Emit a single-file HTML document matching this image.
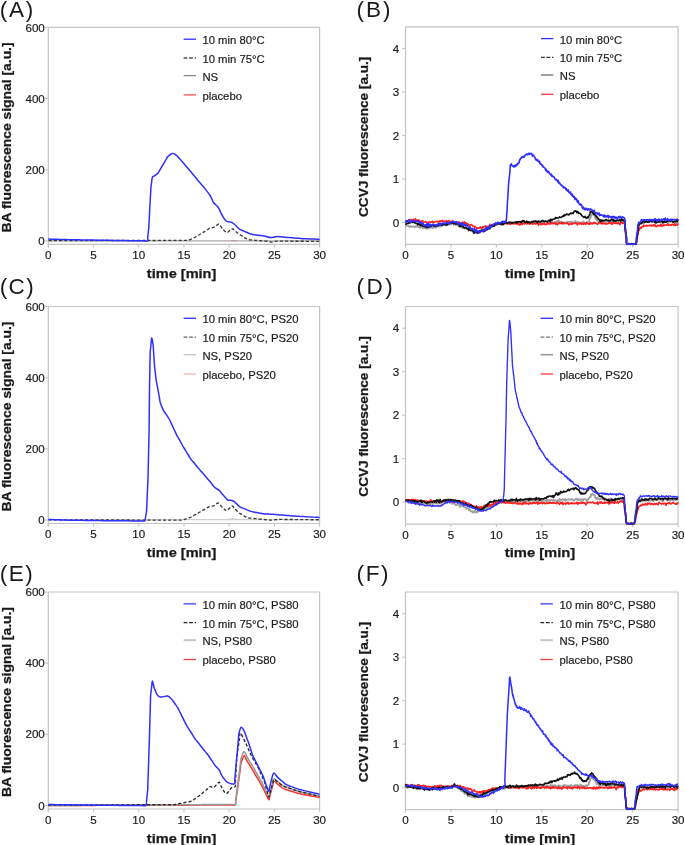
<!DOCTYPE html><html><head><meta charset="utf-8"><style>html,body{margin:0;padding:0;background:#fff;width:685px;height:845px;overflow:hidden}</style></head><body><svg width="685" height="845" viewBox="0 0 685 845" style="font-family:'Liberation Sans', sans-serif;display:block;will-change:transform">
<rect width="685" height="845" fill="#fff"/>
<path d="M48.3,27.4 H319.6 V244.4 M48.3,27.4 V247.4 M48.3,244.4 H319.6" stroke="#c4c4c4" stroke-width="1.2" fill="none"/>
<path d="M48.30,244.4 V247.4" stroke="#c4c4c4" stroke-width="1.1"/>
<text x="48.30" y="259.0" font-size="11.6" font-weight="normal" text-anchor="middle" fill="#1a1a1a"  stroke="#1a1a1a" stroke-width="0.18">0</text>
<path d="M93.52,244.4 V247.4" stroke="#c4c4c4" stroke-width="1.1"/>
<text x="93.52" y="259.0" font-size="11.6" font-weight="normal" text-anchor="middle" fill="#1a1a1a"  stroke="#1a1a1a" stroke-width="0.18">5</text>
<path d="M138.73,244.4 V247.4" stroke="#c4c4c4" stroke-width="1.1"/>
<text x="138.73" y="259.0" font-size="11.6" font-weight="normal" text-anchor="middle" fill="#1a1a1a"  stroke="#1a1a1a" stroke-width="0.18">10</text>
<path d="M183.95,244.4 V247.4" stroke="#c4c4c4" stroke-width="1.1"/>
<text x="183.95" y="259.0" font-size="11.6" font-weight="normal" text-anchor="middle" fill="#1a1a1a"  stroke="#1a1a1a" stroke-width="0.18">15</text>
<path d="M229.17,244.4 V247.4" stroke="#c4c4c4" stroke-width="1.1"/>
<text x="229.17" y="259.0" font-size="11.6" font-weight="normal" text-anchor="middle" fill="#1a1a1a"  stroke="#1a1a1a" stroke-width="0.18">20</text>
<path d="M274.38,244.4 V247.4" stroke="#c4c4c4" stroke-width="1.1"/>
<text x="274.38" y="259.0" font-size="11.6" font-weight="normal" text-anchor="middle" fill="#1a1a1a"  stroke="#1a1a1a" stroke-width="0.18">25</text>
<path d="M319.60,244.4 V247.4" stroke="#c4c4c4" stroke-width="1.1"/>
<text x="319.60" y="259.0" font-size="11.6" font-weight="normal" text-anchor="middle" fill="#1a1a1a"  stroke="#1a1a1a" stroke-width="0.18">30</text>
<path d="M45.099999999999994,240.90 H48.3" stroke="#c4c4c4" stroke-width="1.1"/>
<path d="M45.099999999999994,169.73 H48.3" stroke="#c4c4c4" stroke-width="1.1"/>
<path d="M45.099999999999994,98.57 H48.3" stroke="#c4c4c4" stroke-width="1.1"/>
<path d="M45.099999999999994,27.40 H48.3" stroke="#c4c4c4" stroke-width="1.1"/>
<text x="44.8" y="245.00" font-size="11.6" font-weight="normal" text-anchor="end" fill="#1a1a1a"  stroke="#1a1a1a" stroke-width="0.18">0</text>
<text x="44.8" y="173.83" font-size="11.6" font-weight="normal" text-anchor="end" fill="#1a1a1a"  stroke="#1a1a1a" stroke-width="0.18">200</text>
<text x="44.8" y="102.67" font-size="11.6" font-weight="normal" text-anchor="end" fill="#1a1a1a"  stroke="#1a1a1a" stroke-width="0.18">400</text>
<text x="44.8" y="31.50" font-size="11.6" font-weight="normal" text-anchor="end" fill="#1a1a1a"  stroke="#1a1a1a" stroke-width="0.18">600</text>
<path d="M405.5,26.8 H678.1 V244.4 M405.5,26.8 V247.4 M405.5,244.4 H678.1" stroke="#c4c4c4" stroke-width="1.2" fill="none"/>
<path d="M405.50,244.4 V247.4" stroke="#c4c4c4" stroke-width="1.1"/>
<text x="405.50" y="259.0" font-size="11.6" font-weight="normal" text-anchor="middle" fill="#1a1a1a"  stroke="#1a1a1a" stroke-width="0.18">0</text>
<path d="M450.93,244.4 V247.4" stroke="#c4c4c4" stroke-width="1.1"/>
<text x="450.93" y="259.0" font-size="11.6" font-weight="normal" text-anchor="middle" fill="#1a1a1a"  stroke="#1a1a1a" stroke-width="0.18">5</text>
<path d="M496.37,244.4 V247.4" stroke="#c4c4c4" stroke-width="1.1"/>
<text x="496.37" y="259.0" font-size="11.6" font-weight="normal" text-anchor="middle" fill="#1a1a1a"  stroke="#1a1a1a" stroke-width="0.18">10</text>
<path d="M541.80,244.4 V247.4" stroke="#c4c4c4" stroke-width="1.1"/>
<text x="541.80" y="259.0" font-size="11.6" font-weight="normal" text-anchor="middle" fill="#1a1a1a"  stroke="#1a1a1a" stroke-width="0.18">15</text>
<path d="M587.23,244.4 V247.4" stroke="#c4c4c4" stroke-width="1.1"/>
<text x="587.23" y="259.0" font-size="11.6" font-weight="normal" text-anchor="middle" fill="#1a1a1a"  stroke="#1a1a1a" stroke-width="0.18">20</text>
<path d="M632.67,244.4 V247.4" stroke="#c4c4c4" stroke-width="1.1"/>
<text x="632.67" y="259.0" font-size="11.6" font-weight="normal" text-anchor="middle" fill="#1a1a1a"  stroke="#1a1a1a" stroke-width="0.18">25</text>
<path d="M678.10,244.4 V247.4" stroke="#c4c4c4" stroke-width="1.1"/>
<text x="678.10" y="259.0" font-size="11.6" font-weight="normal" text-anchor="middle" fill="#1a1a1a"  stroke="#1a1a1a" stroke-width="0.18">30</text>
<path d="M402.3,222.40 H405.5" stroke="#c4c4c4" stroke-width="1.1"/>
<path d="M402.3,178.93 H405.5" stroke="#c4c4c4" stroke-width="1.1"/>
<path d="M402.3,135.46 H405.5" stroke="#c4c4c4" stroke-width="1.1"/>
<path d="M402.3,91.99 H405.5" stroke="#c4c4c4" stroke-width="1.1"/>
<path d="M402.3,48.52 H405.5" stroke="#c4c4c4" stroke-width="1.1"/>
<text x="399.2" y="226.50" font-size="11.6" font-weight="normal" text-anchor="end" fill="#1a1a1a"  stroke="#1a1a1a" stroke-width="0.18">0</text>
<text x="399.2" y="183.03" font-size="11.6" font-weight="normal" text-anchor="end" fill="#1a1a1a"  stroke="#1a1a1a" stroke-width="0.18">1</text>
<text x="399.2" y="139.56" font-size="11.6" font-weight="normal" text-anchor="end" fill="#1a1a1a"  stroke="#1a1a1a" stroke-width="0.18">2</text>
<text x="399.2" y="96.09" font-size="11.6" font-weight="normal" text-anchor="end" fill="#1a1a1a"  stroke="#1a1a1a" stroke-width="0.18">3</text>
<text x="399.2" y="52.62" font-size="11.6" font-weight="normal" text-anchor="end" fill="#1a1a1a"  stroke="#1a1a1a" stroke-width="0.18">4</text>
<text x="181.6" y="277.9" font-size="12.6" font-weight="bold" text-anchor="middle" fill="#1a1a1a" textLength="69.5" lengthAdjust="spacingAndGlyphs" stroke="#1a1a1a" stroke-width="0.25">time [min]</text>
<text x="540.0" y="277.7" font-size="12.6" font-weight="bold" text-anchor="middle" fill="#1a1a1a" textLength="70.5" lengthAdjust="spacingAndGlyphs" stroke="#1a1a1a" stroke-width="0.25">time [min]</text>
<text transform="translate(11.3,232.4) rotate(-90)" font-size="12.3" font-weight="bold" fill="#1a1a1a" stroke="#1a1a1a" stroke-width="0.25" textLength="190.0" lengthAdjust="spacingAndGlyphs">BA fluorescence signal [a.u.]</text>
<text transform="translate(368.2,217.0) rotate(-90)" font-size="12.3" font-weight="bold" fill="#1a1a1a" stroke="#1a1a1a" stroke-width="0.25" textLength="160.4" lengthAdjust="spacingAndGlyphs">CCVJ fluorescence [a.u.]</text>
<text x="-0.3" y="16.6" font-size="22.5" font-weight="normal" text-anchor="start" fill="#1a1a1a" textLength="33.5" lengthAdjust="spacing">(A)</text>
<text x="356.6" y="16.6" font-size="22.5" font-weight="normal" text-anchor="start" fill="#1a1a1a" textLength="34.0" lengthAdjust="spacing">(B)</text>
<path d="M48.3,306.5 H319.6 V523.5 M48.3,306.5 V526.5 M48.3,523.5 H319.6" stroke="#c4c4c4" stroke-width="1.2" fill="none"/>
<path d="M48.30,523.5 V526.5" stroke="#c4c4c4" stroke-width="1.1"/>
<text x="48.30" y="538.1" font-size="11.6" font-weight="normal" text-anchor="middle" fill="#1a1a1a"  stroke="#1a1a1a" stroke-width="0.18">0</text>
<path d="M93.52,523.5 V526.5" stroke="#c4c4c4" stroke-width="1.1"/>
<text x="93.52" y="538.1" font-size="11.6" font-weight="normal" text-anchor="middle" fill="#1a1a1a"  stroke="#1a1a1a" stroke-width="0.18">5</text>
<path d="M138.73,523.5 V526.5" stroke="#c4c4c4" stroke-width="1.1"/>
<text x="138.73" y="538.1" font-size="11.6" font-weight="normal" text-anchor="middle" fill="#1a1a1a"  stroke="#1a1a1a" stroke-width="0.18">10</text>
<path d="M183.95,523.5 V526.5" stroke="#c4c4c4" stroke-width="1.1"/>
<text x="183.95" y="538.1" font-size="11.6" font-weight="normal" text-anchor="middle" fill="#1a1a1a"  stroke="#1a1a1a" stroke-width="0.18">15</text>
<path d="M229.17,523.5 V526.5" stroke="#c4c4c4" stroke-width="1.1"/>
<text x="229.17" y="538.1" font-size="11.6" font-weight="normal" text-anchor="middle" fill="#1a1a1a"  stroke="#1a1a1a" stroke-width="0.18">20</text>
<path d="M274.38,523.5 V526.5" stroke="#c4c4c4" stroke-width="1.1"/>
<text x="274.38" y="538.1" font-size="11.6" font-weight="normal" text-anchor="middle" fill="#1a1a1a"  stroke="#1a1a1a" stroke-width="0.18">25</text>
<path d="M319.60,523.5 V526.5" stroke="#c4c4c4" stroke-width="1.1"/>
<text x="319.60" y="538.1" font-size="11.6" font-weight="normal" text-anchor="middle" fill="#1a1a1a"  stroke="#1a1a1a" stroke-width="0.18">30</text>
<path d="M45.099999999999994,520.00 H48.3" stroke="#c4c4c4" stroke-width="1.1"/>
<path d="M45.099999999999994,448.83 H48.3" stroke="#c4c4c4" stroke-width="1.1"/>
<path d="M45.099999999999994,377.67 H48.3" stroke="#c4c4c4" stroke-width="1.1"/>
<path d="M45.099999999999994,306.50 H48.3" stroke="#c4c4c4" stroke-width="1.1"/>
<text x="44.8" y="524.10" font-size="11.6" font-weight="normal" text-anchor="end" fill="#1a1a1a"  stroke="#1a1a1a" stroke-width="0.18">0</text>
<text x="44.8" y="452.93" font-size="11.6" font-weight="normal" text-anchor="end" fill="#1a1a1a"  stroke="#1a1a1a" stroke-width="0.18">200</text>
<text x="44.8" y="381.77" font-size="11.6" font-weight="normal" text-anchor="end" fill="#1a1a1a"  stroke="#1a1a1a" stroke-width="0.18">400</text>
<text x="44.8" y="310.60" font-size="11.6" font-weight="normal" text-anchor="end" fill="#1a1a1a"  stroke="#1a1a1a" stroke-width="0.18">600</text>
<path d="M405.5,306.5 H678.1 V524.1 M405.5,306.5 V527.1 M405.5,524.1 H678.1" stroke="#c4c4c4" stroke-width="1.2" fill="none"/>
<path d="M405.50,524.1 V527.1" stroke="#c4c4c4" stroke-width="1.1"/>
<text x="405.50" y="538.7" font-size="11.6" font-weight="normal" text-anchor="middle" fill="#1a1a1a"  stroke="#1a1a1a" stroke-width="0.18">0</text>
<path d="M450.93,524.1 V527.1" stroke="#c4c4c4" stroke-width="1.1"/>
<text x="450.93" y="538.7" font-size="11.6" font-weight="normal" text-anchor="middle" fill="#1a1a1a"  stroke="#1a1a1a" stroke-width="0.18">5</text>
<path d="M496.37,524.1 V527.1" stroke="#c4c4c4" stroke-width="1.1"/>
<text x="496.37" y="538.7" font-size="11.6" font-weight="normal" text-anchor="middle" fill="#1a1a1a"  stroke="#1a1a1a" stroke-width="0.18">10</text>
<path d="M541.80,524.1 V527.1" stroke="#c4c4c4" stroke-width="1.1"/>
<text x="541.80" y="538.7" font-size="11.6" font-weight="normal" text-anchor="middle" fill="#1a1a1a"  stroke="#1a1a1a" stroke-width="0.18">15</text>
<path d="M587.23,524.1 V527.1" stroke="#c4c4c4" stroke-width="1.1"/>
<text x="587.23" y="538.7" font-size="11.6" font-weight="normal" text-anchor="middle" fill="#1a1a1a"  stroke="#1a1a1a" stroke-width="0.18">20</text>
<path d="M632.67,524.1 V527.1" stroke="#c4c4c4" stroke-width="1.1"/>
<text x="632.67" y="538.7" font-size="11.6" font-weight="normal" text-anchor="middle" fill="#1a1a1a"  stroke="#1a1a1a" stroke-width="0.18">25</text>
<path d="M678.10,524.1 V527.1" stroke="#c4c4c4" stroke-width="1.1"/>
<text x="678.10" y="538.7" font-size="11.6" font-weight="normal" text-anchor="middle" fill="#1a1a1a"  stroke="#1a1a1a" stroke-width="0.18">30</text>
<path d="M402.3,502.10 H405.5" stroke="#c4c4c4" stroke-width="1.1"/>
<path d="M402.3,458.63 H405.5" stroke="#c4c4c4" stroke-width="1.1"/>
<path d="M402.3,415.16 H405.5" stroke="#c4c4c4" stroke-width="1.1"/>
<path d="M402.3,371.69 H405.5" stroke="#c4c4c4" stroke-width="1.1"/>
<path d="M402.3,328.22 H405.5" stroke="#c4c4c4" stroke-width="1.1"/>
<text x="399.2" y="506.20" font-size="11.6" font-weight="normal" text-anchor="end" fill="#1a1a1a"  stroke="#1a1a1a" stroke-width="0.18">0</text>
<text x="399.2" y="462.73" font-size="11.6" font-weight="normal" text-anchor="end" fill="#1a1a1a"  stroke="#1a1a1a" stroke-width="0.18">1</text>
<text x="399.2" y="419.26" font-size="11.6" font-weight="normal" text-anchor="end" fill="#1a1a1a"  stroke="#1a1a1a" stroke-width="0.18">2</text>
<text x="399.2" y="375.79" font-size="11.6" font-weight="normal" text-anchor="end" fill="#1a1a1a"  stroke="#1a1a1a" stroke-width="0.18">3</text>
<text x="399.2" y="332.32" font-size="11.6" font-weight="normal" text-anchor="end" fill="#1a1a1a"  stroke="#1a1a1a" stroke-width="0.18">4</text>
<text x="181.6" y="557.0" font-size="12.6" font-weight="bold" text-anchor="middle" fill="#1a1a1a" textLength="69.5" lengthAdjust="spacingAndGlyphs" stroke="#1a1a1a" stroke-width="0.25">time [min]</text>
<text x="540.0" y="557.4" font-size="12.6" font-weight="bold" text-anchor="middle" fill="#1a1a1a" textLength="70.5" lengthAdjust="spacingAndGlyphs" stroke="#1a1a1a" stroke-width="0.25">time [min]</text>
<text transform="translate(11.3,511.5) rotate(-90)" font-size="12.3" font-weight="bold" fill="#1a1a1a" stroke="#1a1a1a" stroke-width="0.25" textLength="190.0" lengthAdjust="spacingAndGlyphs">BA fluorescence signal [a.u.]</text>
<text transform="translate(368.2,496.7) rotate(-90)" font-size="12.3" font-weight="bold" fill="#1a1a1a" stroke="#1a1a1a" stroke-width="0.25" textLength="160.4" lengthAdjust="spacingAndGlyphs">CCVJ fluorescence [a.u.]</text>
<text x="-0.3" y="293.9" font-size="22.5" font-weight="normal" text-anchor="start" fill="#1a1a1a" textLength="34.0" lengthAdjust="spacing">(C)</text>
<text x="356.6" y="293.9" font-size="22.5" font-weight="normal" text-anchor="start" fill="#1a1a1a" textLength="36.2" lengthAdjust="spacing">(D)</text>
<path d="M48.3,592.0 H319.6 V809.0 M48.3,592.0 V812.0 M48.3,809.0 H319.6" stroke="#c4c4c4" stroke-width="1.2" fill="none"/>
<path d="M48.30,809.0 V812.0" stroke="#c4c4c4" stroke-width="1.1"/>
<text x="48.30" y="823.6" font-size="11.6" font-weight="normal" text-anchor="middle" fill="#1a1a1a"  stroke="#1a1a1a" stroke-width="0.18">0</text>
<path d="M93.52,809.0 V812.0" stroke="#c4c4c4" stroke-width="1.1"/>
<text x="93.52" y="823.6" font-size="11.6" font-weight="normal" text-anchor="middle" fill="#1a1a1a"  stroke="#1a1a1a" stroke-width="0.18">5</text>
<path d="M138.73,809.0 V812.0" stroke="#c4c4c4" stroke-width="1.1"/>
<text x="138.73" y="823.6" font-size="11.6" font-weight="normal" text-anchor="middle" fill="#1a1a1a"  stroke="#1a1a1a" stroke-width="0.18">10</text>
<path d="M183.95,809.0 V812.0" stroke="#c4c4c4" stroke-width="1.1"/>
<text x="183.95" y="823.6" font-size="11.6" font-weight="normal" text-anchor="middle" fill="#1a1a1a"  stroke="#1a1a1a" stroke-width="0.18">15</text>
<path d="M229.17,809.0 V812.0" stroke="#c4c4c4" stroke-width="1.1"/>
<text x="229.17" y="823.6" font-size="11.6" font-weight="normal" text-anchor="middle" fill="#1a1a1a"  stroke="#1a1a1a" stroke-width="0.18">20</text>
<path d="M274.38,809.0 V812.0" stroke="#c4c4c4" stroke-width="1.1"/>
<text x="274.38" y="823.6" font-size="11.6" font-weight="normal" text-anchor="middle" fill="#1a1a1a"  stroke="#1a1a1a" stroke-width="0.18">25</text>
<path d="M319.60,809.0 V812.0" stroke="#c4c4c4" stroke-width="1.1"/>
<text x="319.60" y="823.6" font-size="11.6" font-weight="normal" text-anchor="middle" fill="#1a1a1a"  stroke="#1a1a1a" stroke-width="0.18">30</text>
<path d="M45.099999999999994,805.50 H48.3" stroke="#c4c4c4" stroke-width="1.1"/>
<path d="M45.099999999999994,734.33 H48.3" stroke="#c4c4c4" stroke-width="1.1"/>
<path d="M45.099999999999994,663.17 H48.3" stroke="#c4c4c4" stroke-width="1.1"/>
<path d="M45.099999999999994,592.00 H48.3" stroke="#c4c4c4" stroke-width="1.1"/>
<text x="44.8" y="809.60" font-size="11.6" font-weight="normal" text-anchor="end" fill="#1a1a1a"  stroke="#1a1a1a" stroke-width="0.18">0</text>
<text x="44.8" y="738.43" font-size="11.6" font-weight="normal" text-anchor="end" fill="#1a1a1a"  stroke="#1a1a1a" stroke-width="0.18">200</text>
<text x="44.8" y="667.27" font-size="11.6" font-weight="normal" text-anchor="end" fill="#1a1a1a"  stroke="#1a1a1a" stroke-width="0.18">400</text>
<text x="44.8" y="596.10" font-size="11.6" font-weight="normal" text-anchor="end" fill="#1a1a1a"  stroke="#1a1a1a" stroke-width="0.18">600</text>
<path d="M405.5,592.0 H678.1 V809.6 M405.5,592.0 V812.6 M405.5,809.6 H678.1" stroke="#c4c4c4" stroke-width="1.2" fill="none"/>
<path d="M405.50,809.6 V812.6" stroke="#c4c4c4" stroke-width="1.1"/>
<text x="405.50" y="824.2" font-size="11.6" font-weight="normal" text-anchor="middle" fill="#1a1a1a"  stroke="#1a1a1a" stroke-width="0.18">0</text>
<path d="M450.93,809.6 V812.6" stroke="#c4c4c4" stroke-width="1.1"/>
<text x="450.93" y="824.2" font-size="11.6" font-weight="normal" text-anchor="middle" fill="#1a1a1a"  stroke="#1a1a1a" stroke-width="0.18">5</text>
<path d="M496.37,809.6 V812.6" stroke="#c4c4c4" stroke-width="1.1"/>
<text x="496.37" y="824.2" font-size="11.6" font-weight="normal" text-anchor="middle" fill="#1a1a1a"  stroke="#1a1a1a" stroke-width="0.18">10</text>
<path d="M541.80,809.6 V812.6" stroke="#c4c4c4" stroke-width="1.1"/>
<text x="541.80" y="824.2" font-size="11.6" font-weight="normal" text-anchor="middle" fill="#1a1a1a"  stroke="#1a1a1a" stroke-width="0.18">15</text>
<path d="M587.23,809.6 V812.6" stroke="#c4c4c4" stroke-width="1.1"/>
<text x="587.23" y="824.2" font-size="11.6" font-weight="normal" text-anchor="middle" fill="#1a1a1a"  stroke="#1a1a1a" stroke-width="0.18">20</text>
<path d="M632.67,809.6 V812.6" stroke="#c4c4c4" stroke-width="1.1"/>
<text x="632.67" y="824.2" font-size="11.6" font-weight="normal" text-anchor="middle" fill="#1a1a1a"  stroke="#1a1a1a" stroke-width="0.18">25</text>
<path d="M678.10,809.6 V812.6" stroke="#c4c4c4" stroke-width="1.1"/>
<text x="678.10" y="824.2" font-size="11.6" font-weight="normal" text-anchor="middle" fill="#1a1a1a"  stroke="#1a1a1a" stroke-width="0.18">30</text>
<path d="M402.3,787.60 H405.5" stroke="#c4c4c4" stroke-width="1.1"/>
<path d="M402.3,744.13 H405.5" stroke="#c4c4c4" stroke-width="1.1"/>
<path d="M402.3,700.66 H405.5" stroke="#c4c4c4" stroke-width="1.1"/>
<path d="M402.3,657.19 H405.5" stroke="#c4c4c4" stroke-width="1.1"/>
<path d="M402.3,613.72 H405.5" stroke="#c4c4c4" stroke-width="1.1"/>
<text x="399.2" y="791.70" font-size="11.6" font-weight="normal" text-anchor="end" fill="#1a1a1a"  stroke="#1a1a1a" stroke-width="0.18">0</text>
<text x="399.2" y="748.23" font-size="11.6" font-weight="normal" text-anchor="end" fill="#1a1a1a"  stroke="#1a1a1a" stroke-width="0.18">1</text>
<text x="399.2" y="704.76" font-size="11.6" font-weight="normal" text-anchor="end" fill="#1a1a1a"  stroke="#1a1a1a" stroke-width="0.18">2</text>
<text x="399.2" y="661.29" font-size="11.6" font-weight="normal" text-anchor="end" fill="#1a1a1a"  stroke="#1a1a1a" stroke-width="0.18">3</text>
<text x="399.2" y="617.82" font-size="11.6" font-weight="normal" text-anchor="end" fill="#1a1a1a"  stroke="#1a1a1a" stroke-width="0.18">4</text>
<text x="181.6" y="842.5" font-size="12.6" font-weight="bold" text-anchor="middle" fill="#1a1a1a" textLength="69.5" lengthAdjust="spacingAndGlyphs" stroke="#1a1a1a" stroke-width="0.25">time [min]</text>
<text x="540.0" y="842.9" font-size="12.6" font-weight="bold" text-anchor="middle" fill="#1a1a1a" textLength="70.5" lengthAdjust="spacingAndGlyphs" stroke="#1a1a1a" stroke-width="0.25">time [min]</text>
<text transform="translate(11.3,797.0) rotate(-90)" font-size="12.3" font-weight="bold" fill="#1a1a1a" stroke="#1a1a1a" stroke-width="0.25" textLength="190.0" lengthAdjust="spacingAndGlyphs">BA fluorescence signal [a.u.]</text>
<text transform="translate(368.2,782.2) rotate(-90)" font-size="12.3" font-weight="bold" fill="#1a1a1a" stroke="#1a1a1a" stroke-width="0.25" textLength="160.4" lengthAdjust="spacingAndGlyphs">CCVJ fluorescence [a.u.]</text>
<text x="-0.3" y="580.7" font-size="22.5" font-weight="normal" text-anchor="start" fill="#1a1a1a" textLength="33.0" lengthAdjust="spacing">(E)</text>
<text x="356.6" y="580.7" font-size="22.5" font-weight="normal" text-anchor="start" fill="#1a1a1a" textLength="31.8" lengthAdjust="spacing">(F)</text>
<path d="M183.6,39.20 H196.0" stroke="#2f2fff" stroke-width="1.3" />
<text x="202.4" y="44.10" font-size="11.3" font-weight="normal" text-anchor="start" fill="#1a1a1a"  stroke="#1a1a1a" stroke-width="0.18">10 min 80°C</text>
<path d="M183.6,58.00 H196.0" stroke="#555" stroke-width="1.3" stroke-dasharray="3.8,1.7"/>
<text x="202.4" y="62.90" font-size="11.3" font-weight="normal" text-anchor="start" fill="#1a1a1a"  stroke="#1a1a1a" stroke-width="0.18">10 min 75°C</text>
<path d="M183.6,75.60 H196.0" stroke="#8a8a8a" stroke-width="1.3" />
<text x="202.4" y="80.50" font-size="11.3" font-weight="normal" text-anchor="start" fill="#1a1a1a"  stroke="#1a1a1a" stroke-width="0.18">NS</text>
<path d="M183.6,94.90 H196.0" stroke="#ff5050" stroke-width="1.3" />
<text x="202.4" y="99.80" font-size="11.3" font-weight="normal" text-anchor="start" fill="#1a1a1a"  stroke="#1a1a1a" stroke-width="0.18">placebo</text>
<path d="M541.0,38.60 H553.4" stroke="#2f2fff" stroke-width="1.3" />
<text x="559.8" y="43.50" font-size="11.3" font-weight="normal" text-anchor="start" fill="#1a1a1a"  stroke="#1a1a1a" stroke-width="0.18">10 min 80°C</text>
<path d="M541.0,57.40 H553.4" stroke="#333" stroke-width="1.3" stroke-dasharray="3.8,1.7"/>
<text x="559.8" y="62.30" font-size="11.3" font-weight="normal" text-anchor="start" fill="#1a1a1a"  stroke="#1a1a1a" stroke-width="0.18">10 min 75°C</text>
<path d="M541.0,75.00 H553.4" stroke="#8a8a8a" stroke-width="1.6" />
<text x="559.8" y="79.90" font-size="11.3" font-weight="normal" text-anchor="start" fill="#1a1a1a"  stroke="#1a1a1a" stroke-width="0.18">NS</text>
<path d="M541.0,94.30 H553.4" stroke="#ff3a3a" stroke-width="1.3" />
<text x="559.8" y="99.20" font-size="11.3" font-weight="normal" text-anchor="start" fill="#1a1a1a"  stroke="#1a1a1a" stroke-width="0.18">placebo</text>
<path d="M183.6,318.30 H196.0" stroke="#2f2fff" stroke-width="1.3" />
<text x="202.4" y="323.20" font-size="11.3" font-weight="normal" text-anchor="start" fill="#1a1a1a"  stroke="#1a1a1a" stroke-width="0.18">10 min 80°C, PS20</text>
<path d="M183.6,337.10 H196.0" stroke="#666" stroke-width="1.3" stroke-dasharray="3.8,1.7"/>
<text x="202.4" y="342.00" font-size="11.3" font-weight="normal" text-anchor="start" fill="#1a1a1a"  stroke="#1a1a1a" stroke-width="0.18">10 min 75°C, PS20</text>
<path d="M183.6,354.70 H196.0" stroke="#c8c8c8" stroke-width="1.3" />
<text x="202.4" y="359.60" font-size="11.3" font-weight="normal" text-anchor="start" fill="#1a1a1a"  stroke="#1a1a1a" stroke-width="0.18">NS, PS20</text>
<path d="M183.6,374.00 H196.0" stroke="#f4b4b4" stroke-width="1.3" />
<text x="202.4" y="378.90" font-size="11.3" font-weight="normal" text-anchor="start" fill="#1a1a1a"  stroke="#1a1a1a" stroke-width="0.18">placebo, PS20</text>
<path d="M540.6,318.30 H553.0" stroke="#2f2fff" stroke-width="1.3" />
<text x="559.4" y="323.20" font-size="11.3" font-weight="normal" text-anchor="start" fill="#1a1a1a"  stroke="#1a1a1a" stroke-width="0.18">10 min 80°C, PS20</text>
<path d="M540.6,337.10 H553.0" stroke="#777" stroke-width="1.3" stroke-dasharray="3.8,1.7"/>
<text x="559.4" y="342.00" font-size="11.3" font-weight="normal" text-anchor="start" fill="#1a1a1a"  stroke="#1a1a1a" stroke-width="0.18">10 min 75°C, PS20</text>
<path d="M540.6,354.70 H553.0" stroke="#999" stroke-width="1.6" />
<text x="559.4" y="359.60" font-size="11.3" font-weight="normal" text-anchor="start" fill="#1a1a1a"  stroke="#1a1a1a" stroke-width="0.18">NS, PS20</text>
<path d="M540.6,374.00 H553.0" stroke="#ff3a3a" stroke-width="1.3" />
<text x="559.4" y="378.90" font-size="11.3" font-weight="normal" text-anchor="start" fill="#1a1a1a"  stroke="#1a1a1a" stroke-width="0.18">placebo, PS20</text>
<path d="M183.6,603.80 H196.0" stroke="#6a6aff" stroke-width="1.8" />
<text x="202.4" y="608.70" font-size="11.3" font-weight="normal" text-anchor="start" fill="#1a1a1a"  stroke="#1a1a1a" stroke-width="0.18">10 min 80°C, PS80</text>
<path d="M183.6,622.60 H196.0" stroke="#222" stroke-width="1.3" stroke-dasharray="3.8,1.7"/>
<text x="202.4" y="627.50" font-size="11.3" font-weight="normal" text-anchor="start" fill="#1a1a1a"  stroke="#1a1a1a" stroke-width="0.18">10 min 75°C, PS80</text>
<path d="M183.6,640.20 H196.0" stroke="#c4c4c4" stroke-width="2.0" />
<text x="202.4" y="645.10" font-size="11.3" font-weight="normal" text-anchor="start" fill="#1a1a1a"  stroke="#1a1a1a" stroke-width="0.18">NS, PS80</text>
<path d="M183.6,659.50 H196.0" stroke="#ff4040" stroke-width="1.3" />
<text x="202.4" y="664.40" font-size="11.3" font-weight="normal" text-anchor="start" fill="#1a1a1a"  stroke="#1a1a1a" stroke-width="0.18">placebo, PS80</text>
<path d="M540.4,603.80 H552.8" stroke="#6a6aff" stroke-width="1.8" />
<text x="559.4" y="608.70" font-size="11.3" font-weight="normal" text-anchor="start" fill="#1a1a1a"  stroke="#1a1a1a" stroke-width="0.18">10 min 80°C, PS80</text>
<path d="M540.4,622.60 H552.8" stroke="#222" stroke-width="1.3" stroke-dasharray="3.8,1.7"/>
<text x="559.4" y="627.50" font-size="11.3" font-weight="normal" text-anchor="start" fill="#1a1a1a"  stroke="#1a1a1a" stroke-width="0.18">10 min 75°C, PS80</text>
<path d="M540.4,640.20 H552.8" stroke="#c4c4c4" stroke-width="2.0" />
<text x="559.4" y="645.10" font-size="11.3" font-weight="normal" text-anchor="start" fill="#1a1a1a"  stroke="#1a1a1a" stroke-width="0.18">NS, PS80</text>
<path d="M540.4,659.50 H552.8" stroke="#ff4040" stroke-width="1.3" />
<text x="559.4" y="664.40" font-size="11.3" font-weight="normal" text-anchor="start" fill="#1a1a1a"  stroke="#1a1a1a" stroke-width="0.18">placebo, PS80</text>
<path d="M231,240.6 H237" stroke="#ff8080" stroke-width="1.2"/>
<path d="M48.30,240.90 C48.97,240.90 51.00,240.90 52.35,240.90 C53.70,240.90 55.05,240.90 56.40,240.90 C57.75,240.90 59.10,240.90 60.45,240.90 C61.80,240.90 63.15,240.90 64.50,240.90 C65.85,240.90 67.20,240.90 68.55,240.90 C69.90,240.90 71.25,240.90 72.60,240.90 C73.95,240.90 75.30,240.90 76.64,240.90 C77.99,240.90 79.34,240.90 80.69,240.90 C82.04,240.90 83.39,240.90 84.74,240.90 C86.09,240.90 87.44,240.90 88.79,240.90 C90.14,240.90 91.49,240.90 92.84,240.90 C94.19,240.90 95.54,240.90 96.89,240.90 C98.24,240.90 99.59,240.90 100.94,240.90 C102.29,240.90 103.64,240.90 104.99,240.90 C106.34,240.90 107.69,240.90 109.04,240.90 C110.39,240.90 111.74,240.90 113.09,240.90 C114.44,240.90 115.79,240.90 117.14,240.90 C118.49,240.90 119.84,240.90 121.19,240.90 C122.54,240.90 123.89,240.90 125.24,240.90 C126.59,240.90 127.94,240.90 129.29,240.90 C130.63,240.90 131.98,240.90 133.33,240.90 C134.68,240.90 136.03,240.90 137.38,240.90 C138.73,240.90 140.08,240.90 141.43,240.90 C142.78,240.90 144.13,240.90 145.48,240.90 C146.83,240.90 148.18,240.90 149.53,240.90 C150.88,240.90 152.23,240.90 153.58,240.90 C154.93,240.90 156.28,240.90 157.63,240.90 C158.98,240.90 160.33,240.90 161.68,240.90 C163.03,240.90 164.38,240.90 165.73,240.90 C167.08,240.90 168.43,240.90 169.78,240.90 C171.13,240.90 172.48,240.90 173.83,240.90 C175.18,240.90 176.53,240.90 177.88,240.90 C179.23,240.90 180.58,240.90 181.93,240.90 C183.28,240.90 184.62,240.90 185.97,240.90 C187.32,240.90 188.67,240.90 190.02,240.90 C191.37,240.90 192.72,240.90 194.07,240.90 C195.42,240.90 196.77,240.90 198.12,240.90 C199.47,240.90 200.82,240.90 202.17,240.90 C203.52,240.90 204.87,240.90 206.22,240.90 C207.57,240.90 208.92,240.90 210.27,240.90 C211.62,240.90 212.97,240.90 214.32,240.90 C215.67,240.90 217.02,240.90 218.37,240.90 C219.72,240.90 221.07,240.90 222.42,240.90 C223.77,240.90 225.12,240.90 226.47,240.90 C227.82,240.90 229.17,240.90 230.52,240.90 C231.87,240.90 233.22,240.90 234.57,240.90 C235.92,240.90 237.27,240.90 238.61,240.90 C239.96,240.90 241.31,240.90 242.66,240.90 C244.01,240.90 245.36,240.90 246.71,240.90 C248.06,240.90 249.41,240.90 250.76,240.90 C252.11,240.90 253.46,240.90 254.81,240.90 C256.16,240.90 257.51,240.90 258.86,240.90 C260.21,240.90 261.56,240.90 262.91,240.90 C264.26,240.90 265.61,240.90 266.96,240.90 C268.31,240.90 269.66,240.90 271.01,240.90 C272.36,240.90 273.71,240.90 275.06,240.90 C276.41,240.90 277.76,240.90 279.11,240.90 C280.46,240.90 281.81,240.90 283.16,240.90 C284.51,240.90 285.86,240.90 287.21,240.90 C288.56,240.90 289.91,240.90 291.26,240.90 C292.60,240.90 293.95,240.90 295.30,240.90 C296.65,240.90 298.00,240.90 299.35,240.90 C300.70,240.90 302.05,240.90 303.40,240.90 C304.75,240.90 306.10,240.90 307.45,240.90 C308.80,240.90 310.15,240.90 311.50,240.90 C312.85,240.90 314.20,240.90 315.55,240.90 C316.90,240.90 318.93,240.90 319.60,240.90" stroke="#a8a8a8" stroke-width="1.3" fill="none" stroke-linejoin="round" />
<path d="M48.58,240.60 L49.33,240.60 L50.31,240.60 L51.32,240.60 L52.33,240.59 L53.33,240.59 L54.34,240.59 L55.35,240.59 L56.35,240.59 L57.36,240.59 L58.36,240.59 L59.37,240.58 L60.38,240.58 L61.38,240.58 L62.39,240.58 L63.40,240.58 L64.40,240.58 L65.41,240.58 L66.42,240.57 L67.42,240.57 L68.43,240.57 L69.44,240.57 L70.44,240.57 L71.45,240.57 L72.46,240.57 L73.46,240.56 L74.47,240.56 L75.47,240.56 L76.48,240.56 L77.49,240.56 L78.49,240.56 L79.50,240.56 L80.51,240.55 L81.51,240.55 L82.52,240.55 L83.53,240.55 L84.53,240.55 L85.54,240.55 L86.55,240.55 L87.55,240.54 L88.56,240.54 L89.57,240.54 L90.57,240.54 L91.58,240.54 L92.58,240.54 L93.59,240.54 L94.60,240.53 L95.60,240.53 L96.61,240.53 L97.62,240.53 L98.62,240.53 L99.63,240.53 L100.64,240.53 L101.64,240.52 L102.65,240.52 L103.66,240.52 L104.66,240.52 L105.67,240.52 L106.68,240.52 L107.68,240.52 L108.69,240.51 L109.69,240.51 L110.70,240.51 L111.71,240.51 L112.71,240.51 L113.72,240.51 L114.73,240.51 L115.73,240.50 L116.74,240.50 L117.75,240.50 L118.75,240.50 L119.76,240.50 L120.77,240.50 L121.77,240.49 L122.78,240.49 L123.79,240.49 L124.79,240.49 L125.80,240.49 L126.81,240.49 L127.81,240.49 L128.82,240.48 L129.82,240.48 L130.83,240.48 L131.84,240.48 L132.84,240.48 L133.85,240.48 L134.86,240.48 L135.86,240.47 L136.87,240.47 L137.88,240.47 L138.88,240.47 L139.89,240.47 L140.90,240.47 L141.90,240.47 L142.91,240.46 L143.92,240.46 L144.92,240.46 L145.93,240.46 L146.93,240.46 L147.94,240.46 L148.95,240.46 L149.95,240.45 L150.96,240.45 L151.97,240.45 L152.97,240.45 L153.98,240.45 L154.99,240.45 L155.99,240.45 L157.00,240.44 L158.01,240.44 L159.01,240.44 L160.02,240.44 L161.03,240.44 L162.03,240.44 L163.04,240.44 L164.04,240.43 L165.05,240.43 L166.06,240.43 L167.06,240.43 L168.07,240.43 L169.08,240.43 L170.08,240.43 L171.09,240.42 L172.10,240.42 L173.10,240.42 L174.11,240.42 L175.12,240.42 L176.12,240.42 L177.13,240.42 L178.14,240.41 L179.14,240.41 L180.15,240.41 L181.15,240.41 L182.16,240.41 L183.17,240.41 L184.17,240.41 L185.18,240.40 L186.19,240.40 L187.19,240.39 L188.19,240.28 L189.17,239.96 L190.13,239.53 L191.10,239.10 L192.07,238.67 L193.03,238.23 L193.98,237.78 L194.88,237.29 L195.76,236.78 L196.64,236.27 L197.52,235.76 L198.40,235.25 L199.28,234.74 L200.16,234.23 L201.04,233.72 L201.92,233.21 L202.81,232.68 L203.71,232.10 L204.63,231.50 L205.54,230.90 L206.45,230.30 L207.36,229.70 L208.28,229.10 L209.19,228.51 L210.15,228.02 L211.20,227.76 L212.30,227.60 L213.39,227.44 L214.43,227.14 L215.35,226.55 L216.22,225.82 L217.08,225.08 L217.93,224.38 L218.74,224.04 L219.42,224.52 L220.06,225.37 L220.69,226.26 L221.31,227.14 L221.94,228.03 L222.58,228.91 L223.28,229.78 L224.13,230.60 L225.05,231.40 L225.97,232.17 L226.86,232.60 L227.67,232.31 L228.44,231.69 L229.21,231.03 L229.99,230.37 L230.76,229.71 L231.53,229.09 L232.30,228.76 L233.06,229.09 L233.82,229.73 L234.59,230.39 L235.35,231.05 L236.11,231.71 L236.88,232.37 L237.64,233.04 L238.44,233.68 L239.32,234.29 L240.24,234.88 L241.16,235.47 L242.08,236.06 L243.00,236.65 L243.92,237.24 L244.84,237.83 L245.76,238.42 L246.68,239.00 L247.64,239.47 L248.67,239.69 L249.74,239.80 L250.81,239.90 L251.88,240.00 L252.95,240.10 L254.02,240.20 L255.09,240.30 L256.16,240.40 L257.23,240.50 L258.31,240.59 L259.40,240.67 L260.50,240.74 L261.60,240.81 L262.70,240.89 L263.80,240.96 L264.90,241.03 L265.98,241.13 L267.01,241.29 L268.03,241.47 L269.05,241.65 L270.07,241.83 L271.09,242.01 L272.14,242.07 L273.25,241.91 L274.40,241.65 L275.55,241.38 L276.66,241.18 L277.72,241.11 L278.74,241.11 L279.76,241.12 L280.79,241.13 L281.81,241.14 L282.83,241.14 L283.85,241.15 L284.87,241.16 L285.89,241.16 L286.91,241.17 L287.94,241.18 L288.96,241.19 L289.98,241.19 L291.00,241.20 L292.02,241.21 L293.04,241.21 L294.06,241.22 L295.09,241.23 L296.11,241.24 L297.13,241.24 L298.15,241.25 L299.17,241.26 L300.19,241.26 L301.21,241.27 L302.24,241.28 L303.26,241.29 L304.28,241.29 L305.30,241.30 L306.32,241.31 L307.34,241.31 L308.36,241.32 L309.39,241.33 L310.41,241.34 L311.43,241.34 L312.45,241.35 L313.47,241.36 L314.49,241.36 L315.51,241.37 L316.54,241.38 L317.56,241.39 L318.56,241.39 L319.32,241.40" stroke="#3a3a3a" stroke-width="1.35" fill="none" stroke-linejoin="round" stroke-dasharray="3.2,2"/>
<path d="M48.30,239.10 C49.04,239.12 51.27,239.18 52.75,239.22 C54.23,239.26 55.72,239.29 57.20,239.33 C58.68,239.37 60.17,239.41 61.65,239.45 C63.13,239.49 64.62,239.53 66.10,239.57 C67.58,239.61 69.07,239.64 70.55,239.68 C72.03,239.72 73.56,239.77 75.00,239.80 C76.44,239.83 77.78,239.84 79.17,239.87 C80.56,239.89 81.94,239.91 83.33,239.93 C84.72,239.96 86.11,239.98 87.50,240.00 C88.89,240.02 90.28,240.04 91.67,240.07 C93.06,240.09 94.44,240.11 95.83,240.13 C97.22,240.16 98.61,240.18 100.00,240.20 C101.39,240.22 102.78,240.24 104.17,240.27 C105.56,240.29 106.94,240.31 108.33,240.33 C109.72,240.36 111.11,240.38 112.50,240.40 C113.89,240.42 115.28,240.44 116.67,240.47 C118.06,240.49 119.44,240.51 120.83,240.53 C122.22,240.56 123.56,240.58 125.00,240.60 C126.44,240.62 127.97,240.64 129.46,240.66 C130.95,240.68 132.43,240.70 133.92,240.72 C135.41,240.74 136.89,240.76 138.38,240.78 C139.87,240.80 141.35,240.82 142.84,240.84 C144.33,240.86 146.47,241.63 147.30,240.90 C148.13,240.17 147.63,237.94 147.80,236.47 C147.97,234.99 148.13,233.51 148.30,232.03 C148.47,230.56 148.68,229.07 148.80,227.60 C148.92,226.13 148.95,224.68 149.02,223.22 C149.09,221.76 149.17,220.30 149.24,218.84 C149.31,217.38 149.39,215.92 149.46,214.46 C149.53,213.00 149.61,211.54 149.68,210.08 C149.75,208.62 149.82,207.22 149.90,205.70 C149.98,204.18 150.08,202.53 150.18,200.95 C150.27,199.37 150.36,197.78 150.45,196.20 C150.54,194.62 150.63,193.03 150.72,191.45 C150.82,189.87 150.84,188.28 151.00,186.70 C151.16,185.12 151.47,183.53 151.70,181.95 C151.93,180.37 151.92,178.22 152.40,177.20 C152.88,176.17 153.63,176.53 154.60,175.80 C155.57,175.07 157.17,174.03 158.20,172.80 C159.23,171.58 159.93,169.90 160.80,168.45 C161.67,167.00 162.61,165.43 163.40,164.10 C164.19,162.77 164.83,161.67 165.55,160.45 C166.27,159.23 166.61,157.98 167.70,156.80 C168.79,155.62 170.63,153.65 172.10,153.40 C173.57,153.15 175.16,154.31 176.50,155.30 C177.84,156.29 178.93,158.00 180.15,159.35 C181.37,160.70 182.58,162.00 183.80,163.40 C185.02,164.80 186.23,166.30 187.45,167.75 C188.67,169.20 189.88,170.64 191.10,172.10 C192.32,173.56 193.53,175.03 194.75,176.50 C195.97,177.97 197.18,179.44 198.40,180.90 C199.62,182.36 200.83,183.80 202.05,185.25 C203.27,186.70 204.36,187.89 205.70,189.60 C207.04,191.31 209.07,193.91 210.10,195.50 C211.13,197.09 211.30,197.93 211.90,199.15 C212.50,200.37 212.67,201.46 213.70,202.80 C214.73,204.14 217.06,205.86 218.10,207.20 C219.14,208.54 219.33,209.63 219.95,210.85 C220.57,212.07 220.78,212.81 221.80,214.50 C222.83,216.19 224.48,219.72 226.10,221.00 C227.72,222.28 230.08,221.62 231.50,222.20 C232.92,222.78 233.32,223.40 234.60,224.50 C235.88,225.60 237.55,227.65 239.20,228.80 C240.85,229.95 242.58,230.53 244.50,231.40 C246.42,232.27 248.40,233.35 250.70,234.00 C253.00,234.65 256.00,234.97 258.30,235.30 C260.60,235.63 262.45,235.62 264.50,236.00 C266.55,236.38 268.57,237.52 270.60,237.60 C272.63,237.68 275.00,236.62 276.70,236.50 C278.40,236.38 279.43,236.74 280.80,236.87 C282.17,236.99 283.53,237.11 284.90,237.23 C286.27,237.36 287.46,237.48 289.00,237.60 C290.54,237.72 292.42,237.84 294.13,237.97 C295.84,238.09 297.56,238.21 299.27,238.33 C300.98,238.46 302.70,238.61 304.40,238.70 C306.10,238.79 307.78,238.83 309.47,238.90 C311.16,238.97 312.84,239.03 314.53,239.10 C316.22,239.17 318.76,239.27 319.60,239.30" stroke="#2f2fff" stroke-width="1.5" fill="none" stroke-linejoin="round" />
<path d="M48.30,519.80 C48.97,519.80 51.00,519.80 52.35,519.80 C53.70,519.80 55.05,519.80 56.40,519.79 C57.75,519.79 59.10,519.79 60.45,519.79 C61.80,519.79 63.15,519.79 64.50,519.79 C65.85,519.79 67.20,519.79 68.55,519.79 C69.90,519.78 71.25,519.78 72.60,519.78 C73.95,519.78 75.30,519.78 76.64,519.78 C77.99,519.78 79.34,519.78 80.69,519.78 C82.04,519.78 83.39,519.77 84.74,519.77 C86.09,519.77 87.44,519.77 88.79,519.77 C90.14,519.77 91.49,519.77 92.84,519.77 C94.19,519.77 95.54,519.77 96.89,519.76 C98.24,519.76 99.59,519.76 100.94,519.76 C102.29,519.76 103.64,519.76 104.99,519.76 C106.34,519.76 107.69,519.76 109.04,519.76 C110.39,519.75 111.74,519.75 113.09,519.75 C114.44,519.75 115.79,519.75 117.14,519.75 C118.49,519.75 119.84,519.75 121.19,519.75 C122.54,519.75 123.89,519.74 125.24,519.74 C126.59,519.74 127.94,519.74 129.29,519.74 C130.63,519.74 131.98,519.74 133.33,519.74 C134.68,519.74 136.03,519.74 137.38,519.73 C138.73,519.73 140.08,519.73 141.43,519.73 C142.78,519.73 144.13,519.73 145.48,519.73 C146.83,519.73 148.18,519.73 149.53,519.73 C150.88,519.72 152.23,519.72 153.58,519.72 C154.93,519.72 156.28,519.72 157.63,519.72 C158.98,519.72 160.33,519.72 161.68,519.72 C163.03,519.72 164.38,519.71 165.73,519.71 C167.08,519.71 168.43,519.71 169.78,519.71 C171.13,519.71 172.48,519.71 173.83,519.71 C175.18,519.71 176.53,519.71 177.88,519.70 C179.23,519.70 180.58,519.70 181.93,519.70 C183.28,519.70 184.62,519.70 185.97,519.70 C187.32,519.70 188.67,519.70 190.02,519.70 C191.37,519.69 192.72,519.69 194.07,519.69 C195.42,519.69 196.77,519.69 198.12,519.69 C199.47,519.69 200.82,519.69 202.17,519.69 C203.52,519.69 204.87,519.68 206.22,519.68 C207.57,519.68 208.92,519.68 210.27,519.68 C211.62,519.68 212.97,519.68 214.32,519.68 C215.67,519.68 217.02,519.68 218.37,519.67 C219.72,519.67 221.07,519.67 222.42,519.67 C223.77,519.67 225.12,519.67 226.47,519.67 C227.82,519.67 229.17,519.67 230.52,519.67 C231.87,519.66 233.22,519.66 234.57,519.66 C235.92,519.66 237.27,519.66 238.61,519.66 C239.96,519.66 241.31,519.66 242.66,519.66 C244.01,519.66 245.36,519.65 246.71,519.65 C248.06,519.65 249.41,519.65 250.76,519.65 C252.11,519.65 253.46,519.65 254.81,519.65 C256.16,519.65 257.51,519.65 258.86,519.64 C260.21,519.64 261.56,519.64 262.91,519.64 C264.26,519.64 265.61,519.64 266.96,519.64 C268.31,519.64 269.66,519.64 271.01,519.64 C272.36,519.63 273.71,519.63 275.06,519.63 C276.41,519.63 277.76,519.63 279.11,519.63 C280.46,519.63 281.81,519.63 283.16,519.63 C284.51,519.63 285.86,519.62 287.21,519.62 C288.56,519.62 289.91,519.62 291.26,519.62 C292.60,519.62 293.95,519.62 295.30,519.62 C296.65,519.62 298.00,519.62 299.35,519.61 C300.70,519.61 302.05,519.61 303.40,519.61 C304.75,519.61 306.10,519.61 307.45,519.61 C308.80,519.61 310.15,519.61 311.50,519.61 C312.85,519.60 314.20,519.60 315.55,519.60 C316.90,519.60 318.93,519.60 319.60,519.60" stroke="#cfcfcf" stroke-width="1.3" fill="none" stroke-linejoin="round" />
<path d="M227,519.6 Q233,518.2 239,519.6" stroke="#d0d0d0" stroke-width="1.2" fill="none"/>
<path d="M48.57,519.80 L49.32,519.80 L50.30,519.81 L51.30,519.81 L52.30,519.81 L53.30,519.81 L54.30,519.82 L55.30,519.82 L56.30,519.82 L57.30,519.83 L58.30,519.83 L59.30,519.83 L60.30,519.84 L61.30,519.84 L62.30,519.84 L63.30,519.84 L64.30,519.85 L65.30,519.85 L66.30,519.85 L67.30,519.86 L68.30,519.86 L69.30,519.86 L70.30,519.87 L71.30,519.87 L72.30,519.87 L73.30,519.87 L74.30,519.88 L75.30,519.88 L76.30,519.88 L77.30,519.89 L78.30,519.89 L79.30,519.89 L80.30,519.90 L81.30,519.90 L82.30,519.90 L83.30,519.90 L84.30,519.91 L85.30,519.91 L86.30,519.91 L87.30,519.92 L88.30,519.92 L89.30,519.92 L90.30,519.93 L91.30,519.93 L92.30,519.93 L93.30,519.93 L94.30,519.94 L95.30,519.94 L96.30,519.94 L97.30,519.95 L98.30,519.95 L99.30,519.95 L100.30,519.96 L101.30,519.96 L102.30,519.96 L103.30,519.96 L104.30,519.97 L105.30,519.97 L106.30,519.97 L107.30,519.98 L108.30,519.98 L109.30,519.98 L110.30,519.99 L111.30,519.99 L112.30,519.99 L113.30,519.99 L114.30,520.00 L115.30,520.00 L116.30,520.00 L117.30,520.01 L118.30,520.01 L119.30,520.01 L120.30,520.01 L121.30,520.02 L122.30,520.02 L123.30,520.02 L124.30,520.03 L125.30,520.03 L126.30,520.03 L127.30,520.04 L128.30,520.04 L129.30,520.04 L130.30,520.04 L131.30,520.05 L132.30,520.05 L133.30,520.05 L134.30,520.06 L135.30,520.06 L136.30,520.06 L137.30,520.07 L138.30,520.07 L139.30,520.07 L140.30,520.07 L141.30,520.08 L142.30,520.08 L143.30,520.08 L144.30,520.09 L145.30,520.09 L146.30,520.09 L147.30,520.10 L148.30,520.10 L149.30,520.10 L150.30,520.10 L151.30,520.11 L152.30,520.11 L153.30,520.11 L154.30,520.12 L155.30,520.12 L156.30,520.12 L157.30,520.13 L158.30,520.13 L159.30,520.13 L160.30,520.13 L161.30,520.14 L162.30,520.14 L163.30,520.14 L164.30,520.15 L165.30,520.15 L166.30,520.15 L167.30,520.16 L168.30,520.16 L169.30,520.16 L170.30,520.16 L171.30,520.17 L172.30,520.17 L173.30,520.17 L174.30,520.18 L175.30,520.18 L176.30,520.18 L177.30,520.19 L178.30,520.19 L179.30,520.19 L180.30,520.19 L181.30,520.19 L182.29,520.10 L183.28,519.85 L184.26,519.51 L185.23,519.17 L186.21,518.82 L187.19,518.48 L188.17,518.13 L189.14,517.79 L190.12,517.44 L191.09,517.05 L192.03,516.56 L192.95,516.03 L193.88,515.49 L194.81,514.95 L195.74,514.42 L196.66,513.88 L197.59,513.35 L198.52,512.81 L199.45,512.27 L200.37,511.74 L201.29,511.21 L202.18,510.69 L203.06,510.18 L203.94,509.67 L204.82,509.16 L205.70,508.65 L206.58,508.14 L207.46,507.63 L208.34,507.12 L209.23,506.62 L210.19,506.24 L211.31,506.11 L212.49,506.08 L213.61,505.90 L214.57,505.36 L215.46,504.66 L216.34,503.94 L217.22,503.26 L218.06,502.93 L218.83,503.39 L219.57,504.20 L220.30,505.05 L221.03,505.90 L221.77,506.75 L222.52,507.56 L223.30,508.30 L224.10,509.00 L224.90,509.70 L225.70,510.37 L226.50,510.69 L227.30,510.27 L228.10,509.50 L228.90,508.70 L229.70,507.90 L230.50,507.10 L231.30,506.34 L232.07,505.93 L232.80,506.33 L233.50,507.08 L234.20,507.87 L234.90,508.66 L235.60,509.44 L236.30,510.23 L237.00,511.02 L237.71,511.81 L238.46,512.53 L239.33,513.12 L240.24,513.66 L241.16,514.19 L242.08,514.72 L243.00,515.25 L243.92,515.78 L244.84,516.31 L245.76,516.84 L246.68,517.36 L247.63,517.78 L248.63,517.99 L249.65,518.10 L250.68,518.20 L251.70,518.30 L252.73,518.40 L253.75,518.50 L254.77,518.60 L255.80,518.70 L256.82,518.80 L257.85,518.90 L258.88,519.00 L259.91,519.10 L260.97,519.21 L262.04,519.32 L263.11,519.43 L264.18,519.54 L265.25,519.65 L266.32,519.76 L267.39,519.87 L268.46,519.98 L269.53,520.08 L270.61,520.14 L271.70,520.08 L272.80,519.97 L273.90,519.86 L275.00,519.74 L276.10,519.63 L277.20,519.52 L278.27,519.43 L279.31,519.41 L280.31,519.42 L281.32,519.43 L282.33,519.44 L283.34,519.45 L284.34,519.46 L285.35,519.47 L286.36,519.48 L287.37,519.49 L288.37,519.50 L289.38,519.51 L290.39,519.52 L291.40,519.53 L292.40,519.54 L293.41,519.55 L294.42,519.56 L295.42,519.57 L296.43,519.58 L297.44,519.59 L298.45,519.60 L299.45,519.60 L300.46,519.61 L301.47,519.62 L302.48,519.63 L303.48,519.64 L304.49,519.65 L305.50,519.66 L306.50,519.67 L307.51,519.68 L308.52,519.69 L309.53,519.70 L310.53,519.71 L311.54,519.72 L312.55,519.73 L313.56,519.74 L314.56,519.75 L315.57,519.76 L316.58,519.77 L317.58,519.78 L318.57,519.79 L319.32,519.80" stroke="#3a3a3a" stroke-width="1.35" fill="none" stroke-linejoin="round" stroke-dasharray="3.2,2"/>
<path d="M48.30,519.40 C49.02,519.43 51.19,519.51 52.64,519.56 C54.09,519.61 55.53,519.67 56.98,519.72 C58.43,519.77 59.87,519.83 61.32,519.88 C62.77,519.93 64.21,519.99 65.66,520.04 C67.11,520.09 68.56,520.16 70.00,520.20 C71.44,520.24 72.86,520.24 74.29,520.26 C75.71,520.28 77.14,520.30 78.57,520.31 C80.00,520.33 81.43,520.35 82.86,520.37 C84.29,520.39 85.71,520.41 87.14,520.43 C88.57,520.45 90.00,520.47 91.43,520.49 C92.86,520.50 94.29,520.52 95.71,520.54 C97.14,520.56 98.61,520.58 100.00,520.60 C101.39,520.62 102.70,520.62 104.05,520.64 C105.39,520.65 106.74,520.66 108.09,520.67 C109.44,520.68 110.79,520.70 112.14,520.71 C113.48,520.72 114.83,520.73 116.18,520.75 C117.53,520.76 118.88,520.77 120.23,520.78 C121.58,520.79 122.92,520.81 124.27,520.82 C125.62,520.83 126.97,520.84 128.32,520.85 C129.67,520.87 131.02,520.88 132.36,520.89 C133.71,520.90 135.06,520.92 136.41,520.93 C137.76,520.94 139.11,520.95 140.45,520.96 C141.80,520.98 143.73,521.16 144.50,521.00 C145.27,520.84 144.88,520.96 145.10,520.00 C145.32,519.04 145.60,516.83 145.85,515.25 C146.10,513.67 146.45,511.96 146.60,510.50 C146.75,509.04 146.72,507.82 146.78,506.49 C146.83,505.15 146.89,503.81 146.95,502.48 C147.01,501.14 147.07,499.80 147.12,498.46 C147.18,497.12 147.24,495.79 147.30,494.45 C147.36,493.11 147.42,491.77 147.47,490.44 C147.53,489.10 147.59,487.76 147.65,486.42 C147.71,485.09 147.77,483.75 147.82,482.41 C147.88,481.07 147.96,479.74 148.00,478.40 C148.04,477.06 148.06,475.71 148.09,474.37 C148.12,473.02 148.15,471.68 148.18,470.33 C148.21,468.99 148.24,467.64 148.28,466.30 C148.31,464.96 148.34,463.61 148.37,462.27 C148.40,460.92 148.43,459.58 148.46,458.23 C148.49,456.89 148.52,455.54 148.55,454.20 C148.58,452.86 148.61,451.51 148.64,450.17 C148.67,448.82 148.70,447.48 148.73,446.13 C148.76,444.79 148.79,443.44 148.82,442.10 C148.86,440.76 148.89,439.41 148.92,438.07 C148.95,436.72 148.98,435.38 149.01,434.03 C149.04,432.69 149.08,431.37 149.10,430.00 C149.12,428.63 149.13,427.23 149.14,425.84 C149.15,424.45 149.17,423.07 149.18,421.68 C149.19,420.29 149.21,418.91 149.22,417.52 C149.23,416.13 149.25,414.75 149.26,413.36 C149.27,411.97 149.29,410.59 149.30,409.20 C149.31,407.81 149.33,406.43 149.34,405.04 C149.35,403.65 149.37,402.27 149.38,400.88 C149.39,399.49 149.41,398.11 149.42,396.72 C149.43,395.33 149.45,393.95 149.46,392.56 C149.47,391.17 149.48,389.77 149.50,388.40 C149.52,387.03 149.55,385.70 149.58,384.34 C149.60,382.99 149.63,381.64 149.66,380.29 C149.68,378.94 149.71,377.59 149.73,376.23 C149.76,374.88 149.79,373.53 149.81,372.18 C149.84,370.83 149.86,369.47 149.89,368.12 C149.91,366.77 149.94,365.42 149.97,364.07 C149.99,362.71 150.02,361.36 150.04,360.01 C150.07,358.66 150.10,357.31 150.12,355.96 C150.15,354.60 150.10,353.35 150.20,351.90 C150.30,350.45 150.53,348.81 150.70,347.27 C150.87,345.72 151.03,344.18 151.20,342.63 C151.37,341.09 151.38,337.67 151.70,338.00 C152.02,338.33 152.82,342.77 153.10,344.60 C153.38,346.43 153.30,347.52 153.40,348.98 C153.50,350.44 153.60,351.90 153.70,353.36 C153.80,354.82 153.90,356.28 154.00,357.74 C154.10,359.20 154.20,360.66 154.30,362.12 C154.40,363.58 154.47,365.04 154.60,366.50 C154.73,367.96 154.93,369.41 155.10,370.87 C155.27,372.32 155.43,373.78 155.60,375.23 C155.77,376.69 155.87,378.09 156.10,379.60 C156.33,381.11 156.67,382.72 156.96,384.28 C157.25,385.84 157.53,387.40 157.82,388.96 C158.11,390.52 158.39,392.08 158.68,393.64 C158.97,395.20 159.25,396.76 159.54,398.32 C159.83,399.88 159.76,401.00 160.40,403.00 C161.04,405.00 162.42,408.36 163.40,410.30 C164.38,412.24 165.33,413.20 166.30,414.65 C167.27,416.10 168.41,417.62 169.20,419.00 C169.99,420.38 170.42,421.60 171.02,422.90 C171.63,424.20 172.24,425.50 172.85,426.80 C173.46,428.10 174.07,429.40 174.68,430.70 C175.28,432.00 175.79,433.22 176.50,434.60 C177.21,435.98 178.12,437.51 178.93,438.97 C179.74,440.42 180.56,441.88 181.37,443.33 C182.18,444.79 182.99,446.32 183.80,447.70 C184.61,449.08 185.42,450.30 186.23,451.60 C187.04,452.90 187.86,454.20 188.67,455.50 C189.48,456.80 190.09,458.02 191.10,459.40 C192.11,460.78 193.53,462.33 194.75,463.80 C195.97,465.27 197.22,466.82 198.40,468.20 C199.58,469.58 200.67,470.80 201.80,472.10 C202.93,473.40 204.07,474.70 205.20,476.00 C206.33,477.30 207.54,478.64 208.60,479.90 C209.66,481.16 210.57,482.33 211.55,483.55 C212.53,484.77 213.29,486.11 214.50,487.20 C215.71,488.29 217.59,489.07 218.80,490.10 C220.01,491.13 220.76,492.30 221.73,493.40 C222.71,494.50 223.69,495.60 224.67,496.70 C225.64,497.80 226.51,499.40 227.60,500.00 C228.69,500.60 230.17,500.07 231.20,500.30 C232.23,500.53 232.86,500.77 233.80,501.40 C234.74,502.03 235.83,503.20 236.85,504.10 C237.87,505.00 238.49,505.97 239.90,506.80 C241.31,507.63 243.50,508.33 245.30,509.10 C247.10,509.87 249.12,510.89 250.70,511.40 C252.28,511.91 253.41,511.91 254.77,512.17 C256.12,512.42 257.48,512.68 258.83,512.93 C260.19,513.19 261.54,513.53 262.90,513.70 C264.26,513.87 265.63,513.88 267.00,513.97 C268.37,514.06 269.73,514.14 271.10,514.23 C272.47,514.32 273.75,514.39 275.20,514.50 C276.65,514.61 278.27,514.75 279.80,514.88 C281.33,515.00 282.87,515.12 284.40,515.25 C285.93,515.38 287.47,515.50 289.00,515.62 C290.53,515.75 292.11,515.90 293.60,516.00 C295.09,516.10 296.49,516.17 297.93,516.25 C299.38,516.33 300.82,516.42 302.27,516.50 C303.71,516.58 305.16,516.67 306.60,516.75 C308.04,516.83 309.49,516.92 310.93,517.00 C312.38,517.08 313.82,517.17 315.27,517.25 C316.71,517.33 318.88,517.46 319.60,517.50" stroke="#2f2fff" stroke-width="1.5" fill="none" stroke-linejoin="round" />
<path d="M48.30,805.50 C48.98,805.50 51.01,805.49 52.36,805.49 C53.72,805.49 55.07,805.48 56.43,805.48 C57.78,805.47 59.13,805.47 60.49,805.47 C61.84,805.46 63.20,805.46 64.55,805.46 C65.91,805.45 67.26,805.45 68.62,805.45 C69.97,805.44 71.32,805.44 72.68,805.43 C74.03,805.43 75.39,805.43 76.74,805.42 C78.10,805.42 79.45,805.42 80.80,805.41 C82.16,805.41 83.51,805.41 84.87,805.40 C86.22,805.40 87.58,805.39 88.93,805.39 C90.28,805.39 91.64,805.38 92.99,805.38 C94.35,805.38 95.70,805.37 97.06,805.37 C98.41,805.37 99.77,805.36 101.12,805.36 C102.47,805.36 103.83,805.35 105.18,805.35 C106.54,805.34 107.89,805.34 109.25,805.34 C110.60,805.33 111.95,805.33 113.31,805.33 C114.66,805.32 116.02,805.32 117.37,805.32 C118.73,805.31 120.08,805.31 121.43,805.30 C122.79,805.30 124.14,805.30 125.50,805.29 C126.85,805.29 128.21,805.29 129.56,805.28 C130.92,805.28 132.27,805.28 133.62,805.27 C134.98,805.27 136.33,805.26 137.69,805.26 C139.04,805.26 140.40,805.25 141.75,805.25 C143.10,805.25 144.46,805.24 145.81,805.24 C147.17,805.24 148.52,805.23 149.88,805.23 C151.23,805.22 152.58,805.22 153.94,805.22 C155.29,805.21 156.65,805.21 158.00,805.21 C159.36,805.20 160.71,805.20 162.07,805.20 C163.42,805.19 164.77,805.19 166.13,805.18 C167.48,805.18 168.84,805.18 170.19,805.17 C171.55,805.17 172.90,805.17 174.25,805.16 C175.61,805.16 176.96,805.16 178.32,805.15 C179.67,805.15 181.03,805.14 182.38,805.14 C183.73,805.14 185.09,805.13 186.44,805.13 C187.80,805.13 189.15,805.12 190.51,805.12 C191.86,805.12 193.22,805.11 194.57,805.11 C195.92,805.11 197.28,805.10 198.63,805.10 C199.99,805.09 201.34,805.09 202.70,805.09 C204.05,805.08 205.40,805.08 206.76,805.08 C208.11,805.07 209.47,805.07 210.82,805.07 C212.18,805.06 213.53,805.06 214.88,805.05 C216.24,805.05 217.59,805.05 218.95,805.04 C220.30,805.04 221.66,805.04 223.01,805.03 C224.37,805.03 225.72,805.03 227.07,805.02 C228.43,805.02 229.78,805.01 231.14,805.01 C232.49,805.01 234.43,805.67 235.20,805.00 C235.97,804.33 235.59,802.33 235.78,801.00 C235.97,799.67 236.17,798.33 236.36,797.00 C236.55,795.67 236.75,794.33 236.94,793.00 C237.13,791.67 237.33,790.33 237.52,789.00 C237.71,787.67 237.90,786.40 238.10,785.00 C238.30,783.60 238.50,782.07 238.70,780.60 C238.90,779.13 239.10,777.67 239.30,776.20 C239.50,774.73 239.70,773.27 239.90,771.80 C240.10,770.33 240.30,768.87 240.50,767.40 C240.70,765.93 240.52,764.93 241.10,763.00 C241.68,761.07 243.11,756.33 244.00,755.80 C244.89,755.27 245.62,758.47 246.43,759.80 C247.24,761.13 248.06,762.47 248.87,763.80 C249.68,765.13 250.55,766.55 251.30,767.80 C252.05,769.05 252.66,770.12 253.34,771.28 C254.02,772.44 254.70,773.60 255.38,774.76 C256.06,775.92 256.74,777.08 257.42,778.24 C258.10,779.40 258.78,780.56 259.46,781.72 C260.14,782.88 260.86,784.01 261.50,785.20 C262.14,786.39 262.72,787.63 263.32,788.85 C263.93,790.07 264.54,791.28 265.15,792.50 C265.76,793.72 266.37,794.93 266.98,796.15 C267.58,797.37 268.28,799.97 268.80,799.80 C269.32,799.63 269.65,796.70 270.07,795.15 C270.50,793.60 270.93,792.05 271.35,790.50 C271.78,788.95 272.20,787.40 272.62,785.85 C273.05,784.30 273.16,781.56 273.90,781.20 C274.64,780.84 276.01,782.84 277.07,783.67 C278.12,784.49 279.18,785.31 280.23,786.13 C281.29,786.96 282.06,787.92 283.40,788.60 C284.74,789.28 286.64,789.67 288.27,790.20 C289.89,790.73 291.51,791.27 293.13,791.80 C294.76,792.33 296.47,792.99 298.00,793.40 C299.53,793.81 300.88,793.96 302.32,794.24 C303.76,794.52 305.20,794.80 306.64,795.08 C308.08,795.36 309.52,795.64 310.96,795.92 C312.40,796.20 313.84,796.48 315.28,796.76 C316.72,797.04 318.88,797.46 319.60,797.60" stroke="#ff3030" stroke-width="1.5" fill="none" stroke-linejoin="round" />
<path d="M48.30,805.50 C48.98,805.50 51.01,805.49 52.36,805.48 C53.72,805.47 55.07,805.46 56.43,805.46 C57.78,805.45 59.13,805.44 60.49,805.43 C61.84,805.43 63.20,805.42 64.55,805.41 C65.91,805.41 67.26,805.40 68.62,805.39 C69.97,805.38 71.32,805.38 72.68,805.37 C74.03,805.36 75.39,805.36 76.74,805.35 C78.10,805.34 79.45,805.33 80.80,805.33 C82.16,805.32 83.51,805.31 84.87,805.30 C86.22,805.30 87.58,805.29 88.93,805.28 C90.28,805.28 91.64,805.27 92.99,805.26 C94.35,805.25 95.70,805.25 97.06,805.24 C98.41,805.23 99.77,805.22 101.12,805.22 C102.47,805.21 103.83,805.20 105.18,805.20 C106.54,805.19 107.89,805.18 109.25,805.17 C110.60,805.17 111.95,805.16 113.31,805.15 C114.66,805.14 116.02,805.14 117.37,805.13 C118.73,805.12 120.08,805.12 121.43,805.11 C122.79,805.10 124.14,805.09 125.50,805.09 C126.85,805.08 128.21,805.07 129.56,805.07 C130.92,805.06 132.27,805.05 133.62,805.04 C134.98,805.04 136.33,805.03 137.69,805.02 C139.04,805.01 140.40,805.01 141.75,805.00 C143.10,804.99 144.46,804.99 145.81,804.98 C147.17,804.97 148.52,804.96 149.88,804.96 C151.23,804.95 152.58,804.94 153.94,804.93 C155.29,804.93 156.65,804.92 158.00,804.91 C159.36,804.91 160.71,804.90 162.07,804.89 C163.42,804.88 164.77,804.88 166.13,804.87 C167.48,804.86 168.84,804.86 170.19,804.85 C171.55,804.84 172.90,804.83 174.25,804.83 C175.61,804.82 176.96,804.81 178.32,804.80 C179.67,804.80 181.03,804.79 182.38,804.78 C183.73,804.78 185.09,804.77 186.44,804.76 C187.80,804.75 189.15,804.75 190.51,804.74 C191.86,804.73 193.22,804.72 194.57,804.72 C195.92,804.71 197.28,804.70 198.63,804.70 C199.99,804.69 201.34,804.68 202.70,804.67 C204.05,804.67 205.40,804.66 206.76,804.65 C208.11,804.64 209.47,804.64 210.82,804.63 C212.18,804.62 213.53,804.62 214.88,804.61 C216.24,804.60 217.59,804.59 218.95,804.59 C220.30,804.58 221.66,804.57 223.01,804.57 C224.37,804.56 225.72,804.55 227.07,804.54 C228.43,804.54 229.78,804.53 231.14,804.52 C232.49,804.51 234.43,805.26 235.20,804.50 C235.97,803.74 235.59,801.47 235.78,799.96 C235.97,798.45 236.17,796.93 236.36,795.42 C236.55,793.91 236.75,792.39 236.94,790.88 C237.13,789.37 237.33,787.85 237.52,786.34 C237.71,784.83 237.90,783.34 238.10,781.80 C238.30,780.26 238.50,778.68 238.70,777.12 C238.90,775.56 239.10,774.00 239.30,772.44 C239.50,770.88 239.70,769.32 239.90,767.76 C240.10,766.20 240.30,764.64 240.50,763.08 C240.70,761.52 240.52,760.28 241.10,758.40 C241.68,756.52 243.11,752.21 244.00,751.80 C244.89,751.39 245.62,754.56 246.43,755.93 C247.24,757.31 248.06,758.69 248.87,760.07 C249.68,761.44 250.55,762.92 251.30,764.20 C252.05,765.48 252.66,766.55 253.34,767.72 C254.02,768.89 254.70,770.07 255.38,771.24 C256.06,772.41 256.74,773.59 257.42,774.76 C258.10,775.93 258.78,777.11 259.46,778.28 C260.14,779.45 260.86,780.58 261.50,781.80 C262.14,783.02 262.72,784.35 263.32,785.62 C263.93,786.90 264.54,788.18 265.15,789.45 C265.76,790.73 266.37,792.00 266.98,793.27 C267.58,794.55 268.28,797.23 268.80,797.10 C269.32,796.98 269.65,794.05 270.07,792.52 C270.50,791.00 270.93,789.48 271.35,787.95 C271.78,786.43 272.20,784.90 272.62,783.38 C273.05,781.85 272.90,778.95 273.90,778.80 C274.90,778.65 277.07,781.23 278.65,782.45 C280.23,783.67 281.80,785.21 283.40,786.10 C285.00,786.99 286.64,787.23 288.27,787.80 C289.89,788.37 291.51,788.93 293.13,789.50 C294.76,790.07 296.47,790.74 298.00,791.20 C299.53,791.66 300.88,791.89 302.32,792.24 C303.76,792.59 305.20,792.93 306.64,793.28 C308.08,793.63 309.52,793.97 310.96,794.32 C312.40,794.67 313.84,795.01 315.28,795.36 C316.72,795.71 318.88,796.23 319.60,796.40" stroke="#999999" stroke-width="1.6" fill="none" stroke-linejoin="round" />
<path d="M48.30,805.20 C48.98,805.20 51.01,805.19 52.36,805.18 C53.72,805.17 55.07,805.17 56.43,805.16 C57.78,805.15 59.14,805.15 60.49,805.14 C61.85,805.14 63.20,805.13 64.56,805.12 C65.91,805.12 67.27,805.11 68.62,805.10 C69.98,805.10 71.33,805.09 72.69,805.08 C74.04,805.08 75.40,805.07 76.75,805.06 C78.11,805.06 79.46,805.05 80.82,805.05 C82.17,805.04 83.53,805.03 84.88,805.03 C86.24,805.02 87.59,805.01 88.95,805.01 C90.30,805.00 91.65,804.99 93.01,804.99 C94.36,804.98 95.72,804.97 97.07,804.97 C98.43,804.96 99.78,804.95 101.14,804.95 C102.49,804.94 103.85,804.94 105.20,804.93 C106.56,804.92 107.91,804.92 109.27,804.91 C110.62,804.90 111.98,804.90 113.33,804.89 C114.69,804.88 116.04,804.88 117.40,804.87 C118.75,804.86 120.11,804.86 121.46,804.85 C122.82,804.85 124.17,804.84 125.53,804.83 C126.88,804.83 128.24,804.82 129.59,804.81 C130.95,804.81 132.30,804.80 133.65,804.79 C135.01,804.79 136.36,804.78 137.72,804.77 C139.07,804.77 140.43,804.76 141.78,804.75 C143.14,804.75 144.49,804.74 145.85,804.74 C147.20,804.73 148.56,804.72 149.91,804.72 C151.27,804.71 152.62,804.70 153.98,804.70 C155.33,804.69 156.69,804.68 158.04,804.68 C159.40,804.67 160.75,804.66 162.11,804.66 C163.46,804.65 164.82,804.65 166.17,804.64 C167.53,804.63 168.88,804.63 170.24,804.62 C171.59,804.61 172.91,804.74 174.30,804.60 C175.69,804.46 177.17,804.03 178.60,803.75 C180.03,803.47 181.47,803.18 182.90,802.90 C184.33,802.62 185.77,802.33 187.20,802.05 C188.63,801.77 190.07,801.84 191.50,801.20 C192.93,800.56 194.33,799.20 195.75,798.20 C197.17,797.20 198.72,796.18 200.00,795.20 C201.28,794.22 202.29,793.29 203.43,792.33 C204.58,791.38 205.72,790.42 206.87,789.47 C208.01,788.51 209.14,786.93 210.30,786.60 C211.46,786.27 212.37,788.22 213.80,787.50 C215.23,786.78 217.69,782.52 218.90,782.30 C220.11,782.08 220.33,784.90 221.05,786.20 C221.77,787.50 222.27,788.88 223.20,790.10 C224.12,791.32 225.17,793.93 226.60,793.50 C228.03,793.07 230.37,788.65 231.80,787.50 C233.23,786.35 234.60,787.42 235.20,786.60 C235.80,785.78 235.34,783.91 235.41,782.57 C235.49,781.23 235.56,779.89 235.63,778.54 C235.70,777.20 235.77,775.86 235.84,774.51 C235.91,773.17 235.99,771.83 236.06,770.49 C236.13,769.14 236.20,767.80 236.27,766.46 C236.34,765.11 236.41,763.77 236.49,762.43 C236.56,761.09 236.56,759.78 236.70,758.40 C236.84,757.02 237.10,755.56 237.30,754.13 C237.50,752.71 237.70,751.29 237.90,749.87 C238.10,748.44 238.30,747.02 238.50,745.60 C238.70,744.18 238.90,742.76 239.10,741.33 C239.30,739.91 239.50,738.49 239.70,737.07 C239.90,735.64 239.58,732.41 240.30,732.80 C241.02,733.19 243.08,737.63 244.00,739.40 C244.92,741.17 245.22,742.08 245.82,743.42 C246.43,744.77 247.04,746.11 247.65,747.45 C248.26,748.79 248.87,750.13 249.48,751.48 C250.08,752.82 250.59,754.10 251.30,755.50 C252.01,756.90 252.92,758.41 253.73,759.87 C254.54,761.32 255.36,762.78 256.17,764.23 C256.98,765.69 257.87,767.14 258.60,768.60 C259.33,770.06 259.89,771.53 260.53,773.00 C261.18,774.47 261.82,775.93 262.47,777.40 C263.11,778.87 263.83,780.22 264.40,781.80 C264.97,783.38 265.38,785.20 265.87,786.90 C266.36,788.60 266.84,790.30 267.33,792.00 C267.82,793.70 268.34,796.98 268.80,797.10 C269.26,797.22 269.65,794.18 270.07,792.73 C270.50,791.27 270.93,789.81 271.35,788.35 C271.78,786.89 272.20,785.43 272.62,783.98 C273.05,782.52 272.90,779.79 273.90,779.60 C274.90,779.41 277.07,781.77 278.65,782.85 C280.23,783.93 281.80,785.27 283.40,786.10 C285.00,786.93 286.64,787.23 288.27,787.80 C289.89,788.37 291.51,788.93 293.13,789.50 C294.76,790.07 296.47,790.74 298.00,791.20 C299.53,791.66 300.88,791.89 302.32,792.24 C303.76,792.59 305.20,792.93 306.64,793.28 C308.08,793.63 309.52,793.97 310.96,794.32 C312.40,794.67 313.84,795.01 315.28,795.36 C316.72,795.71 318.88,796.23 319.60,796.40" stroke="#2a2a2a" stroke-width="1.35" fill="none" stroke-linejoin="round" stroke-dasharray="3.2,2"/>
<path d="M48.30,804.50 C49.02,804.51 51.17,804.54 52.61,804.57 C54.04,804.59 55.48,804.61 56.92,804.63 C58.35,804.66 59.79,804.68 61.22,804.70 C62.66,804.72 64.10,804.74 65.53,804.77 C66.97,804.79 68.41,804.81 69.84,804.83 C71.28,804.86 72.71,804.88 74.15,804.90 C75.59,804.92 77.02,804.94 78.46,804.97 C79.89,804.99 81.33,805.01 82.77,805.03 C84.20,805.06 85.64,805.08 87.08,805.10 C88.51,805.12 89.95,805.14 91.38,805.17 C92.82,805.19 94.26,805.21 95.69,805.23 C97.13,805.26 98.58,805.29 100.00,805.30 C101.42,805.31 102.79,805.31 104.18,805.32 C105.58,805.32 106.97,805.33 108.36,805.34 C109.76,805.34 111.15,805.35 112.55,805.35 C113.94,805.36 115.33,805.37 116.73,805.37 C118.12,805.38 119.52,805.38 120.91,805.39 C122.30,805.40 123.70,805.40 125.09,805.41 C126.48,805.42 127.88,805.42 129.27,805.43 C130.67,805.43 132.06,805.44 133.45,805.45 C134.85,805.45 136.24,805.46 137.64,805.46 C139.03,805.47 140.42,805.48 141.82,805.48 C143.21,805.49 145.21,806.36 146.00,805.50 C146.79,804.64 146.38,802.06 146.57,800.33 C146.76,798.61 146.94,796.89 147.13,795.17 C147.32,793.44 147.58,791.58 147.70,790.00 C147.82,788.42 147.79,787.14 147.84,785.72 C147.89,784.29 147.94,782.86 147.98,781.43 C148.03,780.01 148.08,778.58 148.12,777.15 C148.17,775.72 148.22,774.29 148.27,772.87 C148.31,771.44 148.36,770.01 148.41,768.58 C148.46,767.16 148.50,765.73 148.55,764.30 C148.60,762.87 148.64,761.44 148.69,760.02 C148.74,758.59 148.79,757.16 148.83,755.73 C148.88,754.31 148.93,752.88 148.97,751.45 C149.02,750.02 149.07,748.59 149.12,747.17 C149.16,745.74 149.21,744.31 149.26,742.88 C149.31,741.46 149.36,740.03 149.40,738.60 C149.44,737.17 149.48,735.74 149.52,734.31 C149.56,732.88 149.60,731.45 149.64,730.02 C149.68,728.59 149.72,727.16 149.76,725.73 C149.80,724.30 149.84,722.87 149.88,721.44 C149.92,720.01 149.96,718.58 150.00,717.15 C150.04,715.72 150.08,714.29 150.12,712.86 C150.16,711.43 150.20,710.00 150.24,708.57 C150.28,707.14 150.32,705.71 150.36,704.28 C150.40,702.85 150.44,701.42 150.48,699.99 C150.52,698.56 150.49,697.23 150.60,695.70 C150.71,694.17 150.98,692.46 151.17,690.83 C151.36,689.21 151.54,687.59 151.73,685.97 C151.92,684.34 152.01,681.26 152.30,681.10 C152.59,680.94 153.07,683.70 153.45,685.00 C153.83,686.30 153.97,687.25 154.60,688.90 C155.22,690.55 156.20,693.53 157.20,694.90 C158.20,696.27 158.90,696.90 160.60,697.10 C162.30,697.30 165.55,695.75 167.40,696.10 C169.25,696.45 170.48,697.98 171.70,699.20 C172.92,700.43 173.70,702.03 174.70,703.45 C175.70,704.87 176.84,706.28 177.70,707.70 C178.56,709.12 179.13,710.57 179.85,712.00 C180.57,713.43 181.28,714.87 182.00,716.30 C182.72,717.73 183.43,719.17 184.15,720.60 C184.87,722.03 185.58,723.61 186.30,724.90 C187.02,726.19 187.73,727.18 188.45,728.33 C189.17,729.47 189.88,730.61 190.60,731.75 C191.32,732.89 192.03,734.03 192.75,735.17 C193.47,736.32 194.09,737.46 194.90,738.60 C195.72,739.74 196.73,740.89 197.64,742.04 C198.55,743.19 199.47,744.33 200.38,745.48 C201.29,746.63 202.21,747.77 203.12,748.92 C204.03,750.07 204.95,751.21 205.86,752.36 C206.77,753.51 207.76,754.65 208.60,755.80 C209.44,756.95 210.13,758.09 210.90,759.23 C211.67,760.38 212.43,761.52 213.20,762.67 C213.97,763.81 214.55,764.96 215.50,766.10 C216.45,767.24 217.77,767.80 218.90,769.50 C220.03,771.20 220.87,774.17 222.30,776.30 C223.73,778.43 225.48,781.05 227.50,782.30 C229.52,783.55 233.19,784.26 234.40,783.80 C235.61,783.34 234.66,780.98 234.78,779.57 C234.91,778.16 235.04,776.74 235.17,775.33 C235.29,773.92 235.42,772.51 235.55,771.10 C235.68,769.69 235.81,768.28 235.93,766.87 C236.06,765.46 236.19,764.04 236.32,762.63 C236.44,761.22 236.57,759.79 236.70,758.40 C236.82,757.01 236.94,755.64 237.07,754.27 C237.19,752.89 237.31,751.51 237.43,750.13 C237.56,748.76 237.68,747.38 237.80,746.00 C237.92,744.62 238.04,743.24 238.17,741.87 C238.29,740.49 238.41,739.11 238.53,737.73 C238.66,736.36 238.47,735.32 238.90,733.60 C239.33,731.88 240.25,727.88 241.10,727.40 C241.95,726.92 243.27,729.51 244.00,730.70 C244.73,731.89 244.98,733.28 245.47,734.57 C245.96,735.86 246.44,737.14 246.93,738.43 C247.42,739.72 247.92,740.92 248.40,742.30 C248.88,743.68 249.36,745.23 249.83,746.70 C250.31,748.17 250.79,749.63 251.27,751.10 C251.74,752.57 252.13,754.12 252.70,755.50 C253.27,756.88 254.01,758.10 254.67,759.40 C255.32,760.70 255.98,762.00 256.63,763.30 C257.29,764.60 257.91,765.83 258.60,767.20 C259.29,768.58 260.07,770.10 260.80,771.55 C261.53,773.00 262.33,774.32 263.00,775.90 C263.67,777.48 264.20,779.30 264.80,781.00 C265.40,782.70 265.93,784.40 266.60,786.10 C267.27,787.80 268.27,791.04 268.80,791.20 C269.33,791.36 269.44,788.44 269.77,787.07 C270.09,785.69 270.41,784.31 270.73,782.93 C271.06,781.56 271.17,780.46 271.70,778.80 C272.23,777.14 272.92,773.23 273.90,773.00 C274.88,772.77 276.26,776.06 277.60,777.40 C278.94,778.74 280.50,779.83 281.95,781.05 C283.40,782.27 284.93,783.85 286.30,784.70 C287.68,785.55 288.90,785.68 290.20,786.17 C291.50,786.66 292.80,787.14 294.10,787.63 C295.40,788.12 296.63,788.69 298.00,789.10 C299.37,789.51 300.88,789.78 302.32,790.12 C303.76,790.46 305.20,790.80 306.64,791.14 C308.08,791.48 309.52,791.82 310.96,792.16 C312.40,792.50 313.84,792.84 315.28,793.18 C316.72,793.52 318.88,794.03 319.60,794.20" stroke="#2f2fff" stroke-width="1.5" fill="none" stroke-linejoin="round" />
<path d="M405.50,225.80 L405.87,226.03 L406.34,225.74 L406.89,225.44 L407.51,225.78 L408.18,225.54 L408.89,226.26 L409.62,227.12 L410.35,226.11 L411.08,226.13 L411.78,226.88 L412.43,226.88 L413.06,226.81 L413.69,226.27 L414.32,226.89 L414.95,227.40 L415.58,226.25 L416.22,226.86 L416.85,226.08 L417.48,226.52 L418.11,226.27 L418.74,227.31 L419.37,226.77 L420.00,227.78 L420.63,227.81 L421.27,227.71 L421.90,226.42 L422.54,227.72 L423.17,228.12 L423.81,228.30 L424.44,227.39 L425.06,228.08 L425.68,227.81 L426.30,227.91 L426.91,229.01 L427.51,227.83 L428.11,228.21 L428.71,228.65 L429.30,227.65 L429.89,227.81 L430.48,227.80 L431.07,227.64 L431.66,226.73 L432.26,227.39 L432.85,228.04 L433.45,226.19 L434.04,227.53 L434.64,226.98 L435.23,226.41 L435.83,227.89 L436.42,227.04 L437.02,225.76 L437.61,226.42 L438.21,226.61 L438.80,226.04 L439.40,226.46 L440.00,225.90 L440.59,226.24 L441.19,226.59 L441.78,225.22 L442.38,225.64 L442.97,225.13 L443.57,225.38 L444.16,224.48 L444.76,224.74 L445.35,224.86 L445.95,225.41 L446.55,225.44 L447.15,223.82 L447.75,223.98 L448.35,224.69 L448.95,222.95 L449.55,223.72 L450.15,223.81 L450.74,224.53 L451.33,224.12 L451.92,223.48 L452.50,223.48 L453.13,223.64 L453.76,224.85 L454.37,223.87 L454.99,224.18 L455.60,224.83 L456.21,224.83 L456.82,225.07 L457.43,224.80 L458.04,225.73 L458.65,225.71 L459.26,226.90 L459.88,226.82 L460.50,226.64 L461.11,227.29 L461.72,226.91 L462.34,227.97 L462.95,227.56 L463.57,228.15 L464.18,227.25 L464.80,228.46 L465.42,227.46 L466.03,227.48 L466.65,228.75 L467.26,228.62 L467.88,229.49 L468.49,230.96 L469.11,229.34 L469.72,229.70 L470.34,230.42 L470.95,230.82 L471.57,230.67 L472.19,230.94 L472.80,231.79 L473.43,232.00 L474.04,231.37 L474.66,232.22 L475.28,232.52 L475.89,232.04 L476.50,232.94 L477.10,232.29 L477.70,233.30 L478.29,232.67 L478.87,232.36 L479.46,231.66 L480.04,231.60 L480.62,230.11 L481.19,230.25 L481.77,230.78 L482.35,228.94 L482.93,230.41 L483.52,228.56 L484.10,229.77 L484.68,228.52 L485.27,229.21 L485.85,228.53 L486.43,227.24 L487.02,228.62 L487.60,228.45 L488.18,227.25 L488.77,226.84 L489.35,226.60 L489.93,225.80 L490.50,226.71 L491.08,225.40 L491.65,225.37 L492.23,224.61 L492.81,224.41 L493.40,223.76 L494.00,225.05 L494.60,224.01 L495.21,224.54 L495.84,223.86 L496.47,223.37 L497.10,223.55 L497.74,223.39 L498.39,223.72 L499.03,223.48 L499.67,223.52 L500.31,222.86 L500.95,223.17 L501.59,224.60 L502.22,223.16 L502.86,222.88 L503.49,223.67 L504.13,224.27 L504.76,222.51 L505.40,223.21 L506.03,222.91 L506.67,222.19 L507.30,223.64 L507.94,223.14 L508.57,223.15 L509.20,222.61 L509.84,223.29 L510.48,222.65 L511.11,222.84 L511.75,222.22 L512.38,222.11 L513.02,223.60 L513.65,222.45 L514.29,222.88 L514.92,222.63 L515.56,222.34 L516.20,222.24 L516.84,222.87 L517.47,222.27 L518.11,222.31 L518.74,222.37 L519.37,223.03 L520.00,222.71 L520.62,222.51 L521.24,221.93 L521.86,221.44 L522.48,222.84 L523.09,222.86 L523.71,222.20 L524.32,222.62 L524.93,222.77 L525.55,222.80 L526.16,222.86 L526.78,222.04 L527.40,223.22 L528.01,221.56 L528.63,222.83 L529.25,222.61 L529.86,222.84 L530.48,223.44 L531.09,223.21 L531.71,221.63 L532.33,221.30 L532.94,222.81 L533.56,221.71 L534.18,222.31 L534.79,222.83 L535.41,221.34 L536.03,221.06 L536.64,222.48 L537.26,222.35 L537.87,222.18 L538.49,222.35 L539.11,221.81 L539.72,221.42 L540.34,222.23 L540.96,221.75 L541.57,221.35 L542.19,222.64 L542.81,222.30 L543.42,222.58 L544.04,221.74 L544.65,221.94 L545.27,221.74 L545.89,221.81 L546.50,222.46 L547.12,221.87 L547.74,222.55 L548.35,222.55 L548.97,223.56 L549.59,221.51 L550.20,222.88 L550.82,222.29 L551.43,222.34 L552.05,221.48 L552.67,222.07 L553.28,222.80 L553.90,222.30 L554.52,222.40 L555.13,222.18 L555.75,223.05 L556.37,222.34 L556.98,221.03 L557.60,221.94 L558.21,221.18 L558.83,220.41 L559.45,222.04 L560.06,223.16 L560.68,222.39 L561.30,221.66 L561.91,221.80 L562.53,223.04 L563.15,222.46 L563.76,222.39 L564.38,222.33 L564.99,222.39 L565.61,222.85 L566.23,222.70 L566.84,222.50 L567.46,221.74 L568.08,222.68 L568.69,221.96 L569.31,223.03 L569.93,221.61 L570.54,222.29 L571.16,222.37 L571.77,221.58 L572.39,223.41 L573.01,223.25 L573.62,222.10 L574.24,222.84 L574.86,222.61 L575.47,220.81 L576.09,222.53 L576.71,222.35 L577.32,222.43 L577.94,221.74 L578.55,222.22 L579.17,222.28 L579.79,223.10 L580.40,222.59 L581.02,222.39 L581.64,223.31 L582.26,222.10 L582.89,222.30 L583.53,221.57 L584.16,223.74 L584.80,223.51 L585.43,223.56 L586.04,223.42 L586.65,223.01 L587.23,222.87 L587.80,222.25 L588.14,221.95 L588.47,221.67 L588.80,222.02 L589.11,220.85 L589.42,219.82 L589.73,218.81 L590.03,218.06 L590.33,218.68 L590.62,217.31 L590.92,216.37 L591.21,215.50 L591.50,214.48 L591.80,214.62 L592.10,214.81 L592.40,213.79 L592.70,213.76 L593.05,213.80 L593.39,214.20 L593.72,213.53 L594.05,214.80 L594.38,214.99 L594.71,216.66 L595.04,216.34 L595.38,217.85 L595.72,219.11 L596.08,218.68 L596.44,219.13 L596.81,220.15 L597.20,220.48 L597.60,220.20 L598.14,221.35 L598.70,222.45 L599.28,221.18 L599.87,221.24 L600.49,220.72 L601.10,221.48 L601.73,220.46 L602.35,220.46 L602.98,221.82 L603.59,220.46 L604.20,221.65 L604.80,221.93 L605.40,221.19 L606.00,221.39 L606.60,222.24 L607.20,220.97 L607.80,220.75 L608.40,220.32 L609.00,221.17 L609.60,222.05 L610.20,221.76 L610.80,220.63 L611.40,220.70 L612.00,220.93 L612.60,221.43 L613.20,221.15 L613.80,221.42 L614.40,221.49 L615.00,221.15 L615.60,221.32 L616.20,221.49 L616.80,221.33 L617.40,221.70 L618.02,222.51 L618.67,221.69 L619.35,221.29 L620.03,220.15 L620.71,221.31 L621.37,219.84 L622.00,220.14 L622.60,221.53 L623.13,221.54 L623.61,221.22 L624.00,221.60 L624.28,221.97 L624.50,222.43 L624.66,222.97 L624.77,223.58 L624.85,224.23 L624.89,224.92 L624.92,225.64 L624.94,226.37 L624.95,227.10 L624.98,227.82 L625.03,228.51 L625.10,229.17 L625.19,229.80 L625.28,230.43 L625.38,231.06 L625.47,231.69 L625.56,232.32 L625.65,232.95 L625.74,233.58 L625.83,234.21 L625.92,234.84 L626.02,235.47 L626.11,236.10 L626.20,236.73 L626.27,237.39 L626.30,238.08 L626.31,238.80 L626.31,239.54 L626.30,240.27 L626.31,240.99 L626.35,241.68 L626.41,242.34 L626.53,242.94 L626.71,243.48 L626.96,243.93 L627.30,243.27 L627.71,244.30 L628.23,244.30 L628.83,244.30 L629.50,244.30 L630.22,244.30 L630.97,244.30 L631.72,244.30 L632.47,244.30 L633.19,244.30 L633.86,244.23 L634.46,244.30 L634.98,243.85 L635.40,244.30 L635.77,244.30 L636.04,244.13 L636.22,242.66 L636.34,242.65 L636.41,241.60 L636.44,240.76 L636.45,240.08 L636.46,238.78 L636.48,237.99 L636.52,238.65 L636.60,237.42 L636.71,237.05 L636.82,236.90 L636.93,234.65 L637.04,234.60 L637.15,234.56 L637.25,234.08 L637.36,233.00 L637.47,233.23 L637.58,232.12 L637.69,230.65 L637.80,230.21 L637.87,230.62 L637.89,229.75 L637.87,227.65 L637.84,228.91 L637.82,227.78 L637.82,227.56 L637.87,225.88 L637.99,225.32 L638.21,224.26 L638.54,225.96 L639.00,223.89 L639.38,224.71 L639.84,223.15 L640.35,223.43 L640.92,222.16 L641.53,222.77 L642.19,223.45 L642.87,221.99 L643.57,223.27 L644.29,222.73 L645.01,221.82 L645.74,222.07 L646.45,222.02 L647.15,222.20 L647.82,221.85 L648.45,221.62 L649.05,221.88 L649.60,221.38 L650.38,221.15 L651.11,221.85 L651.79,222.39 L652.45,220.94 L653.07,221.87 L653.68,221.50 L654.28,221.33 L654.88,222.46 L655.48,221.66 L656.09,222.89 L656.73,221.53 L657.37,222.23 L658.02,221.86 L658.67,221.55 L659.32,222.35 L659.96,221.91 L660.61,222.36 L661.26,221.97 L661.91,221.35 L662.55,221.94 L663.20,222.03 L663.85,222.58 L664.50,221.46 L665.15,221.98 L665.79,220.97 L666.44,222.39 L667.09,221.35 L667.74,220.92 L668.38,221.96 L669.03,222.66 L669.68,221.09 L670.33,221.35 L670.98,221.55 L671.65,221.32 L672.37,222.23 L673.11,221.52 L673.87,221.57 L674.62,222.35 L675.34,221.55 L676.03,222.26 L676.67,221.42 L677.24,221.27 L677.72,220.90 L678.10,223.12" stroke="#a0a0a0" stroke-width="1.8" fill="none" stroke-linejoin="round"/>
<path d="M405.50,220.71 L405.85,221.01 L406.29,220.80 L406.80,220.86 L407.38,220.73 L408.00,221.77 L408.67,219.93 L409.37,219.55 L410.08,219.81 L410.79,219.55 L411.49,220.74 L412.18,220.74 L412.83,219.64 L413.45,219.36 L414.00,219.99 L414.71,221.07 L415.38,218.61 L416.02,220.70 L416.63,219.85 L417.22,221.24 L417.80,220.10 L418.38,220.71 L418.96,220.11 L419.55,220.55 L420.15,222.08 L420.76,221.85 L421.36,221.24 L421.95,221.09 L422.54,220.60 L423.14,221.62 L423.74,221.96 L424.35,222.03 L424.98,222.12 L425.63,221.58 L426.30,222.26 L426.88,222.30 L427.48,223.10 L428.09,223.44 L428.72,222.22 L429.35,221.81 L429.99,222.20 L430.64,221.83 L431.29,221.70 L431.94,222.07 L432.59,221.44 L433.23,222.39 L433.87,221.94 L434.50,222.13 L435.13,221.84 L435.76,221.49 L436.39,221.33 L437.02,221.73 L437.65,221.52 L438.28,221.97 L438.91,221.80 L439.54,220.96 L440.17,221.79 L440.80,220.92 L441.43,221.33 L442.06,221.49 L442.68,220.39 L443.30,221.65 L443.91,221.64 L444.53,221.41 L445.14,221.20 L445.76,221.20 L446.39,220.81 L447.03,221.21 L447.67,221.03 L448.33,221.43 L449.00,220.68 L449.59,221.58 L450.19,221.57 L450.80,221.47 L451.41,221.36 L452.04,222.04 L452.67,220.79 L453.30,222.16 L453.94,222.13 L454.58,222.25 L455.22,222.41 L455.85,221.89 L456.49,222.22 L457.12,222.85 L457.75,222.81 L458.38,222.75 L459.02,221.80 L459.67,223.10 L460.33,223.55 L460.98,223.53 L461.64,223.13 L462.29,222.13 L462.93,223.71 L463.57,223.13 L464.19,221.78 L464.80,223.62 L465.39,222.59 L465.96,222.81 L466.50,223.32 L467.22,224.64 L467.90,223.84 L468.54,224.42 L469.15,225.52 L469.74,225.65 L470.31,224.85 L470.89,225.00 L471.46,224.61 L472.05,225.17 L472.65,226.06 L473.25,226.26 L473.84,226.34 L474.41,227.13 L474.98,226.33 L475.56,227.02 L476.15,227.74 L476.76,227.86 L477.40,228.33 L478.08,228.06 L478.80,227.71 L479.34,228.14 L479.90,227.32 L480.48,226.92 L481.07,228.21 L481.68,227.78 L482.30,227.92 L482.93,226.63 L483.57,227.33 L484.22,227.07 L484.88,226.79 L485.55,225.82 L486.23,226.82 L486.91,227.40 L487.60,226.93 L488.15,226.20 L488.71,226.38 L489.29,226.66 L489.88,224.35 L490.48,225.72 L491.09,225.89 L491.71,225.75 L492.33,226.12 L492.94,225.55 L493.56,224.82 L494.17,224.58 L494.77,224.65 L495.37,223.65 L495.95,223.75 L496.52,224.14 L497.06,224.62 L497.59,223.21 L498.10,223.17 L498.82,223.20 L499.50,223.82 L500.15,222.97 L500.77,223.87 L501.37,222.43 L501.95,222.94 L502.52,222.99 L503.09,223.65 L503.65,223.87 L504.22,222.39 L504.80,222.79 L505.40,223.57 L506.01,222.99 L506.62,222.48 L507.23,224.03 L507.83,223.72 L508.44,223.73 L509.05,223.16 L509.66,224.08 L510.27,223.33 L510.88,224.15 L511.48,222.96 L512.09,223.01 L512.70,223.66 L513.31,223.13 L513.93,223.97 L514.55,223.74 L515.18,223.04 L515.80,223.66 L516.42,223.42 L517.04,224.19 L517.65,223.28 L518.26,223.41 L518.85,224.41 L519.43,225.04 L520.00,224.90 L520.66,223.74 L521.30,223.84 L521.93,224.63 L522.54,223.63 L523.15,223.12 L523.75,223.77 L524.34,223.97 L524.94,223.19 L525.54,222.70 L526.15,222.82 L526.77,224.08 L527.38,223.23 L528.00,223.60 L528.62,223.81 L529.23,224.05 L529.85,223.47 L530.46,223.97 L531.08,223.14 L531.69,223.45 L532.31,223.05 L532.92,224.35 L533.54,223.65 L534.15,223.22 L534.77,223.45 L535.38,223.53 L536.00,224.08 L536.62,222.70 L537.23,223.03 L537.85,223.43 L538.46,225.17 L539.08,224.23 L539.69,223.58 L540.31,224.08 L540.92,224.88 L541.54,223.51 L542.15,223.42 L542.77,224.37 L543.38,223.94 L544.00,224.04 L544.62,223.33 L545.23,224.79 L545.85,224.66 L546.46,223.97 L547.08,224.04 L547.69,222.41 L548.31,224.01 L548.92,223.51 L549.54,223.89 L550.15,224.03 L550.77,223.42 L551.38,222.61 L552.00,223.84 L552.62,223.17 L553.23,223.42 L553.85,223.25 L554.46,223.41 L555.08,222.23 L555.69,224.34 L556.31,223.76 L556.92,224.27 L557.54,224.79 L558.15,223.62 L558.77,222.52 L559.38,223.07 L560.00,222.88 L560.62,223.30 L561.23,223.64 L561.85,222.39 L562.46,223.80 L563.08,222.69 L563.69,223.77 L564.31,223.52 L564.92,223.40 L565.54,223.54 L566.15,223.26 L566.77,223.22 L567.38,222.57 L568.00,223.56 L568.62,224.69 L569.23,224.77 L569.85,224.37 L570.46,224.00 L571.08,223.17 L571.69,224.44 L572.31,223.54 L572.92,223.53 L573.54,223.39 L574.15,223.62 L574.77,223.30 L575.38,223.51 L576.00,222.91 L576.62,223.33 L577.23,224.93 L577.85,223.51 L578.46,223.41 L579.08,223.87 L579.69,223.98 L580.31,222.88 L580.92,223.42 L581.54,224.10 L582.15,223.71 L582.77,223.62 L583.38,224.47 L584.00,223.13 L584.62,223.59 L585.23,223.22 L585.85,224.43 L586.46,222.36 L587.08,223.13 L587.69,223.21 L588.31,223.93 L588.92,223.89 L589.54,224.36 L590.15,222.58 L590.77,223.97 L591.38,223.35 L592.00,223.12 L592.62,223.84 L593.23,222.96 L593.85,222.27 L594.46,223.29 L595.08,222.61 L595.70,223.12 L596.32,223.73 L596.93,223.70 L597.55,224.46 L598.17,223.39 L598.78,222.59 L599.39,223.05 L600.00,222.95 L600.61,222.77 L601.21,223.75 L601.81,223.10 L602.41,222.30 L603.01,223.90 L603.61,223.40 L604.20,223.68 L604.80,223.52 L605.40,223.83 L606.00,223.47 L606.60,224.19 L607.20,223.69 L607.80,223.67 L608.40,223.68 L609.00,222.55 L609.60,223.32 L610.20,223.26 L610.80,223.53 L611.40,222.59 L612.00,224.38 L612.60,223.46 L613.20,222.66 L613.80,222.36 L614.40,223.21 L615.00,223.32 L615.60,222.94 L616.20,223.42 L616.80,222.98 L617.40,223.69 L618.00,222.92 L618.62,223.29 L619.28,223.81 L619.95,224.66 L620.64,222.39 L621.31,222.61 L621.95,222.31 L622.56,223.27 L623.11,222.17 L623.60,222.73 L624.00,223.30 L624.28,223.67 L624.50,224.14 L624.65,224.70 L624.76,225.33 L624.83,226.01 L624.88,226.72 L624.91,227.46 L624.93,228.20 L624.97,228.93 L625.02,229.64 L625.10,230.30 L625.20,230.94 L625.30,231.57 L625.40,232.21 L625.50,232.85 L625.60,233.48 L625.70,234.12 L625.80,234.75 L625.90,235.39 L626.00,236.03 L626.10,236.66 L626.20,237.30 L626.27,237.96 L626.31,238.67 L626.31,239.40 L626.31,240.14 L626.31,240.88 L626.33,241.59 L626.38,242.27 L626.50,242.90 L626.67,243.45 L626.94,243.93 L627.30,244.28 L627.71,243.96 L628.22,244.18 L628.82,244.30 L629.48,243.80 L630.19,244.27 L630.93,244.30 L631.68,244.30 L632.42,244.30 L633.14,244.00 L633.81,244.30 L634.43,244.30 L634.96,244.30 L635.40,244.25 L635.77,243.41 L636.07,243.88 L636.30,242.64 L636.48,241.71 L636.61,241.29 L636.72,241.98 L636.80,240.54 L636.86,240.40 L636.93,238.71 L637.01,238.86 L637.12,237.27 L637.25,236.91 L637.40,237.87 L637.54,236.20 L637.67,234.79 L637.80,234.38 L637.93,233.97 L638.06,233.85 L638.20,232.19 L638.35,230.82 L638.51,231.10 L638.68,230.72 L638.88,230.25 L639.10,230.49 L639.45,229.23 L639.82,228.93 L640.20,227.24 L640.62,227.93 L641.09,228.24 L641.60,227.07 L642.16,226.43 L642.80,226.09 L643.32,226.92 L643.88,225.18 L644.48,225.61 L645.12,225.92 L645.78,226.08 L646.46,225.38 L647.15,225.85 L647.84,225.52 L648.53,225.78 L649.21,225.64 L649.86,225.02 L650.50,225.66 L651.14,226.17 L651.79,225.04 L652.43,225.45 L653.07,225.96 L653.71,224.89 L654.35,225.62 L654.99,224.85 L655.64,226.14 L656.28,226.81 L656.92,226.61 L657.56,225.24 L658.20,225.79 L658.85,225.39 L659.49,225.35 L660.13,226.19 L660.77,224.44 L661.41,225.84 L662.05,225.15 L662.70,226.00 L663.34,225.24 L663.98,224.70 L664.62,225.24 L665.26,225.49 L665.91,225.04 L666.55,225.28 L667.19,224.65 L667.83,223.66 L668.47,225.45 L669.11,225.30 L669.76,224.94 L670.40,224.87 L671.04,225.42 L671.71,224.50 L672.42,224.32 L673.16,224.60 L673.90,225.39 L674.65,223.81 L675.37,225.33 L676.05,224.20 L676.68,223.90 L677.25,225.29 L677.72,224.46 L678.10,223.72" stroke="#ff2020" stroke-width="1.6" fill="none" stroke-linejoin="round"/>
<path d="M405.50,223.48 L405.85,224.19 L406.29,224.26 L406.80,223.17 L407.38,223.54 L408.00,223.58 L408.67,222.62 L409.37,223.08 L410.08,222.70 L410.79,222.27 L411.49,222.18 L412.18,222.43 L412.83,222.34 L413.45,221.95 L414.00,222.04 L414.71,223.04 L415.38,222.64 L416.02,223.23 L416.63,223.64 L417.22,223.53 L417.80,224.81 L418.38,223.23 L418.96,224.49 L419.55,224.07 L420.15,225.61 L420.76,225.75 L421.37,223.82 L421.98,224.68 L422.59,225.93 L423.20,226.27 L423.81,226.48 L424.43,226.22 L425.04,226.73 L425.67,227.00 L426.30,226.65 L426.88,227.35 L427.47,225.37 L428.06,227.06 L428.65,225.99 L429.25,227.09 L429.85,226.26 L430.45,225.74 L431.05,226.37 L431.65,225.48 L432.25,225.37 L432.85,224.88 L433.45,225.73 L434.04,225.96 L434.64,226.20 L435.23,225.42 L435.83,226.06 L436.42,225.36 L437.02,225.21 L437.61,225.53 L438.21,225.74 L438.80,224.82 L439.40,224.80 L440.00,224.77 L440.59,224.84 L441.19,224.17 L441.78,225.25 L442.38,224.31 L442.97,224.75 L443.57,223.90 L444.16,224.53 L444.76,224.47 L445.35,223.90 L445.95,225.29 L446.53,224.20 L447.09,224.92 L447.63,224.29 L448.17,223.18 L448.70,223.20 L449.26,223.56 L449.83,223.23 L450.43,223.15 L451.07,222.92 L451.76,222.03 L452.50,223.06 L452.99,221.96 L453.51,223.62 L454.06,223.10 L454.63,223.27 L455.23,223.74 L455.84,224.23 L456.46,223.41 L457.09,223.44 L457.72,224.07 L458.35,223.72 L458.98,224.60 L459.61,226.37 L460.22,225.02 L460.82,226.27 L461.40,225.28 L461.96,226.49 L462.50,226.32 L463.00,226.66 L463.71,227.30 L464.37,228.27 L465.01,227.58 L465.61,227.79 L466.18,227.37 L466.74,228.54 L467.29,228.27 L467.83,229.15 L468.37,228.86 L468.91,230.17 L469.47,228.17 L470.05,229.42 L470.63,230.39 L471.19,229.95 L471.73,230.00 L472.27,230.64 L472.81,230.30 L473.36,231.52 L473.92,233.21 L474.49,232.69 L475.09,231.56 L475.73,231.86 L476.39,232.24 L477.10,233.10 L477.60,231.97 L478.12,231.99 L478.65,232.84 L479.20,232.71 L479.77,231.82 L480.34,231.20 L480.93,230.76 L481.53,231.06 L482.13,229.92 L482.74,231.48 L483.36,230.41 L483.97,230.83 L484.59,231.40 L485.20,230.73 L485.81,229.07 L486.41,230.02 L487.01,229.94 L487.60,228.55 L488.16,228.19 L488.72,228.43 L489.29,227.25 L489.87,228.80 L490.44,226.17 L491.02,226.63 L491.61,226.82 L492.19,226.52 L492.76,226.43 L493.34,226.17 L493.90,225.56 L494.47,226.06 L495.02,223.80 L495.57,224.80 L496.10,224.11 L496.62,224.37 L497.13,224.20 L497.62,223.32 L498.10,223.32 L498.82,223.96 L499.50,223.54 L500.15,222.82 L500.77,224.38 L501.37,224.51 L501.95,222.24 L502.52,223.31 L503.09,224.65 L503.65,223.63 L504.22,223.31 L504.80,223.04 L505.40,222.81 L506.01,222.96 L506.62,222.71 L507.23,223.44 L507.83,222.71 L508.44,222.63 L509.05,222.13 L509.66,222.77 L510.27,222.22 L510.88,222.60 L511.48,223.29 L512.09,222.83 L512.70,222.87 L513.31,222.73 L513.92,222.50 L514.53,222.34 L515.14,222.18 L515.75,222.77 L516.36,221.61 L516.97,223.01 L517.58,222.18 L518.19,221.67 L518.79,221.78 L519.40,221.63 L520.00,222.10 L520.65,221.54 L521.30,222.63 L521.95,221.45 L522.60,220.54 L523.24,221.45 L523.88,220.67 L524.53,221.83 L525.17,222.48 L525.81,222.22 L526.46,221.01 L527.10,221.34 L527.75,222.85 L528.39,221.95 L529.04,221.75 L529.68,222.36 L530.33,223.18 L530.97,222.47 L531.62,221.76 L532.26,221.87 L532.91,222.01 L533.55,221.25 L534.20,220.96 L534.85,221.61 L535.49,221.00 L536.14,221.51 L536.78,221.58 L537.43,222.91 L538.07,220.98 L538.72,221.40 L539.36,221.36 L540.01,221.70 L540.65,222.05 L541.30,221.11 L541.95,220.90 L542.61,220.41 L543.27,220.84 L543.93,221.73 L544.59,221.45 L545.25,220.81 L545.91,221.19 L546.55,221.41 L547.18,221.66 L547.80,220.94 L548.40,221.05 L549.04,219.97 L549.66,220.20 L550.26,221.67 L550.85,219.17 L551.42,220.04 L552.00,220.14 L552.57,219.53 L553.14,219.03 L553.72,219.24 L554.30,219.05 L554.87,218.79 L555.42,217.51 L555.95,218.34 L556.47,217.72 L557.01,217.70 L557.56,217.96 L558.14,217.99 L558.77,217.92 L559.45,216.85 L560.20,217.45 L560.68,217.45 L561.19,217.26 L561.73,217.24 L562.30,216.14 L562.89,215.94 L563.49,216.36 L564.10,214.86 L564.72,215.61 L565.35,214.98 L565.98,214.89 L566.60,213.87 L567.21,214.20 L567.81,214.54 L568.39,214.91 L568.96,214.81 L569.49,214.00 L570.00,213.79 L570.72,213.15 L571.39,213.61 L572.01,212.92 L572.60,213.13 L573.16,213.53 L573.72,212.20 L574.29,211.11 L574.88,211.33 L575.50,210.89 L576.17,211.06 L576.90,212.68 L577.36,212.18 L577.84,211.33 L578.35,212.91 L578.87,213.59 L579.42,212.97 L579.98,213.18 L580.54,213.80 L581.11,214.60 L581.69,215.26 L582.26,216.02 L582.83,216.47 L583.39,216.87 L583.94,217.36 L584.48,217.29 L584.99,216.28 L585.49,217.37 L585.95,217.83 L586.39,217.53 L586.80,218.35 L587.37,217.46 L587.87,216.78 L588.31,217.70 L588.69,216.60 L589.04,215.61 L589.38,215.28 L589.70,214.62 L590.03,213.49 L590.38,211.21 L590.77,211.82 L591.20,211.67 L591.70,211.31 L592.07,212.13 L592.46,212.93 L592.86,212.22 L593.29,212.20 L593.73,214.53 L594.18,213.53 L594.64,213.59 L595.10,215.03 L595.57,215.73 L596.04,215.64 L596.52,217.13 L596.99,216.94 L597.45,217.23 L597.90,218.41 L598.35,219.23 L598.78,218.81 L599.20,219.73 L599.60,219.74 L600.29,221.82 L600.94,219.90 L601.57,221.25 L602.19,220.39 L602.78,220.28 L603.37,220.69 L603.96,220.69 L604.55,220.80 L605.14,220.17 L605.75,219.59 L606.37,219.64 L606.98,220.29 L607.60,220.34 L608.21,220.85 L608.83,220.28 L609.44,220.68 L610.06,220.97 L610.67,220.17 L611.29,219.19 L611.90,219.39 L612.52,219.25 L613.13,221.08 L613.75,219.64 L614.36,220.90 L614.98,220.53 L615.59,221.22 L616.21,220.81 L616.82,220.16 L617.44,220.11 L618.05,220.30 L618.69,220.34 L619.37,219.87 L620.06,220.09 L620.77,221.00 L621.46,218.94 L622.13,220.08 L622.75,219.38 L623.31,220.11 L623.80,220.65 L624.20,220.40 L624.50,220.76 L624.70,221.22 L624.83,221.76 L624.90,222.37 L624.92,223.02 L624.92,223.71 L624.91,224.40 L624.91,225.09 L624.92,225.75 L624.98,226.38 L625.05,226.97 L625.13,227.57 L625.21,228.17 L625.28,228.77 L625.36,229.36 L625.44,229.96 L625.52,230.56 L625.60,231.16 L625.67,231.75 L625.75,232.35 L625.83,232.95 L625.90,233.55 L625.98,234.14 L626.06,234.74 L626.14,235.34 L626.22,235.94 L626.29,236.53 L626.37,237.13 L626.45,237.73 L626.52,238.33 L626.57,238.95 L626.56,239.62 L626.53,240.31 L626.48,241.00 L626.45,241.69 L626.46,242.34 L626.53,242.95 L626.68,243.49 L626.93,243.94 L627.30,244.27 L627.70,244.30 L628.21,243.74 L628.81,244.30 L629.47,244.30 L630.19,244.30 L630.93,244.30 L631.69,243.56 L632.44,244.30 L633.16,244.30 L633.84,244.30 L634.45,244.30 L634.98,244.30 L635.40,243.45 L635.78,244.30 L636.07,244.30 L636.27,242.93 L636.41,242.16 L636.50,240.65 L636.56,241.44 L636.59,241.80 L636.62,239.88 L636.66,239.48 L636.73,238.35 L636.83,236.78 L636.96,237.54 L637.09,235.37 L637.22,235.35 L637.35,235.01 L637.48,234.74 L637.62,233.83 L637.75,233.19 L637.88,231.87 L638.01,230.92 L638.14,231.10 L638.27,230.01 L638.37,229.00 L638.41,228.35 L638.43,228.11 L638.43,226.59 L638.44,226.19 L638.48,225.33 L638.56,225.76 L638.70,225.27 L638.92,225.66 L639.25,223.04 L639.70,223.09 L640.09,223.79 L640.55,222.88 L641.07,222.61 L641.64,223.66 L642.26,222.27 L642.91,221.65 L643.59,221.44 L644.29,222.33 L645.01,222.22 L645.72,221.14 L646.43,221.30 L647.12,222.15 L647.79,222.12 L648.44,221.33 L649.04,222.03 L649.60,221.94 L650.35,220.45 L651.06,221.28 L651.74,221.68 L652.40,221.07 L653.03,220.13 L653.64,221.25 L654.25,221.88 L654.86,222.39 L655.47,220.14 L656.09,223.03 L656.73,220.77 L657.37,222.01 L658.02,222.16 L658.67,222.00 L659.32,221.49 L659.96,220.68 L660.61,221.74 L661.26,220.93 L661.91,219.83 L662.55,223.02 L663.20,221.74 L663.85,222.39 L664.50,220.74 L665.15,222.15 L665.79,222.21 L666.44,222.18 L667.09,221.22 L667.74,220.50 L668.38,221.10 L669.03,219.87 L669.68,220.16 L670.33,221.22 L670.98,220.56 L671.65,221.04 L672.37,221.06 L673.11,222.26 L673.87,221.87 L674.62,221.05 L675.34,221.78 L676.03,220.58 L676.67,220.83 L677.24,221.56 L677.72,220.26 L678.10,220.83" stroke="#111" stroke-width="1.6" fill="none" stroke-linejoin="round"/>
<path d="M405.50,220.48 L405.85,221.46 L406.29,222.48 L406.80,220.75 L407.38,221.38 L408.00,220.53 L408.67,220.28 L409.37,220.16 L410.08,221.98 L410.79,222.57 L411.49,221.21 L412.18,220.35 L412.83,221.34 L413.45,220.63 L414.00,221.46 L414.71,221.20 L415.38,221.34 L416.02,221.74 L416.63,221.11 L417.22,221.46 L417.80,220.78 L418.38,221.91 L418.96,221.46 L419.55,222.59 L420.15,222.23 L420.75,223.18 L421.34,223.65 L421.91,222.57 L422.49,223.23 L423.07,223.36 L423.66,224.77 L424.27,225.64 L424.91,225.22 L425.58,224.54 L426.30,225.93 L426.84,223.90 L427.41,226.07 L427.99,224.60 L428.60,223.14 L429.22,226.96 L429.85,226.21 L430.49,224.38 L431.13,225.21 L431.78,224.93 L432.44,225.12 L433.09,223.98 L433.73,224.51 L434.37,225.27 L435.00,225.06 L435.62,225.69 L436.25,224.84 L436.87,226.35 L437.50,224.12 L438.12,224.71 L438.75,223.09 L439.37,223.45 L440.00,225.16 L440.62,223.46 L441.25,224.38 L441.87,223.86 L442.50,223.07 L443.12,223.45 L443.75,223.24 L444.37,223.16 L444.98,223.92 L445.59,223.73 L446.20,222.75 L446.80,222.39 L447.41,223.10 L448.02,222.71 L448.63,223.39 L449.25,224.42 L449.87,223.06 L450.51,222.38 L451.16,222.22 L451.82,221.71 L452.50,221.67 L453.08,221.61 L453.68,222.05 L454.29,222.05 L454.92,222.91 L455.57,222.16 L456.22,222.36 L456.87,221.71 L457.53,223.79 L458.19,223.07 L458.84,224.06 L459.48,223.47 L460.11,224.07 L460.73,222.97 L461.33,223.77 L461.91,225.30 L462.47,222.69 L463.00,224.52 L463.65,225.11 L464.24,224.46 L464.80,224.97 L465.32,225.61 L465.82,224.55 L466.31,225.63 L466.79,225.04 L467.27,225.51 L467.76,225.88 L468.27,226.55 L468.81,227.09 L469.38,227.62 L470.00,226.58 L470.50,229.26 L471.03,228.92 L471.57,228.88 L472.13,228.39 L472.71,228.87 L473.30,229.62 L473.89,229.81 L474.49,228.59 L475.10,230.60 L475.70,232.42 L476.30,229.24 L476.90,231.50 L477.48,231.24 L478.06,231.06 L478.62,232.25 L479.17,230.50 L479.70,231.52 L480.32,232.45 L480.93,231.20 L481.53,230.94 L482.11,231.17 L482.69,230.58 L483.26,231.79 L483.82,229.78 L484.37,230.79 L484.92,228.97 L485.46,230.06 L486.00,229.20 L486.53,227.12 L487.07,228.68 L487.60,227.63 L488.12,227.79 L488.62,228.90 L489.10,226.66 L489.56,226.35 L490.02,227.79 L490.48,226.46 L490.94,227.12 L491.40,225.87 L491.88,224.64 L492.37,224.87 L492.88,225.46 L493.42,224.94 L493.99,223.97 L494.60,223.74 L495.14,223.43 L495.73,222.94 L496.36,224.61 L497.02,223.12 L497.70,222.20 L498.40,222.59 L499.11,223.38 L499.83,223.24 L500.53,222.61 L501.23,222.14 L501.90,222.54 L502.55,221.20 L503.16,221.33 L503.73,222.68 L504.25,221.56 L504.71,221.94 L505.10,222.28 L505.52,221.45 L505.86,220.51 L506.12,221.50 L506.31,219.87 L506.45,218.53 L506.55,218.67 L506.60,217.79 L506.64,216.21 L506.66,216.21 L506.67,215.37 L506.70,213.42 L506.73,214.08 L506.80,213.60 L506.88,212.97 L506.95,212.34 L507.00,211.71 L507.04,211.09 L507.08,210.47 L507.10,209.85 L507.13,209.24 L507.15,208.62 L507.17,208.00 L507.19,207.39 L507.22,206.77 L507.25,206.15 L507.29,205.53 L507.32,204.91 L507.36,204.29 L507.40,203.67 L507.44,203.05 L507.48,202.43 L507.51,201.80 L507.55,201.18 L507.59,200.56 L507.62,199.94 L507.66,199.32 L507.70,198.70 L507.74,198.08 L507.78,197.46 L507.81,196.84 L507.85,196.22 L507.89,195.60 L507.93,194.97 L507.96,194.35 L508.00,193.73 L508.04,193.11 L508.08,192.49 L508.11,191.87 L508.15,191.25 L508.19,190.63 L508.22,189.99 L508.26,189.36 L508.29,188.72 L508.33,188.09 L508.36,187.45 L508.40,186.82 L508.43,186.20 L508.47,185.58 L508.51,184.97 L508.55,184.38 L508.60,183.80 L508.66,183.13 L508.72,182.47 L508.78,181.83 L508.85,181.21 L508.92,180.59 L508.99,179.98 L509.06,179.38 L509.13,178.77 L509.20,178.15 L509.27,177.53 L509.33,176.91 L509.40,176.28 L509.47,175.65 L509.53,175.03 L509.60,174.40 L509.67,173.77 L509.73,173.15 L509.80,172.52 L509.87,171.89 L509.93,171.27 L509.99,170.60 L510.02,169.89 L510.05,169.14 L510.07,168.38 L510.10,167.64 L510.14,166.94 L510.21,166.30 L510.30,165.75 L510.43,165.31 L510.60,164.80 L510.98,164.56 L511.45,163.97 L511.99,165.40 L512.58,166.15 L513.23,166.63 L513.90,165.78 L514.33,166.89 L514.81,165.31 L515.31,165.71 L515.84,166.43 L516.37,164.56 L516.90,164.24 L517.42,164.90 L517.92,163.36 L518.38,162.95 L518.80,162.86 L519.18,162.94 L519.48,160.06 L519.73,160.48 L519.95,159.77 L520.17,159.13 L520.44,158.71 L520.78,158.16 L521.22,158.43 L521.80,157.06 L522.19,157.49 L522.63,157.37 L523.10,156.21 L523.61,156.46 L524.15,157.18 L524.71,155.87 L525.30,154.83 L525.89,154.90 L526.50,153.97 L527.11,154.54 L527.72,154.73 L528.33,153.33 L528.92,153.64 L529.50,154.51 L530.06,153.36 L530.60,153.93 L531.06,153.22 L531.53,153.58 L531.99,154.08 L532.45,156.31 L532.92,154.90 L533.37,155.24 L533.83,155.69 L534.28,156.47 L534.73,157.57 L535.18,157.78 L535.61,159.63 L536.05,158.89 L536.48,160.30 L536.90,160.01 L537.31,160.76 L537.71,159.81 L538.11,161.19 L538.50,161.65 L538.98,162.03 L539.45,161.19 L539.90,163.79 L540.33,163.37 L540.75,163.79 L541.17,164.37 L541.58,164.83 L541.98,165.72 L542.37,164.99 L542.77,165.66 L543.17,166.96 L543.57,167.30 L543.98,167.38 L544.40,167.70 L544.82,167.98 L545.25,168.99 L545.69,170.34 L546.12,169.25 L546.56,171.54 L547.00,171.55 L547.43,171.12 L547.86,172.45 L548.29,171.35 L548.71,171.61 L549.12,172.37 L549.53,173.41 L549.92,173.88 L550.30,174.14 L550.81,175.08 L551.30,174.00 L551.78,176.28 L552.23,175.37 L552.68,176.30 L553.12,176.87 L553.56,176.74 L554.00,176.99 L554.45,177.65 L554.90,178.76 L555.36,179.61 L555.82,180.01 L556.28,179.35 L556.74,179.92 L557.20,180.26 L557.66,181.64 L558.12,180.33 L558.58,183.05 L559.04,182.27 L559.50,182.48 L559.95,183.69 L560.40,184.58 L560.84,184.50 L561.28,185.40 L561.72,185.16 L562.16,186.34 L562.62,186.77 L563.09,186.27 L563.59,187.81 L564.10,187.42 L564.51,187.76 L564.94,187.47 L565.38,188.35 L565.83,189.54 L566.29,188.53 L566.76,190.37 L567.23,190.63 L567.70,191.05 L568.17,189.79 L568.65,191.73 L569.12,192.73 L569.59,192.21 L570.05,193.26 L570.50,191.98 L570.95,194.55 L571.39,194.04 L571.82,195.53 L572.25,194.04 L572.69,196.24 L573.13,196.01 L573.58,197.18 L574.03,196.42 L574.50,197.10 L574.98,199.60 L575.48,197.97 L576.00,198.61 L576.37,199.31 L576.74,199.23 L577.13,201.24 L577.52,202.11 L577.92,200.91 L578.32,200.72 L578.73,203.27 L579.15,203.77 L579.57,204.10 L579.99,204.87 L580.41,203.98 L580.84,204.98 L581.27,204.63 L581.69,205.08 L582.12,207.21 L582.54,206.48 L582.97,208.93 L583.38,207.74 L583.80,207.55 L584.40,208.93 L584.99,209.91 L585.58,209.19 L586.16,208.14 L586.74,209.35 L587.32,210.12 L587.91,208.87 L588.51,208.72 L589.12,210.03 L589.74,209.51 L590.37,208.77 L591.03,209.47 L591.70,209.47 L592.18,210.43 L592.67,210.56 L593.18,211.57 L593.69,211.57 L594.22,210.31 L594.76,212.04 L595.30,212.74 L595.85,212.80 L596.40,213.57 L596.95,212.83 L597.50,212.92 L598.04,214.59 L598.58,213.54 L599.11,213.11 L599.64,215.65 L600.15,214.71 L600.65,215.27 L601.13,214.73 L601.60,214.97 L602.31,215.33 L602.99,216.06 L603.65,216.69 L604.29,214.90 L604.91,217.08 L605.51,215.73 L606.11,215.81 L606.71,217.01 L607.31,216.47 L607.91,215.44 L608.51,217.82 L609.13,215.96 L609.76,216.80 L610.39,216.82 L611.02,217.72 L611.64,216.47 L612.27,217.55 L612.90,216.38 L613.53,217.74 L614.16,216.48 L614.78,216.81 L615.41,218.45 L616.04,217.40 L616.67,217.31 L617.32,218.84 L618.00,217.53 L618.71,216.69 L619.43,217.75 L620.15,216.38 L620.86,217.99 L621.54,218.05 L622.19,216.84 L622.79,216.88 L623.34,217.57 L623.81,217.65 L624.20,217.90 L624.52,218.28 L624.75,218.74 L624.90,219.27 L624.98,219.86 L625.01,220.50 L625.00,221.17 L624.98,221.85 L624.95,222.54 L624.93,223.22 L624.93,223.88 L624.98,224.50 L625.05,225.10 L625.12,225.70 L625.19,226.30 L625.26,226.90 L625.33,227.50 L625.40,228.10 L625.47,228.70 L625.54,229.30 L625.61,229.90 L625.68,230.50 L625.75,231.10 L625.82,231.70 L625.89,232.30 L625.96,232.90 L626.03,233.50 L626.10,234.10 L626.17,234.70 L626.24,235.30 L626.31,235.90 L626.38,236.50 L626.45,237.10 L626.52,237.70 L626.57,238.32 L626.57,238.99 L626.54,239.68 L626.50,240.38 L626.46,241.07 L626.45,241.75 L626.48,242.39 L626.56,242.98 L626.71,243.50 L626.95,243.95 L627.30,243.62 L627.70,244.30 L628.21,243.30 L628.81,244.30 L629.48,244.30 L630.20,244.30 L630.95,244.30 L631.71,244.28 L632.47,244.30 L633.19,244.30 L633.86,244.30 L634.47,243.79 L634.99,243.72 L635.40,244.30 L635.76,243.93 L636.02,243.46 L636.19,242.91 L636.30,242.29 L636.35,241.62 L636.36,240.91 L636.35,240.18 L636.34,239.45 L636.34,238.72 L636.37,238.02 L636.43,237.37 L636.53,236.74 L636.62,236.11 L636.72,235.48 L636.81,234.85 L636.90,234.22 L637.00,233.58 L637.09,232.95 L637.18,232.32 L637.28,231.69 L637.37,231.06 L637.47,230.43 L637.55,229.79 L637.61,229.13 L637.66,228.45 L637.70,227.78 L637.75,227.10 L637.81,226.43 L637.88,225.78 L637.98,225.16 L638.11,224.56 L638.28,224.01 L638.50,223.75 L638.82,222.25 L639.18,222.44 L639.59,222.64 L640.04,222.16 L640.52,222.11 L641.04,220.44 L641.60,219.56 L642.18,220.75 L642.80,220.02 L643.34,220.44 L643.92,219.58 L644.53,220.36 L645.16,220.10 L645.82,220.03 L646.50,219.91 L647.18,219.89 L647.86,219.82 L648.54,219.86 L649.21,220.42 L649.86,219.38 L650.50,220.95 L651.14,219.65 L651.79,220.41 L652.43,219.66 L653.07,219.54 L653.71,221.13 L654.35,219.49 L654.99,218.80 L655.64,219.19 L656.28,219.46 L656.92,221.19 L657.56,219.82 L658.20,220.32 L658.85,218.96 L659.49,219.91 L660.13,220.12 L660.77,220.91 L661.41,219.15 L662.05,220.06 L662.70,219.84 L663.34,218.91 L663.98,219.61 L664.62,219.43 L665.26,217.98 L665.91,220.02 L666.55,219.98 L667.19,219.29 L667.83,218.65 L668.47,220.62 L669.11,219.76 L669.76,220.28 L670.40,220.55 L671.04,219.20 L671.71,220.12 L672.42,219.38 L673.16,219.50 L673.90,219.48 L674.65,219.53 L675.37,220.30 L676.05,219.60 L676.68,219.40 L677.25,219.31 L677.72,219.74 L678.10,218.87" stroke="#2f2fff" stroke-width="1.6" fill="none" stroke-linejoin="round"/>
<path d="M405.80,501.10 L406.16,501.42 L406.63,501.17 L407.17,501.51 L407.78,501.29 L408.44,502.95 L409.14,502.64 L409.86,502.20 L410.58,502.00 L411.30,503.44 L411.99,502.41 L412.63,502.25 L413.25,502.56 L413.88,502.65 L414.50,503.39 L415.12,502.62 L415.74,503.97 L416.36,502.26 L416.98,503.29 L417.60,502.35 L418.22,504.13 L418.85,502.92 L419.47,503.17 L420.09,503.84 L420.70,504.14 L421.31,502.82 L421.92,503.39 L422.53,502.86 L423.14,503.88 L423.76,503.83 L424.38,503.76 L425.01,503.62 L425.65,503.85 L426.30,503.65 L426.90,504.42 L427.52,504.99 L428.14,502.88 L428.77,503.92 L429.40,503.67 L430.04,504.15 L430.68,503.20 L431.32,503.60 L431.96,502.99 L432.60,503.95 L433.23,503.52 L433.87,503.30 L434.50,503.56 L435.13,503.14 L435.76,502.29 L436.39,503.52 L437.02,503.28 L437.65,502.96 L438.28,503.58 L438.91,503.66 L439.54,502.22 L440.17,502.35 L440.80,503.69 L441.43,503.55 L442.07,502.19 L442.71,501.84 L443.36,502.08 L444.01,502.07 L444.66,501.33 L445.31,502.21 L445.95,501.34 L446.58,501.31 L447.21,502.54 L447.82,501.56 L448.42,501.92 L449.00,502.38 L449.67,502.57 L450.32,502.01 L450.95,502.41 L451.56,502.08 L452.16,503.84 L452.76,503.41 L453.35,502.59 L453.94,503.48 L454.54,504.13 L455.15,504.19 L455.76,505.18 L456.38,505.08 L457.00,504.11 L457.61,504.55 L458.22,504.01 L458.84,505.10 L459.45,505.23 L460.07,506.97 L460.68,505.62 L461.30,504.54 L461.86,505.63 L462.42,506.36 L462.98,505.81 L463.54,506.32 L464.10,506.91 L464.65,507.63 L465.21,507.62 L465.77,507.49 L466.33,508.79 L466.89,508.29 L467.45,508.60 L468.01,508.37 L468.56,509.06 L469.10,510.27 L469.65,509.26 L470.20,510.54 L470.75,511.35 L471.30,511.01 L471.86,511.65 L472.43,511.06 L473.01,512.69 L473.60,512.66 L474.16,512.16 L474.73,510.94 L475.31,511.28 L475.90,512.36 L476.50,512.65 L477.10,511.61 L477.70,511.97 L478.30,510.65 L478.89,510.68 L479.48,510.58 L480.05,510.63 L480.60,509.28 L481.25,510.56 L481.88,510.58 L482.50,508.88 L483.10,508.54 L483.71,509.34 L484.30,508.51 L484.90,507.25 L485.49,508.93 L486.09,508.32 L486.70,507.71 L487.31,509.05 L487.91,507.66 L488.50,506.93 L489.10,507.24 L489.69,506.36 L490.30,506.32 L490.90,506.79 L491.52,505.99 L492.15,505.80 L492.80,506.80 L493.31,506.08 L493.83,505.78 L494.36,505.34 L494.90,505.01 L495.44,505.29 L495.99,504.09 L496.54,504.90 L497.09,502.92 L497.64,503.05 L498.18,502.10 L498.73,502.48 L499.27,502.79 L499.80,503.17 L500.42,501.74 L501.04,502.03 L501.66,501.73 L502.27,501.45 L502.88,501.16 L503.49,501.89 L504.10,500.82 L504.70,501.92 L505.31,501.86 L505.92,501.44 L506.53,501.19 L507.15,500.92 L507.76,502.83 L508.37,500.86 L508.98,502.55 L509.59,501.93 L510.21,501.31 L510.82,500.79 L511.43,502.06 L512.04,502.43 L512.65,500.79 L513.27,501.12 L513.88,501.88 L514.50,501.41 L515.12,502.35 L515.74,500.76 L516.36,501.38 L516.98,500.25 L517.59,502.21 L518.20,500.47 L518.81,499.54 L519.41,500.76 L520.00,500.72 L520.64,501.92 L521.27,500.55 L521.90,500.73 L522.51,501.08 L523.13,501.67 L523.74,500.67 L524.34,501.33 L524.95,501.01 L525.57,500.51 L526.18,500.73 L526.80,500.69 L527.42,500.11 L528.04,501.37 L528.65,499.80 L529.27,501.33 L529.89,501.18 L530.51,500.54 L531.13,500.13 L531.75,500.44 L532.36,500.85 L532.98,501.00 L533.60,500.71 L534.22,501.12 L534.84,500.18 L535.45,500.65 L536.07,499.55 L536.69,500.94 L537.31,500.56 L537.93,500.21 L538.55,501.14 L539.16,500.85 L539.78,498.73 L540.40,500.43 L541.02,499.53 L541.64,501.03 L542.25,501.87 L542.87,500.05 L543.49,500.40 L544.11,500.19 L544.73,500.54 L545.35,500.70 L545.96,501.08 L546.58,499.70 L547.20,501.22 L547.82,499.71 L548.44,500.42 L549.05,500.94 L549.67,500.66 L550.29,499.66 L550.91,499.79 L551.53,499.92 L552.15,500.15 L552.76,500.86 L553.38,499.39 L554.00,500.43 L554.62,500.50 L555.24,500.46 L555.85,500.39 L556.47,501.01 L557.09,500.38 L557.71,500.59 L558.33,500.41 L558.95,501.13 L559.56,498.90 L560.18,500.80 L560.80,499.86 L561.42,499.84 L562.04,499.41 L562.65,498.86 L563.27,499.74 L563.89,499.55 L564.51,500.25 L565.13,499.05 L565.75,500.78 L566.36,500.08 L566.98,499.75 L567.60,499.46 L568.22,499.41 L568.84,499.19 L569.45,499.53 L570.07,499.85 L570.69,499.72 L571.31,498.97 L571.93,499.65 L572.55,499.26 L573.16,499.88 L573.78,500.89 L574.40,500.14 L575.02,499.56 L575.64,498.76 L576.25,498.88 L576.87,498.70 L577.49,500.14 L578.11,499.23 L578.73,499.71 L579.35,499.29 L579.96,499.71 L580.58,500.48 L581.20,499.22 L581.82,499.41 L582.44,499.15 L583.08,500.21 L583.72,499.14 L584.37,499.15 L585.01,499.06 L585.64,499.09 L586.26,500.21 L586.86,501.41 L587.45,499.13 L588.00,500.07 L588.48,499.32 L588.93,498.03 L589.37,497.95 L589.79,497.34 L590.20,496.39 L590.60,497.29 L591.00,494.35 L591.40,495.15 L591.79,494.66 L592.19,493.80 L592.60,494.09 L593.04,494.59 L593.47,494.42 L593.89,494.99 L594.31,495.69 L594.72,494.66 L595.15,497.40 L595.60,498.50 L596.07,498.29 L596.56,498.78 L597.10,497.66 L597.62,498.62 L598.18,498.34 L598.75,498.57 L599.35,499.55 L599.97,498.51 L600.59,498.91 L601.23,497.83 L601.86,498.86 L602.49,499.00 L603.11,498.52 L603.73,498.54 L604.33,500.15 L604.93,498.34 L605.53,498.47 L606.13,498.66 L606.74,499.91 L607.34,500.50 L607.94,499.48 L608.54,498.89 L609.15,499.11 L609.75,500.05 L610.35,498.90 L610.95,500.36 L611.55,500.39 L612.16,499.62 L612.76,500.01 L613.36,500.12 L613.96,500.64 L614.57,499.12 L615.17,500.50 L615.77,499.61 L616.37,499.42 L616.98,499.99 L617.60,499.81 L618.26,499.32 L618.93,498.90 L619.62,499.23 L620.30,500.61 L620.97,500.88 L621.60,500.09 L622.20,500.47 L622.74,499.57 L623.21,500.04 L623.60,500.40 L623.88,500.79 L624.10,501.26 L624.25,501.81 L624.36,502.41 L624.43,503.07 L624.47,503.77 L624.49,504.49 L624.50,505.22 L624.51,505.96 L624.53,506.68 L624.57,507.37 L624.63,508.03 L624.72,508.67 L624.81,509.31 L624.89,509.94 L624.98,510.58 L625.06,511.21 L625.15,511.85 L625.24,512.49 L625.32,513.12 L625.41,513.76 L625.49,514.39 L625.58,515.03 L625.67,515.67 L625.73,516.33 L625.77,517.03 L625.78,517.75 L625.78,518.49 L625.77,519.23 L625.79,519.96 L625.82,520.66 L625.88,521.32 L625.99,521.93 L626.16,522.47 L626.39,522.93 L626.70,523.47 L627.11,522.94 L627.63,523.23 L628.24,523.90 L628.91,523.90 L629.63,523.56 L630.37,523.90 L631.11,523.90 L631.84,523.90 L632.52,523.90 L633.14,523.62 L633.67,523.65 L634.10,523.20 L634.43,522.56 L634.69,522.29 L634.88,522.47 L635.03,521.85 L635.13,521.62 L635.20,519.18 L635.26,519.28 L635.30,518.58 L635.34,518.24 L635.39,517.19 L635.46,516.51 L635.57,516.67 L635.69,515.72 L635.81,514.32 L635.93,515.23 L636.06,514.43 L636.18,512.90 L636.30,513.15 L636.42,511.62 L636.54,512.14 L636.67,510.74 L636.79,509.80 L636.91,509.47 L637.03,508.64 L637.12,508.61 L637.17,507.96 L637.17,507.23 L637.17,506.21 L637.16,503.69 L637.16,505.29 L637.21,503.46 L637.30,504.14 L637.46,504.09 L637.70,503.05 L638.04,502.18 L638.50,501.89 L638.88,501.68 L639.33,501.21 L639.84,501.00 L640.40,500.62 L641.00,501.73 L641.63,500.87 L642.30,501.34 L642.99,500.50 L643.70,500.60 L644.41,500.37 L645.13,500.68 L645.84,500.83 L646.54,500.42 L647.22,499.81 L647.87,499.69 L648.49,501.10 L649.07,499.89 L649.60,499.83 L650.40,500.80 L651.14,500.52 L651.83,500.17 L652.48,499.60 L653.11,501.26 L653.71,500.10 L654.30,500.21 L654.89,499.81 L655.48,499.08 L656.09,499.15 L656.73,500.19 L657.37,500.18 L658.02,499.80 L658.67,499.23 L659.32,499.07 L659.96,499.73 L660.61,499.05 L661.26,500.46 L661.91,500.61 L662.55,501.61 L663.20,500.43 L663.85,499.54 L664.50,499.37 L665.15,497.82 L665.79,499.53 L666.44,499.78 L667.09,500.46 L667.74,500.24 L668.38,500.22 L669.03,499.99 L669.68,500.26 L670.33,500.72 L670.98,499.21 L671.65,499.57 L672.37,499.01 L673.11,500.81 L673.87,500.61 L674.62,500.28 L675.34,499.10 L676.03,499.92 L676.67,499.67 L677.24,499.85 L677.72,499.69 L678.10,500.11" stroke="#a0a0a0" stroke-width="1.8" fill="none" stroke-linejoin="round"/>
<path d="M405.80,499.46 L406.16,500.24 L406.63,499.91 L407.17,499.64 L407.78,499.80 L408.44,499.65 L409.14,500.47 L409.86,499.87 L410.58,500.27 L411.30,499.92 L411.99,499.32 L412.63,500.81 L413.25,499.68 L413.88,500.78 L414.50,500.67 L415.12,499.48 L415.74,499.96 L416.36,500.27 L416.98,500.13 L417.60,499.97 L418.22,501.17 L418.85,500.64 L419.47,501.06 L420.09,500.63 L420.70,501.13 L421.31,500.56 L421.92,501.05 L422.53,501.48 L423.14,501.22 L423.76,500.97 L424.38,500.65 L425.01,501.44 L425.65,501.58 L426.30,501.24 L426.90,500.95 L427.52,501.74 L428.14,502.90 L428.77,501.22 L429.40,501.58 L430.04,501.59 L430.68,499.80 L431.32,501.39 L431.96,500.87 L432.60,502.10 L433.23,501.10 L433.87,500.77 L434.50,501.09 L435.13,501.31 L435.76,500.86 L436.39,501.15 L437.02,500.35 L437.65,501.01 L438.28,501.60 L438.91,502.30 L439.54,501.53 L440.17,501.26 L440.80,501.79 L441.43,501.68 L442.06,502.05 L442.69,501.68 L443.32,500.93 L443.94,501.13 L444.57,501.06 L445.20,501.11 L445.82,501.03 L446.45,500.42 L447.08,499.62 L447.72,500.47 L448.36,499.67 L449.00,500.94 L449.60,500.93 L450.20,499.95 L450.80,501.42 L451.41,501.57 L452.01,501.16 L452.62,502.17 L453.23,502.35 L453.85,500.57 L454.46,501.98 L455.07,501.69 L455.68,501.73 L456.29,502.10 L456.90,501.17 L457.51,501.29 L458.12,501.19 L458.74,501.27 L459.36,501.69 L459.98,500.91 L460.60,501.18 L461.21,502.19 L461.83,501.85 L462.44,502.17 L463.04,500.87 L463.63,501.61 L464.22,501.85 L464.80,502.32 L465.41,502.10 L466.02,503.19 L466.61,502.79 L467.20,503.05 L467.78,503.27 L468.36,503.93 L468.93,503.46 L469.50,504.67 L470.07,504.52 L470.64,504.58 L471.22,504.75 L471.80,505.26 L472.38,505.79 L472.95,506.01 L473.51,505.94 L474.07,506.52 L474.63,506.35 L475.19,507.30 L475.76,506.80 L476.33,505.80 L476.92,508.05 L477.53,507.48 L478.15,506.83 L478.80,507.48 L479.37,507.08 L479.95,508.85 L480.54,507.84 L481.13,506.52 L481.74,507.68 L482.36,506.99 L482.98,508.23 L483.62,506.29 L484.26,505.40 L484.91,506.61 L485.57,506.17 L486.24,505.94 L486.91,504.71 L487.60,506.06 L488.15,506.65 L488.71,504.32 L489.29,505.97 L489.88,504.72 L490.48,506.25 L491.09,504.88 L491.71,504.27 L492.33,504.82 L492.94,504.23 L493.56,503.33 L494.17,503.89 L494.77,502.94 L495.37,501.97 L495.95,504.07 L496.52,502.47 L497.06,502.17 L497.59,502.61 L498.10,501.36 L498.82,501.38 L499.50,501.83 L500.15,501.80 L500.77,502.16 L501.37,502.83 L501.95,501.93 L502.52,502.58 L503.09,502.72 L503.65,501.79 L504.22,502.64 L504.80,502.00 L505.40,503.24 L506.01,502.90 L506.62,502.66 L507.23,501.87 L507.83,502.77 L508.44,502.26 L509.05,503.17 L509.66,502.70 L510.27,502.31 L510.88,503.38 L511.48,503.28 L512.09,502.52 L512.70,503.60 L513.31,502.75 L513.93,502.77 L514.55,503.06 L515.18,502.56 L515.80,502.78 L516.42,502.97 L517.04,504.02 L517.65,504.02 L518.26,502.99 L518.85,504.13 L519.43,503.16 L520.00,503.43 L520.66,503.74 L521.30,503.39 L521.93,504.67 L522.54,503.36 L523.15,502.49 L523.75,503.98 L524.34,502.95 L524.94,503.00 L525.54,501.39 L526.15,503.78 L526.77,503.67 L527.38,503.65 L528.00,503.76 L528.62,504.18 L529.23,503.14 L529.85,503.73 L530.46,502.71 L531.08,502.95 L531.69,503.79 L532.31,503.39 L532.92,502.35 L533.54,503.37 L534.15,503.04 L534.77,502.65 L535.38,503.40 L536.00,502.90 L536.62,502.20 L537.23,502.47 L537.85,504.19 L538.46,502.22 L539.08,503.26 L539.69,503.49 L540.31,503.51 L540.92,502.39 L541.54,502.93 L542.15,503.20 L542.77,503.59 L543.38,502.73 L544.00,502.41 L544.62,503.71 L545.23,503.77 L545.85,503.33 L546.46,502.74 L547.08,503.34 L547.69,503.16 L548.31,503.60 L548.92,502.34 L549.54,503.16 L550.15,502.99 L550.77,502.42 L551.38,503.21 L552.00,503.10 L552.62,502.83 L553.23,503.31 L553.85,502.22 L554.46,503.04 L555.08,503.33 L555.69,503.24 L556.31,503.71 L556.92,502.34 L557.54,502.15 L558.15,503.20 L558.77,503.33 L559.38,504.32 L560.00,503.42 L560.62,502.52 L561.23,503.53 L561.85,502.54 L562.46,502.15 L563.08,504.60 L563.69,503.23 L564.31,503.46 L564.92,503.37 L565.54,504.12 L566.15,503.20 L566.77,503.76 L567.38,502.41 L568.00,502.18 L568.62,503.87 L569.23,503.90 L569.85,503.32 L570.46,503.15 L571.08,503.11 L571.69,502.59 L572.31,503.93 L572.92,503.40 L573.54,503.30 L574.15,503.22 L574.77,503.62 L575.38,503.30 L576.00,503.44 L576.62,502.29 L577.23,503.29 L577.85,504.30 L578.46,502.67 L579.08,502.90 L579.69,503.51 L580.31,503.55 L580.92,503.35 L581.54,502.00 L582.15,503.27 L582.77,502.25 L583.38,502.47 L584.00,503.29 L584.62,502.78 L585.23,503.44 L585.85,504.84 L586.46,503.42 L587.08,503.38 L587.69,502.41 L588.31,502.56 L588.92,502.30 L589.54,502.62 L590.15,502.28 L590.77,502.54 L591.38,502.81 L592.00,502.33 L592.62,502.08 L593.23,502.11 L593.85,503.20 L594.45,502.96 L595.05,503.54 L595.64,503.55 L596.23,502.72 L596.82,503.32 L597.42,502.06 L598.03,504.29 L598.66,503.63 L599.32,502.78 L600.00,502.20 L600.55,503.12 L601.12,501.76 L601.70,502.40 L602.29,503.30 L602.90,502.88 L603.52,502.52 L604.14,503.37 L604.76,502.16 L605.39,502.94 L606.02,502.45 L606.64,502.22 L607.26,502.99 L607.87,502.10 L608.47,503.83 L609.08,502.32 L609.68,503.85 L610.29,501.98 L610.89,502.99 L611.50,501.89 L612.10,501.79 L612.71,502.67 L613.31,502.97 L613.92,501.78 L614.52,503.24 L615.13,502.04 L615.73,502.58 L616.36,502.69 L617.01,502.75 L617.69,501.23 L618.38,503.17 L619.07,502.43 L619.76,501.74 L620.43,501.30 L621.07,500.84 L621.68,501.01 L622.25,502.18 L622.77,501.73 L623.22,501.40 L623.60,502.30 L623.95,502.67 L624.20,503.13 L624.37,503.69 L624.48,504.32 L624.53,504.99 L624.55,505.71 L624.55,506.45 L624.54,507.20 L624.54,507.93 L624.57,508.64 L624.63,509.30 L624.73,509.94 L624.82,510.57 L624.92,511.21 L625.01,511.85 L625.10,512.48 L625.20,513.12 L625.29,513.75 L625.38,514.39 L625.48,515.03 L625.57,515.66 L625.67,516.30 L625.74,516.96 L625.77,517.67 L625.78,518.40 L625.77,519.14 L625.78,519.88 L625.80,520.59 L625.86,521.27 L625.96,521.90 L626.12,522.45 L626.37,522.93 L626.70,522.98 L627.11,523.90 L627.63,523.60 L628.22,523.63 L628.89,523.90 L629.60,523.90 L630.33,523.90 L631.06,523.86 L631.78,523.22 L632.47,523.33 L633.09,523.56 L633.65,523.47 L634.10,523.51 L634.44,523.28 L634.72,522.64 L634.96,522.12 L635.16,520.81 L635.32,519.50 L635.46,519.81 L635.58,518.85 L635.69,518.32 L635.79,517.83 L635.90,516.53 L636.01,515.90 L636.14,515.83 L636.30,515.32 L636.46,514.22 L636.60,514.26 L636.73,513.16 L636.85,512.00 L636.96,511.95 L637.09,512.38 L637.22,510.18 L637.36,510.64 L637.53,510.14 L637.72,509.62 L637.94,507.67 L638.20,508.87 L638.50,507.27 L638.91,506.57 L639.38,506.16 L639.89,506.28 L640.44,505.61 L641.02,505.18 L641.62,505.80 L642.24,504.37 L642.87,503.97 L643.49,504.89 L644.10,504.67 L644.70,504.76 L645.29,503.33 L645.89,504.55 L646.49,504.14 L647.09,504.89 L647.70,503.09 L648.32,504.00 L648.93,503.73 L649.55,502.98 L650.16,503.53 L650.77,504.66 L651.38,503.70 L651.99,503.54 L652.59,504.48 L653.20,504.54 L653.81,504.53 L654.42,503.45 L655.02,503.88 L655.63,504.52 L656.24,503.50 L656.85,503.43 L657.45,504.37 L658.06,504.80 L658.67,503.16 L659.27,502.28 L659.88,502.96 L660.49,503.21 L661.10,503.72 L661.70,504.16 L662.31,503.70 L662.92,503.35 L663.53,503.85 L664.13,503.17 L664.74,503.71 L665.35,503.34 L665.95,505.33 L666.56,504.20 L667.17,503.20 L667.78,503.09 L668.38,503.41 L668.99,502.68 L669.60,503.21 L670.21,503.20 L670.81,504.16 L671.42,503.36 L672.05,503.13 L672.72,502.79 L673.42,502.88 L674.13,503.53 L674.83,503.43 L675.52,504.23 L676.16,503.16 L676.76,504.16 L677.29,503.67 L677.74,503.50 L678.10,502.30" stroke="#ff2020" stroke-width="1.6" fill="none" stroke-linejoin="round"/>
<path d="M405.80,499.43 L406.16,500.68 L406.61,501.11 L407.13,500.45 L407.72,500.84 L408.36,500.20 L409.04,500.28 L409.74,500.18 L410.46,501.23 L411.18,500.91 L411.88,500.63 L412.56,500.64 L413.20,501.23 L413.82,501.15 L414.43,500.52 L415.05,502.10 L415.67,501.29 L416.28,501.20 L416.90,502.14 L417.52,501.92 L418.13,501.31 L418.75,501.75 L419.37,500.84 L419.98,501.16 L420.60,500.24 L421.22,502.40 L421.84,500.59 L422.47,502.22 L423.10,501.39 L423.73,501.38 L424.36,501.92 L424.99,502.27 L425.60,502.54 L426.22,503.29 L426.82,502.48 L427.42,502.82 L428.00,501.94 L428.68,502.71 L429.35,502.34 L430.00,501.91 L430.64,502.06 L431.28,502.00 L431.91,502.06 L432.53,502.09 L433.16,501.46 L433.79,501.23 L434.43,502.05 L435.08,500.51 L435.72,501.09 L436.36,502.32 L437.01,499.70 L437.65,500.83 L438.29,501.59 L438.94,500.12 L439.58,502.60 L440.22,499.42 L440.87,501.76 L441.49,501.76 L442.09,501.29 L442.67,500.51 L443.24,500.77 L443.83,499.92 L444.43,500.86 L445.07,499.64 L445.75,500.09 L446.49,500.81 L447.30,499.53 L447.82,499.98 L448.38,500.31 L448.97,499.41 L449.58,500.93 L450.22,500.45 L450.88,499.36 L451.55,500.27 L452.23,499.87 L452.91,499.98 L453.59,500.46 L454.26,500.04 L454.91,501.10 L455.55,500.16 L456.16,501.24 L456.74,500.70 L457.29,501.32 L457.80,500.58 L458.59,500.77 L459.30,500.59 L459.95,501.85 L460.56,502.32 L461.12,503.29 L461.67,503.06 L462.21,502.71 L462.75,502.71 L463.31,503.33 L463.90,503.33 L464.49,504.47 L465.05,504.39 L465.59,503.55 L466.12,503.87 L466.67,505.33 L467.24,504.93 L467.84,504.85 L468.49,505.95 L469.21,505.28 L470.00,505.63 L470.49,505.70 L471.01,505.00 L471.57,506.92 L472.16,505.92 L472.77,506.55 L473.40,506.70 L474.04,507.84 L474.70,507.63 L475.35,507.93 L476.01,507.16 L476.66,508.35 L477.30,507.73 L477.92,508.99 L478.52,509.19 L479.09,509.10 L479.63,510.44 L480.14,509.59 L480.60,509.66 L481.34,509.32 L481.99,508.93 L482.57,509.34 L483.09,509.06 L483.56,507.21 L484.01,508.17 L484.44,507.38 L484.89,507.19 L485.35,506.46 L485.85,505.05 L486.37,504.74 L486.87,506.16 L487.37,504.84 L487.87,503.45 L488.37,504.13 L488.87,503.33 L489.40,502.09 L489.94,501.49 L490.50,501.60 L491.10,502.46 L491.67,502.06 L492.26,501.75 L492.87,501.91 L493.50,501.95 L494.15,500.20 L494.80,501.17 L495.46,500.75 L496.12,500.41 L496.79,500.74 L497.45,500.91 L498.10,500.74 L498.70,499.96 L499.30,500.49 L499.90,501.94 L500.51,500.06 L501.12,499.65 L501.73,500.80 L502.34,500.97 L502.96,500.87 L503.57,499.90 L504.18,501.15 L504.79,500.06 L505.40,499.82 L506.01,500.10 L506.62,500.37 L507.23,500.83 L507.83,500.74 L508.44,500.32 L509.05,500.86 L509.66,500.32 L510.27,500.77 L510.88,499.36 L511.48,499.22 L512.09,500.60 L512.70,499.27 L513.31,499.89 L513.91,499.97 L514.52,499.71 L515.13,499.69 L515.73,500.77 L516.34,498.38 L516.95,500.40 L517.55,501.21 L518.16,499.81 L518.77,499.76 L519.39,500.17 L520.00,500.80 L520.62,498.95 L521.23,499.69 L521.85,499.49 L522.48,499.90 L523.10,499.63 L523.72,499.90 L524.35,499.21 L524.97,499.46 L525.60,499.00 L526.22,498.97 L526.84,499.25 L527.47,499.21 L528.09,498.56 L528.71,500.18 L529.33,499.12 L529.96,498.34 L530.58,499.79 L531.20,498.65 L531.82,499.37 L532.44,499.02 L533.07,499.15 L533.69,499.07 L534.31,498.59 L534.93,498.92 L535.56,500.09 L536.19,497.51 L536.83,498.87 L537.46,499.08 L538.10,498.17 L538.74,497.97 L539.37,500.06 L539.99,498.51 L540.61,499.95 L541.22,498.97 L541.82,498.63 L542.40,498.79 L543.02,498.77 L543.62,498.97 L544.21,498.37 L544.79,498.04 L545.36,497.88 L545.93,498.41 L546.49,497.90 L547.05,496.63 L547.61,496.66 L548.18,497.07 L548.75,496.33 L549.31,496.32 L549.84,495.83 L550.36,496.11 L550.86,496.39 L551.37,496.60 L551.90,495.87 L552.45,496.96 L553.03,495.50 L553.66,497.28 L554.35,495.75 L555.10,495.20 L555.57,494.44 L556.07,492.87 L556.59,494.28 L557.13,494.28 L557.69,495.12 L558.26,492.92 L558.85,494.66 L559.45,493.14 L560.06,493.49 L560.68,491.30 L561.30,492.67 L561.92,492.14 L562.54,492.53 L563.16,491.95 L563.77,490.99 L564.37,492.03 L564.96,491.68 L565.54,491.43 L566.10,491.51 L566.72,491.36 L567.34,490.48 L567.96,489.46 L568.58,489.23 L569.20,490.65 L569.81,490.04 L570.42,489.47 L571.03,488.94 L571.63,489.03 L572.22,488.86 L572.81,488.50 L573.39,488.16 L573.95,489.79 L574.51,488.57 L575.05,488.05 L575.58,487.65 L576.10,488.06 L576.66,489.10 L577.20,489.39 L577.72,489.17 L578.22,489.76 L578.70,490.04 L579.17,490.08 L579.63,492.07 L580.09,492.05 L580.54,493.83 L581.00,492.37 L581.46,493.16 L581.93,494.12 L582.40,493.70 L582.89,493.16 L583.40,493.43 L583.83,493.95 L584.28,493.87 L584.72,493.29 L585.18,493.54 L585.64,493.06 L586.10,492.13 L586.57,491.39 L587.03,490.63 L587.50,490.51 L587.97,490.14 L588.43,489.04 L588.90,488.73 L589.36,487.77 L589.82,486.68 L590.27,486.57 L590.72,487.36 L591.17,487.01 L591.60,487.65 L592.03,486.81 L592.44,487.47 L592.85,488.00 L593.25,488.14 L593.64,487.58 L594.03,488.29 L594.42,488.98 L594.80,488.86 L595.19,490.31 L595.57,491.23 L595.96,490.93 L596.36,493.01 L596.76,492.24 L597.17,492.87 L597.58,493.39 L598.01,493.61 L598.45,494.75 L598.90,494.91 L599.39,496.29 L599.90,496.04 L600.43,496.39 L600.96,496.31 L601.51,495.97 L602.07,497.12 L602.63,497.02 L603.19,498.44 L603.75,498.17 L604.32,499.49 L604.88,499.22 L605.44,499.55 L605.99,499.43 L606.54,499.63 L607.07,500.09 L607.59,500.42 L608.10,499.57 L608.74,500.42 L609.37,501.75 L609.99,500.12 L610.59,499.98 L611.19,499.63 L611.77,499.06 L612.36,500.50 L612.94,499.67 L613.51,499.65 L614.09,500.43 L614.67,500.68 L615.26,498.51 L615.85,499.58 L616.47,499.22 L617.11,498.95 L617.78,498.84 L618.46,498.37 L619.15,499.16 L619.83,498.41 L620.49,498.10 L621.13,498.51 L621.73,498.22 L622.29,497.91 L622.79,497.85 L623.23,498.79 L623.60,497.90 L623.96,498.24 L624.20,498.70 L624.35,499.26 L624.41,499.91 L624.42,500.61 L624.40,501.35 L624.36,502.11 L624.33,502.86 L624.33,503.58 L624.38,504.25 L624.45,504.88 L624.53,505.52 L624.61,506.15 L624.69,506.79 L624.76,507.43 L624.84,508.06 L624.92,508.69 L625.00,509.33 L625.07,509.96 L625.15,510.60 L625.23,511.23 L625.31,511.87 L625.38,512.50 L625.46,513.14 L625.54,513.77 L625.62,514.41 L625.69,515.04 L625.77,515.68 L625.85,516.31 L625.93,516.95 L625.97,517.61 L625.97,518.32 L625.95,519.06 L625.92,519.79 L625.90,520.52 L625.91,521.22 L625.98,521.86 L626.12,522.44 L626.35,522.92 L626.70,523.61 L627.10,523.49 L627.62,523.24 L628.22,523.72 L628.90,523.42 L629.61,523.90 L630.36,523.90 L631.10,522.92 L631.83,523.90 L632.51,523.90 L633.13,523.90 L633.67,523.01 L634.10,523.90 L634.43,522.52 L634.69,521.76 L634.88,521.32 L635.03,521.37 L635.13,521.32 L635.20,520.75 L635.26,519.47 L635.30,517.90 L635.34,517.51 L635.39,516.65 L635.46,516.40 L635.57,514.80 L635.69,515.31 L635.81,515.02 L635.93,513.92 L636.06,513.67 L636.18,512.21 L636.30,511.28 L636.42,511.15 L636.54,511.61 L636.67,510.91 L636.79,509.40 L636.91,509.78 L637.03,508.24 L637.12,508.70 L637.17,507.42 L637.17,506.17 L637.17,506.22 L637.16,504.59 L637.16,503.80 L637.21,502.83 L637.30,503.22 L637.46,502.43 L637.70,501.87 L638.04,501.18 L638.50,501.86 L638.88,500.50 L639.33,500.11 L639.84,501.10 L640.40,501.04 L641.00,500.25 L641.63,498.88 L642.30,499.46 L642.99,500.09 L643.70,499.66 L644.41,500.51 L645.13,498.70 L645.84,499.88 L646.54,499.05 L647.22,500.18 L647.87,499.30 L648.49,499.92 L649.07,498.86 L649.60,498.35 L650.40,498.46 L651.14,498.71 L651.83,498.42 L652.48,499.74 L653.11,499.81 L653.71,499.18 L654.30,498.40 L654.89,498.96 L655.48,498.62 L656.09,499.91 L656.73,499.21 L657.37,499.30 L658.02,498.75 L658.67,497.77 L659.32,498.50 L659.96,498.28 L660.61,499.15 L661.26,498.97 L661.91,498.42 L662.55,498.65 L663.20,499.81 L663.85,498.27 L664.50,498.28 L665.15,498.68 L665.79,498.38 L666.44,498.53 L667.09,499.09 L667.74,499.79 L668.38,497.67 L669.03,498.71 L669.68,498.73 L670.33,498.64 L670.98,498.56 L671.65,498.45 L672.37,499.24 L673.11,498.34 L673.87,498.53 L674.62,498.59 L675.34,498.63 L676.03,498.45 L676.67,499.13 L677.24,498.52 L677.72,498.61 L678.10,498.47" stroke="#111" stroke-width="1.6" fill="none" stroke-linejoin="round"/>
<path d="M405.80,500.95 L406.16,501.10 L406.63,501.09 L407.17,501.76 L407.78,501.48 L408.44,501.45 L409.14,502.18 L409.86,502.45 L410.58,501.56 L411.30,503.26 L411.99,502.65 L412.63,502.72 L413.25,503.37 L413.88,503.05 L414.50,502.87 L415.12,504.25 L415.74,502.90 L416.36,503.47 L416.98,504.02 L417.60,503.28 L418.22,503.84 L418.85,504.18 L419.47,505.21 L420.09,503.86 L420.71,504.38 L421.33,504.84 L421.94,504.72 L422.56,504.28 L423.18,505.14 L423.80,505.14 L424.42,505.42 L425.05,505.83 L425.67,505.88 L426.30,505.68 L426.93,505.70 L427.56,505.11 L428.20,505.57 L428.83,505.74 L429.47,505.47 L430.11,505.69 L430.75,505.28 L431.39,506.33 L432.03,506.61 L432.66,505.47 L433.30,505.83 L433.94,505.57 L434.57,506.29 L435.21,505.99 L435.85,505.89 L436.48,505.82 L437.12,506.04 L437.75,505.56 L438.39,506.33 L439.03,505.67 L439.66,506.16 L440.30,505.86 L440.83,506.13 L441.36,505.42 L441.88,505.64 L442.40,504.47 L442.91,504.85 L443.43,504.14 L443.96,504.00 L444.48,503.61 L445.02,503.68 L445.57,502.06 L446.13,502.84 L446.71,501.80 L447.30,502.84 L447.87,501.29 L448.47,501.61 L449.08,501.22 L449.71,502.64 L450.35,501.27 L451.00,501.86 L451.65,501.54 L452.30,500.97 L452.95,501.63 L453.59,502.10 L454.22,501.75 L454.83,502.30 L455.43,501.77 L456.00,502.00 L456.64,501.93 L457.27,502.39 L457.87,503.26 L458.46,502.75 L459.04,502.88 L459.61,502.73 L460.17,502.90 L460.73,504.13 L461.29,503.20 L461.85,503.52 L462.42,504.10 L463.00,504.16 L463.59,505.43 L464.18,503.68 L464.77,505.10 L465.36,505.46 L465.96,504.83 L466.55,505.24 L467.14,505.93 L467.73,506.66 L468.31,505.71 L468.88,505.61 L469.45,506.95 L470.00,507.39 L470.65,506.78 L471.28,506.15 L471.91,508.02 L472.52,507.50 L473.13,508.32 L473.73,508.01 L474.33,508.08 L474.93,508.26 L475.54,509.34 L476.15,509.55 L476.75,508.18 L477.34,509.01 L477.91,510.54 L478.48,509.89 L479.06,509.74 L479.65,510.63 L480.26,510.81 L480.90,510.98 L481.58,510.90 L482.30,510.96 L482.82,510.83 L483.36,511.07 L483.94,510.40 L484.54,510.45 L485.15,510.29 L485.78,510.70 L486.41,510.01 L487.05,509.51 L487.68,509.51 L488.30,509.16 L488.91,509.17 L489.50,508.62 L490.06,508.92 L490.60,508.45 L491.10,507.58 L491.73,507.10 L492.33,507.36 L492.88,506.88 L493.40,506.28 L493.90,505.34 L494.38,504.87 L494.86,505.53 L495.33,505.40 L495.81,505.10 L496.29,503.84 L496.80,504.57 L497.33,503.57 L497.89,503.73 L498.46,503.53 L499.04,502.76 L499.62,502.64 L500.18,501.74 L500.72,501.98 L501.23,501.26 L501.71,501.87 L502.13,501.21 L502.50,500.60 L502.71,500.15 L502.89,499.65 L503.06,499.10 L503.21,498.50 L503.34,497.87 L503.46,497.21 L503.56,496.53 L503.65,495.83 L503.74,495.13 L503.81,494.42 L503.87,493.71 L503.93,493.02 L503.99,492.35 L504.04,491.71 L504.09,491.10 L504.15,490.52 L504.20,490.00 L504.28,489.19 L504.33,488.46 L504.36,487.78 L504.38,487.15 L504.38,486.55 L504.37,485.98 L504.36,485.41 L504.36,484.84 L504.35,484.25 L504.36,483.64 L504.38,483.00 L504.40,482.36 L504.41,481.73 L504.43,481.09 L504.45,480.45 L504.46,479.82 L504.48,479.18 L504.49,478.55 L504.51,477.91 L504.53,477.27 L504.54,476.64 L504.56,476.00 L504.58,475.36 L504.59,474.73 L504.61,474.09 L504.63,473.45 L504.64,472.82 L504.66,472.18 L504.67,471.55 L504.69,470.91 L504.71,470.27 L504.72,469.64 L504.74,469.00 L504.76,468.36 L504.77,467.73 L504.79,467.09 L504.81,466.45 L504.82,465.82 L504.84,465.18 L504.85,464.55 L504.87,463.91 L504.89,463.27 L504.90,462.64 L504.92,462.00 L504.94,461.36 L504.95,460.73 L504.97,460.09 L504.99,459.45 L505.00,458.82 L505.02,458.18 L505.03,457.55 L505.05,456.91 L505.07,456.27 L505.08,455.64 L505.10,455.00 L505.12,454.36 L505.13,453.73 L505.15,453.09 L505.17,452.45 L505.18,451.82 L505.20,451.18 L505.21,450.55 L505.23,449.91 L505.25,449.27 L505.26,448.64 L505.28,448.00 L505.30,447.36 L505.31,446.73 L505.33,446.09 L505.35,445.45 L505.36,444.82 L505.38,444.18 L505.39,443.55 L505.41,442.91 L505.43,442.27 L505.44,441.64 L505.46,441.00 L505.48,440.36 L505.49,439.73 L505.51,439.09 L505.53,438.45 L505.54,437.82 L505.56,437.18 L505.57,436.55 L505.59,435.91 L505.61,435.27 L505.62,434.64 L505.64,434.00 L505.66,433.36 L505.67,432.73 L505.69,432.09 L505.71,431.45 L505.72,430.82 L505.74,430.18 L505.75,429.55 L505.77,428.91 L505.79,428.27 L505.80,427.64 L505.82,427.00 L505.84,426.36 L505.85,425.73 L505.87,425.09 L505.89,424.45 L505.90,423.81 L505.92,423.17 L505.94,422.53 L505.95,421.89 L505.97,421.26 L505.99,420.63 L506.00,420.00 L506.01,419.38 L506.03,418.75 L506.04,418.14 L506.05,417.52 L506.06,416.90 L506.07,416.29 L506.08,415.68 L506.09,415.06 L506.11,414.45 L506.12,413.83 L506.13,413.22 L506.14,412.60 L506.15,411.98 L506.16,411.37 L506.18,410.75 L506.19,410.13 L506.20,409.52 L506.21,408.90 L506.22,408.28 L506.23,407.67 L506.25,407.05 L506.26,406.43 L506.27,405.82 L506.28,405.20 L506.29,404.58 L506.30,403.97 L506.31,403.35 L506.33,402.73 L506.34,402.12 L506.35,401.50 L506.36,400.88 L506.37,400.27 L506.38,399.65 L506.40,399.03 L506.41,398.42 L506.42,397.80 L506.43,397.18 L506.44,396.57 L506.46,395.95 L506.47,395.33 L506.48,394.72 L506.49,394.10 L506.50,393.48 L506.51,392.87 L506.53,392.25 L506.54,391.63 L506.55,391.02 L506.56,390.40 L506.57,389.78 L506.58,389.17 L506.59,388.55 L506.61,387.93 L506.62,387.32 L506.63,386.70 L506.64,386.09 L506.65,385.47 L506.66,384.86 L506.67,384.24 L506.68,383.62 L506.70,383.00 L506.72,382.38 L506.73,381.75 L506.75,381.13 L506.77,380.50 L506.79,379.88 L506.82,379.25 L506.84,378.62 L506.86,378.00 L506.88,377.37 L506.90,376.74 L506.92,376.12 L506.94,375.49 L506.96,374.87 L506.98,374.24 L507.00,373.61 L507.02,372.99 L507.04,372.36 L507.06,371.74 L507.08,371.11 L507.10,370.49 L507.12,369.86 L507.14,369.23 L507.16,368.61 L507.18,367.98 L507.20,367.36 L507.22,366.73 L507.24,366.11 L507.26,365.48 L507.28,364.85 L507.30,364.23 L507.32,363.60 L507.34,362.98 L507.36,362.35 L507.38,361.73 L507.40,361.10 L507.42,360.47 L507.44,359.85 L507.46,359.22 L507.48,358.60 L507.50,357.97 L507.52,357.35 L507.54,356.72 L507.56,356.09 L507.58,355.47 L507.60,354.84 L507.62,354.22 L507.64,353.59 L507.66,352.97 L507.68,352.34 L507.70,351.71 L507.72,351.09 L507.74,350.46 L507.76,349.84 L507.78,349.21 L507.80,348.59 L507.82,347.96 L507.84,347.33 L507.86,346.71 L507.88,346.08 L507.90,345.46 L507.92,344.83 L507.94,344.21 L507.95,343.58 L507.97,342.95 L507.98,342.33 L508.00,341.70 L508.02,341.08 L508.04,340.45 L508.07,339.82 L508.10,339.20 L508.14,338.58 L508.18,337.95 L508.23,337.33 L508.28,336.70 L508.33,336.08 L508.39,335.46 L508.44,334.84 L508.50,334.21 L508.55,333.59 L508.60,332.97 L508.65,332.34 L508.70,331.72 L508.75,331.10 L508.80,330.47 L508.85,329.85 L508.90,329.23 L508.95,328.60 L509.00,327.98 L509.05,327.36 L509.10,326.73 L509.15,326.03 L509.19,325.20 L509.23,324.31 L509.27,323.39 L509.31,322.51 L509.35,321.72 L509.40,321.07 L509.46,320.62 L509.52,320.41 L509.60,320.50 L509.65,320.69 L509.70,320.98 L509.76,321.36 L509.82,321.83 L509.89,322.36 L509.96,322.96 L510.03,323.60 L510.10,324.30 L510.17,325.02 L510.25,325.77 L510.32,326.53 L510.39,327.29 L510.46,328.04 L510.53,328.78 L510.59,329.50 L510.65,330.18 L510.71,330.81 L510.76,331.39 L510.80,331.90 L510.86,332.69 L510.91,333.41 L510.95,334.07 L510.99,334.69 L511.01,335.27 L511.03,335.83 L511.05,336.37 L511.07,336.91 L511.09,337.46 L511.11,338.03 L511.14,338.62 L511.17,339.23 L511.20,339.84 L511.23,340.45 L511.26,341.06 L511.29,341.67 L511.33,342.29 L511.36,342.90 L511.39,343.51 L511.42,344.12 L511.45,344.73 L511.48,345.34 L511.51,345.95 L511.54,346.56 L511.57,347.17 L511.60,347.78 L511.63,348.39 L511.67,349.01 L511.70,349.62 L511.73,350.23 L511.76,350.84 L511.79,351.45 L511.82,352.06 L511.85,352.67 L511.88,353.28 L511.91,353.89 L511.94,354.50 L511.97,355.11 L512.01,355.73 L512.04,356.34 L512.07,356.95 L512.10,357.56 L512.13,358.17 L512.16,358.78 L512.19,359.39 L512.22,360.01 L512.24,360.63 L512.27,361.25 L512.29,361.86 L512.32,362.48 L512.35,363.09 L512.38,363.70 L512.41,364.31 L512.45,364.91 L512.50,365.50 L512.56,366.14 L512.62,366.77 L512.69,367.40 L512.76,368.02 L512.84,368.63 L512.92,369.24 L513.00,369.86 L513.07,370.47 L513.15,371.08 L513.23,371.70 L513.30,372.32 L513.37,372.94 L513.44,373.56 L513.51,374.18 L513.59,374.80 L513.66,375.42 L513.73,376.04 L513.81,376.66 L513.88,377.28 L513.95,377.90 L514.02,378.52 L514.10,379.14 L514.17,379.76 L514.24,380.38 L514.31,381.00 L514.38,381.62 L514.46,382.24 L514.53,382.86 L514.60,383.48 L514.67,384.10 L514.74,384.70 L514.79,385.27 L514.84,385.82 L514.89,386.36 L514.94,386.92 L515.00,387.50 L515.07,388.11 L515.15,388.77 L515.26,389.50 L515.40,390.71 L515.49,390.95 L515.59,391.03 L515.70,392.03 L515.82,392.29 L515.95,393.35 L516.08,393.85 L516.22,393.91 L516.36,395.01 L516.51,395.69 L516.65,396.18 L516.80,397.37 L516.94,398.39 L517.08,398.08 L517.22,398.69 L517.35,398.42 L517.48,399.93 L517.59,400.32 L517.70,400.03 L517.87,401.91 L518.01,402.74 L518.13,402.76 L518.24,403.49 L518.34,403.76 L518.45,405.05 L518.58,404.55 L518.72,405.63 L518.89,407.23 L519.10,407.02 L519.29,407.75 L519.50,408.04 L519.73,408.16 L519.97,409.28 L520.23,410.09 L520.49,410.07 L520.76,411.30 L521.03,412.32 L521.30,412.85 L521.57,412.25 L521.82,413.10 L522.07,413.36 L522.30,415.08 L522.61,415.57 L522.91,416.26 L523.20,416.16 L523.48,416.62 L523.76,417.75 L524.03,418.32 L524.31,418.45 L524.60,419.47 L524.90,420.29 L525.17,420.63 L525.42,420.55 L525.67,420.55 L525.92,421.86 L526.17,422.53 L526.45,422.85 L526.74,423.32 L527.06,423.79 L527.41,425.09 L527.80,425.48 L528.03,425.98 L528.28,425.96 L528.54,426.61 L528.82,427.48 L529.11,427.50 L529.41,427.94 L529.72,428.93 L530.03,430.21 L530.35,430.34 L530.67,431.51 L530.99,431.38 L531.30,431.88 L531.61,431.97 L531.90,432.90 L532.19,434.34 L532.47,434.36 L532.73,435.04 L532.98,435.49 L533.20,435.60 L533.58,436.24 L533.92,437.04 L534.22,437.88 L534.49,438.32 L534.74,438.84 L534.98,439.16 L535.21,439.22 L535.44,439.92 L535.69,440.10 L535.95,441.50 L536.22,440.65 L536.49,442.03 L536.75,443.74 L537.01,443.05 L537.27,443.23 L537.54,444.28 L537.81,445.41 L538.09,445.31 L538.39,446.21 L538.70,446.54 L539.00,446.85 L539.31,448.97 L539.63,448.12 L539.96,448.39 L540.30,448.95 L540.64,449.89 L540.98,450.45 L541.33,451.16 L541.67,451.42 L542.01,451.26 L542.35,452.69 L542.68,452.86 L543.00,453.42 L543.32,453.44 L543.64,454.41 L543.96,454.91 L544.28,455.77 L544.61,455.69 L544.94,456.90 L545.28,457.46 L545.63,457.41 L546.00,458.12 L546.42,458.53 L546.85,459.81 L547.30,458.73 L547.76,460.17 L548.22,460.02 L548.69,461.00 L549.16,462.01 L549.63,461.78 L550.09,462.56 L550.55,462.57 L551.00,464.28 L551.44,464.27 L551.89,464.82 L552.32,464.17 L552.77,464.73 L553.21,466.17 L553.67,466.05 L554.13,466.47 L554.61,467.20 L555.10,466.94 L555.56,468.26 L556.04,468.34 L556.53,468.96 L557.03,468.85 L557.54,469.80 L558.05,469.66 L558.56,470.82 L559.07,471.32 L559.59,471.63 L560.10,471.87 L560.60,472.34 L561.10,471.25 L561.60,473.25 L562.10,473.17 L562.60,473.75 L563.10,473.99 L563.60,473.90 L564.10,474.70 L564.60,475.65 L565.10,476.41 L565.60,475.90 L566.10,476.19 L566.60,477.67 L567.09,477.04 L567.59,478.78 L568.09,478.29 L568.58,478.29 L569.08,479.55 L569.57,480.29 L570.06,479.30 L570.56,481.06 L571.05,480.65 L571.55,481.87 L572.04,481.45 L572.52,481.34 L572.99,482.71 L573.45,483.33 L573.92,484.29 L574.40,484.55 L574.88,484.51 L575.38,484.51 L575.90,484.79 L576.44,485.29 L577.00,485.43 L577.51,486.00 L578.04,485.32 L578.60,486.89 L579.17,487.15 L579.75,488.66 L580.35,488.18 L580.95,487.94 L581.54,488.71 L582.13,488.17 L582.70,488.69 L583.26,488.31 L583.79,489.95 L584.30,489.67 L584.99,488.87 L585.64,489.21 L586.27,489.39 L586.87,488.84 L587.45,488.43 L588.03,487.54 L588.61,487.39 L589.20,487.59 L589.80,488.01 L590.28,487.42 L590.73,487.58 L591.15,488.98 L591.57,488.50 L592.00,489.90 L592.43,490.05 L592.90,490.86 L593.41,491.76 L593.97,491.76 L594.60,492.21 L595.30,491.79 L595.77,492.06 L596.29,492.82 L596.83,493.37 L597.40,493.44 L598.00,493.98 L598.61,493.20 L599.25,493.26 L599.89,493.72 L600.55,493.37 L601.21,493.42 L601.87,493.06 L602.53,494.05 L603.18,493.20 L603.82,493.98 L604.45,493.17 L605.06,494.37 L605.64,493.48 L606.20,494.38 L606.89,493.36 L607.56,493.93 L608.21,494.71 L608.85,493.85 L609.47,494.28 L610.08,494.05 L610.69,493.25 L611.29,494.44 L611.88,494.51 L612.48,493.83 L613.08,494.60 L613.68,494.00 L614.28,493.92 L614.90,494.40 L615.54,494.11 L616.21,495.43 L616.91,493.66 L617.62,494.65 L618.33,494.71 L619.04,493.33 L619.75,493.40 L620.43,494.41 L621.08,493.94 L621.69,494.37 L622.26,494.78 L622.77,494.22 L623.22,494.09 L623.60,494.80 L623.97,495.20 L624.22,495.69 L624.38,496.26 L624.47,496.90 L624.49,497.58 L624.47,498.31 L624.43,499.05 L624.38,499.80 L624.34,500.54 L624.33,501.25 L624.38,501.93 L624.45,502.57 L624.52,503.22 L624.59,503.87 L624.66,504.52 L624.73,505.16 L624.80,505.81 L624.87,506.46 L624.94,507.11 L625.01,507.75 L625.08,508.40 L625.15,509.05 L625.22,509.70 L625.29,510.35 L625.36,510.99 L625.43,511.64 L625.50,512.29 L625.57,512.94 L625.64,513.58 L625.71,514.23 L625.78,514.88 L625.85,515.53 L625.93,516.17 L625.97,516.85 L625.98,517.57 L625.96,518.31 L625.93,519.07 L625.90,519.82 L625.90,520.54 L625.93,521.23 L626.01,521.87 L626.16,522.44 L626.38,522.92 L626.70,522.07 L627.10,523.67 L627.62,523.38 L628.23,523.90 L628.91,523.90 L629.64,523.56 L630.38,523.90 L631.13,523.90 L631.86,523.90 L632.54,523.46 L633.16,523.63 L633.69,523.34 L634.10,523.30 L634.41,522.94 L634.64,522.49 L634.81,521.96 L634.92,521.37 L634.98,520.73 L635.01,520.05 L635.03,519.34 L635.02,518.62 L635.02,517.90 L635.03,517.19 L635.07,516.51 L635.13,515.87 L635.22,515.25 L635.31,514.63 L635.39,514.01 L635.48,513.39 L635.56,512.77 L635.65,512.15 L635.74,511.53 L635.82,510.91 L635.91,510.29 L635.99,509.67 L636.08,509.05 L636.17,508.43 L636.24,507.80 L636.31,507.16 L636.36,506.50 L636.41,505.84 L636.46,505.18 L636.51,504.52 L636.57,503.88 L636.65,503.25 L636.75,502.64 L636.87,502.06 L637.02,501.51 L637.20,500.81 L637.47,499.86 L637.77,499.96 L638.08,499.30 L638.44,498.84 L638.83,497.96 L639.28,498.32 L639.78,497.43 L640.35,495.77 L641.00,496.41 L641.47,496.52 L641.99,496.85 L642.55,496.18 L643.15,496.12 L643.78,495.88 L644.43,496.44 L645.09,495.92 L645.77,495.84 L646.44,495.77 L647.11,496.36 L647.77,495.87 L648.41,495.36 L649.02,496.39 L649.60,495.78 L650.30,496.25 L650.99,496.25 L651.65,496.63 L652.30,496.57 L652.94,495.86 L653.57,496.06 L654.20,495.58 L654.82,496.94 L655.45,496.41 L656.08,496.86 L656.73,496.11 L657.37,495.34 L658.02,496.97 L658.67,496.33 L659.32,496.36 L659.96,496.34 L660.61,496.62 L661.26,496.59 L661.91,495.64 L662.55,496.86 L663.20,496.15 L663.85,496.19 L664.50,497.19 L665.15,496.84 L665.79,496.29 L666.44,495.62 L667.09,496.54 L667.74,496.72 L668.38,496.46 L669.03,495.95 L669.68,496.17 L670.33,495.97 L670.98,496.65 L671.65,496.93 L672.37,497.04 L673.11,496.27 L673.87,496.72 L674.62,496.88 L675.34,496.41 L676.03,496.59 L676.67,497.63 L677.24,496.77 L677.72,497.09 L678.10,496.50" stroke="#2f2fff" stroke-width="1.35" fill="none" stroke-linejoin="round"/>
<path d="M405.50,786.63 L405.85,785.60 L406.30,786.65 L406.82,787.42 L407.40,788.01 L408.04,787.53 L408.71,787.27 L409.41,786.95 L410.12,786.62 L410.83,786.94 L411.53,787.46 L412.20,786.68 L412.83,787.76 L413.44,786.66 L414.06,786.23 L414.67,786.74 L415.28,786.40 L415.89,786.63 L416.50,788.18 L417.11,787.43 L417.72,787.73 L418.33,788.34 L418.94,788.46 L419.56,787.45 L420.17,788.60 L420.78,788.08 L421.39,787.92 L422.01,788.24 L422.63,787.19 L423.25,787.64 L423.86,788.11 L424.48,788.60 L425.09,788.06 L425.70,788.25 L426.30,788.95 L426.90,789.24 L427.50,788.86 L428.14,789.15 L428.78,788.13 L429.41,788.15 L430.03,788.48 L430.66,788.05 L431.28,787.86 L431.89,789.09 L432.51,787.91 L433.13,787.39 L433.75,788.20 L434.38,788.95 L435.00,787.85 L435.62,788.49 L436.25,787.44 L436.88,787.36 L437.50,787.19 L438.12,787.46 L438.75,788.60 L439.38,786.76 L440.00,788.38 L440.62,786.74 L441.25,787.16 L441.88,787.75 L442.50,787.58 L443.12,787.32 L443.75,786.11 L444.38,787.27 L445.00,786.39 L445.62,788.49 L446.25,786.77 L446.88,786.96 L447.50,786.11 L448.12,786.46 L448.75,785.91 L449.37,787.17 L449.99,786.30 L450.61,786.66 L451.22,785.79 L451.84,785.79 L452.47,786.78 L453.09,785.38 L453.72,784.89 L454.36,786.29 L455.00,785.52 L455.51,786.11 L456.03,787.15 L456.54,786.38 L457.07,787.71 L457.59,787.11 L458.12,788.78 L458.65,789.06 L459.18,788.38 L459.71,788.94 L460.24,788.97 L460.77,789.99 L461.30,790.96 L461.82,789.78 L462.35,791.55 L462.87,790.56 L463.40,791.20 L463.92,791.03 L464.45,793.75 L464.97,792.91 L465.50,793.41 L466.02,793.24 L466.55,794.66 L467.07,793.11 L467.60,794.73 L468.12,796.35 L468.65,795.09 L469.17,795.59 L469.70,796.20 L470.32,795.54 L470.93,796.24 L471.55,796.98 L472.17,796.67 L472.78,796.90 L473.40,796.57 L474.02,797.03 L474.64,796.91 L475.26,797.76 L475.87,797.29 L476.49,796.65 L477.10,795.23 L477.66,797.00 L478.23,796.84 L478.79,795.62 L479.35,794.71 L479.91,794.94 L480.48,795.88 L481.04,794.36 L481.60,794.39 L482.16,794.45 L482.72,794.72 L483.28,793.65 L483.84,793.28 L484.40,792.72 L484.96,793.74 L485.53,793.10 L486.09,792.09 L486.65,790.99 L487.22,791.04 L487.78,791.54 L488.35,790.45 L488.91,791.12 L489.47,790.52 L490.03,790.22 L490.59,790.19 L491.15,789.88 L491.70,788.89 L492.35,789.03 L493.00,790.50 L493.65,788.27 L494.29,788.64 L494.93,789.52 L495.57,788.76 L496.21,788.34 L496.85,788.02 L497.49,789.11 L498.13,789.36 L498.77,789.54 L499.42,788.67 L500.06,789.20 L500.70,787.89 L501.35,788.55 L501.99,787.98 L502.63,788.42 L503.28,788.70 L503.92,788.83 L504.56,787.53 L505.21,788.82 L505.85,787.72 L506.49,787.32 L507.14,787.77 L507.78,786.93 L508.42,787.75 L509.07,787.86 L509.71,787.50 L510.35,787.88 L511.00,787.30 L511.64,787.43 L512.28,786.50 L512.92,787.33 L513.57,786.72 L514.22,786.89 L514.88,787.04 L515.54,787.14 L516.19,785.96 L516.85,785.94 L517.49,786.63 L518.14,787.03 L518.77,786.91 L519.39,787.18 L520.00,787.38 L520.65,786.86 L521.29,786.53 L521.92,785.90 L522.53,785.94 L523.14,786.22 L523.74,786.66 L524.34,786.63 L524.95,786.50 L525.55,786.40 L526.16,786.86 L526.78,786.59 L527.40,786.64 L528.01,786.63 L528.63,786.11 L529.25,785.80 L529.86,786.71 L530.48,786.65 L531.09,786.26 L531.71,786.13 L532.33,787.73 L532.94,785.90 L533.56,786.21 L534.18,786.49 L534.79,785.62 L535.41,786.37 L536.03,787.37 L536.64,786.84 L537.26,786.65 L537.87,786.61 L538.49,786.31 L539.11,786.81 L539.72,786.13 L540.34,785.96 L540.96,786.26 L541.57,786.73 L542.19,786.37 L542.81,786.57 L543.42,784.94 L544.04,786.85 L544.65,787.53 L545.27,786.92 L545.89,785.91 L546.50,785.58 L547.12,786.25 L547.74,785.48 L548.35,786.49 L548.97,785.73 L549.59,786.61 L550.20,786.84 L550.82,784.79 L551.43,786.17 L552.05,785.57 L552.67,785.13 L553.28,785.59 L553.90,785.82 L554.52,786.56 L555.13,785.01 L555.75,786.55 L556.37,787.11 L556.98,786.25 L557.60,786.21 L558.21,785.86 L558.83,785.15 L559.45,786.16 L560.06,786.06 L560.68,786.26 L561.30,787.35 L561.91,786.23 L562.53,786.04 L563.15,786.71 L563.76,784.95 L564.38,785.06 L564.99,785.51 L565.61,785.33 L566.23,786.13 L566.84,785.51 L567.46,786.73 L568.08,786.59 L568.69,786.13 L569.31,785.42 L569.93,786.01 L570.54,786.12 L571.16,784.98 L571.77,785.82 L572.39,786.02 L573.01,785.71 L573.62,786.51 L574.24,786.29 L574.86,785.05 L575.47,785.61 L576.09,785.02 L576.71,785.86 L577.32,784.98 L577.94,786.04 L578.55,785.71 L579.17,786.05 L579.79,785.37 L580.40,784.57 L581.02,786.49 L581.64,785.31 L582.26,786.27 L582.91,785.78 L583.56,786.03 L584.21,786.84 L584.86,786.05 L585.50,786.75 L586.12,785.02 L586.71,786.34 L587.28,785.48 L587.80,785.22 L588.14,784.95 L588.46,784.66 L588.75,784.85 L589.02,782.07 L589.28,782.47 L589.52,781.25 L589.77,781.61 L590.01,779.90 L590.25,779.72 L590.51,778.57 L590.77,778.66 L591.06,778.43 L591.37,777.29 L591.70,777.43 L592.03,776.59 L592.38,777.81 L592.74,778.45 L593.11,778.01 L593.49,779.52 L593.88,778.16 L594.28,778.90 L594.68,779.82 L595.09,781.00 L595.51,781.94 L595.92,782.49 L596.34,783.06 L596.76,784.02 L597.18,783.71 L597.60,783.54 L598.17,783.84 L598.76,786.04 L599.35,783.47 L599.95,784.83 L600.55,785.81 L601.16,785.19 L601.77,784.35 L602.38,784.79 L602.99,785.25 L603.60,785.44 L604.20,784.19 L604.80,785.22 L605.40,784.95 L606.00,785.50 L606.60,785.71 L607.20,784.71 L607.80,784.09 L608.40,785.23 L609.00,786.10 L609.60,785.48 L610.20,785.25 L610.80,786.59 L611.40,784.56 L612.00,785.77 L612.60,784.92 L613.20,785.33 L613.80,785.40 L614.40,786.29 L615.00,784.86 L615.60,785.14 L616.20,784.54 L616.80,785.83 L617.40,785.30 L618.02,785.84 L618.68,784.91 L619.35,785.28 L620.04,786.05 L620.72,785.26 L621.39,785.70 L622.02,785.64 L622.61,785.16 L623.15,784.55 L623.61,786.29 L624.00,786.00 L624.27,786.38 L624.48,786.84 L624.63,787.38 L624.72,787.98 L624.78,788.63 L624.81,789.32 L624.81,790.03 L624.81,790.76 L624.81,791.48 L624.82,792.20 L624.84,792.88 L624.90,793.53 L624.98,794.16 L625.05,794.79 L625.12,795.42 L625.20,796.04 L625.27,796.67 L625.35,797.30 L625.42,797.93 L625.50,798.56 L625.58,799.18 L625.65,799.81 L625.73,800.44 L625.80,801.07 L625.85,801.72 L625.87,802.41 L625.87,803.13 L625.86,803.86 L625.85,804.59 L625.84,805.30 L625.86,806.00 L625.92,806.65 L626.02,807.25 L626.17,807.78 L626.40,808.24 L626.70,808.70 L627.11,808.90 L627.62,807.91 L628.23,808.30 L628.90,808.13 L629.61,808.90 L630.35,808.90 L631.10,808.90 L631.82,808.90 L632.50,808.90 L633.13,808.90 L633.66,808.68 L634.10,808.84 L634.47,808.32 L634.75,806.46 L634.96,806.99 L635.12,807.42 L635.23,805.71 L635.32,805.16 L635.38,804.16 L635.44,803.50 L635.51,803.75 L635.61,802.22 L635.73,801.12 L635.88,799.24 L636.03,800.14 L636.18,798.68 L636.33,798.14 L636.48,799.09 L636.62,798.41 L636.77,796.21 L636.92,797.25 L637.07,796.39 L637.22,795.02 L637.37,795.31 L637.50,793.24 L637.60,792.81 L637.68,791.95 L637.76,791.43 L637.83,791.90 L637.93,789.88 L638.05,789.33 L638.20,788.83 L638.41,788.97 L638.67,788.17 L639.00,788.52 L639.45,787.28 L639.99,786.74 L640.60,787.12 L641.26,787.42 L641.95,786.86 L642.68,787.65 L643.41,788.65 L644.14,787.28 L644.84,787.69 L645.52,788.47 L646.17,787.24 L646.82,787.09 L647.47,786.90 L648.12,787.76 L648.77,787.80 L649.43,787.37 L650.08,787.45 L650.73,788.15 L651.38,787.88 L652.03,786.48 L652.68,787.28 L653.34,787.32 L653.99,787.65 L654.64,787.05 L655.29,786.77 L655.94,786.84 L656.59,786.02 L657.25,787.04 L657.90,786.66 L658.55,787.26 L659.20,786.33 L659.85,786.65 L660.50,786.29 L661.16,786.21 L661.81,787.23 L662.46,786.50 L663.11,787.01 L663.76,786.04 L664.41,786.74 L665.07,785.63 L665.72,786.32 L666.37,786.28 L667.02,786.89 L667.67,786.62 L668.33,786.37 L668.98,786.94 L669.63,786.52 L670.28,786.70 L670.93,786.80 L671.58,786.27 L672.26,786.10 L672.99,786.43 L673.74,785.95 L674.50,786.39 L675.25,786.78 L675.96,786.59 L676.62,785.82 L677.21,785.25 L677.71,785.96 L678.10,785.90" stroke="#a0a0a0" stroke-width="1.8" fill="none" stroke-linejoin="round"/>
<path d="M405.50,785.44 L405.85,784.57 L406.30,784.71 L406.82,785.32 L407.40,784.64 L408.04,784.88 L408.71,786.06 L409.41,785.98 L410.12,785.53 L410.83,785.37 L411.53,784.68 L412.20,785.65 L412.83,785.41 L413.44,785.55 L414.06,785.16 L414.67,785.51 L415.28,785.46 L415.89,785.81 L416.50,786.53 L417.11,785.94 L417.72,784.78 L418.33,785.24 L418.94,784.92 L419.56,785.45 L420.17,786.31 L420.78,786.26 L421.40,785.72 L422.03,786.30 L422.65,785.74 L423.28,785.41 L423.90,785.47 L424.52,785.86 L425.14,787.27 L425.74,785.67 L426.34,787.25 L426.93,787.34 L427.50,786.46 L428.17,786.56 L428.82,786.23 L429.45,786.58 L430.07,786.98 L430.69,786.58 L431.30,787.15 L431.90,787.25 L432.51,786.72 L433.12,786.70 L433.74,786.45 L434.36,786.69 L434.99,785.81 L435.61,786.71 L436.24,786.58 L436.86,785.93 L437.48,787.73 L438.11,785.85 L438.73,785.90 L439.36,786.58 L439.98,785.25 L440.60,785.93 L441.23,785.48 L441.85,785.81 L442.48,786.30 L443.10,786.56 L443.72,787.02 L444.35,786.83 L444.97,787.05 L445.60,786.69 L446.22,786.05 L446.84,786.99 L447.47,786.02 L448.09,785.94 L448.72,787.21 L449.34,786.76 L449.96,786.41 L450.59,786.72 L451.21,786.79 L451.84,785.44 L452.46,786.19 L453.08,785.52 L453.70,786.27 L454.32,785.76 L454.93,786.93 L455.55,786.39 L456.17,785.57 L456.79,786.03 L457.42,785.33 L458.06,786.12 L458.70,786.49 L459.29,786.43 L459.89,785.24 L460.50,786.35 L461.11,787.04 L461.73,787.11 L462.34,787.82 L462.96,786.56 L463.58,787.86 L464.20,787.36 L464.82,788.06 L465.43,788.38 L466.05,788.72 L466.66,788.14 L467.27,788.78 L467.88,788.15 L468.49,788.18 L469.11,789.54 L469.72,789.35 L470.33,788.59 L470.94,789.23 L471.55,789.93 L472.17,791.03 L472.78,790.92 L473.40,790.98 L474.01,789.65 L474.63,790.89 L475.25,791.47 L475.86,791.63 L476.48,791.84 L477.09,791.63 L477.70,792.96 L478.30,792.90 L478.90,792.01 L479.55,791.48 L480.20,793.24 L480.84,791.57 L481.48,792.48 L482.12,792.74 L482.76,790.85 L483.39,791.40 L484.03,790.83 L484.66,791.17 L485.30,790.91 L485.92,791.75 L486.50,790.81 L487.07,790.32 L487.63,790.88 L488.21,789.91 L488.80,789.73 L489.43,791.15 L490.12,789.18 L490.87,789.23 L491.70,789.39 L492.20,788.64 L492.74,787.90 L493.31,789.69 L493.90,788.47 L494.51,788.50 L495.14,788.48 L495.79,787.99 L496.45,787.81 L497.11,788.43 L497.78,789.65 L498.45,788.53 L499.11,788.43 L499.77,786.97 L500.41,787.76 L501.04,786.97 L501.65,788.06 L502.24,787.39 L502.80,787.49 L503.49,787.35 L504.16,787.01 L504.81,786.43 L505.44,787.67 L506.06,786.49 L506.66,786.62 L507.26,787.17 L507.85,786.94 L508.43,787.54 L509.02,788.02 L509.60,787.58 L510.19,787.57 L510.79,787.47 L511.40,787.98 L512.02,786.36 L512.65,787.68 L513.29,786.90 L513.93,786.72 L514.57,787.47 L515.21,787.23 L515.85,787.81 L516.49,788.12 L517.11,786.07 L517.72,787.42 L518.32,788.64 L518.90,787.98 L519.46,788.33 L520.00,787.53 L520.71,786.61 L521.39,786.79 L522.03,787.90 L522.64,788.05 L523.23,787.04 L523.81,787.32 L524.38,787.65 L524.96,786.44 L525.55,787.29 L526.15,788.47 L526.77,788.82 L527.38,787.45 L528.00,788.61 L528.62,787.20 L529.23,787.04 L529.85,786.18 L530.46,788.10 L531.08,787.31 L531.69,788.94 L532.31,787.74 L532.92,787.66 L533.54,786.47 L534.15,788.45 L534.77,787.34 L535.38,787.46 L536.00,786.24 L536.62,788.12 L537.23,788.17 L537.85,787.21 L538.46,787.64 L539.08,787.82 L539.69,788.17 L540.31,787.66 L540.92,788.63 L541.54,787.46 L542.15,787.24 L542.77,787.33 L543.38,786.09 L544.00,787.13 L544.62,788.22 L545.23,787.78 L545.85,787.14 L546.46,787.84 L547.08,786.42 L547.69,787.47 L548.31,787.96 L548.92,788.07 L549.54,787.19 L550.15,788.20 L550.77,788.78 L551.38,787.41 L552.00,788.11 L552.62,786.74 L553.23,786.50 L553.85,788.05 L554.46,787.71 L555.08,787.81 L555.69,787.34 L556.31,787.52 L556.92,788.19 L557.54,788.73 L558.15,787.58 L558.77,786.72 L559.38,788.48 L560.00,788.08 L560.62,788.13 L561.23,787.84 L561.85,789.12 L562.46,787.78 L563.08,788.05 L563.69,786.63 L564.31,787.40 L564.92,787.34 L565.54,787.74 L566.15,787.97 L566.77,787.31 L567.38,788.80 L568.00,787.13 L568.62,787.50 L569.23,787.92 L569.85,787.03 L570.46,788.13 L571.08,788.17 L571.69,787.62 L572.31,788.94 L572.92,787.85 L573.54,787.97 L574.15,787.23 L574.77,786.81 L575.38,787.44 L576.00,787.63 L576.62,787.55 L577.23,788.29 L577.85,786.40 L578.46,787.15 L579.08,786.74 L579.69,788.65 L580.31,787.51 L580.92,787.54 L581.54,787.19 L582.15,788.40 L582.77,787.61 L583.38,788.00 L584.00,786.65 L584.62,788.58 L585.23,788.11 L585.85,788.21 L586.46,788.63 L587.08,787.77 L587.69,787.79 L588.31,788.33 L588.92,788.16 L589.54,787.76 L590.15,787.94 L590.77,787.61 L591.38,788.35 L592.00,788.48 L592.62,787.93 L593.23,789.06 L593.85,787.01 L594.46,787.80 L595.08,788.97 L595.70,787.70 L596.32,787.00 L596.93,788.81 L597.55,788.30 L598.17,787.26 L598.78,788.45 L599.39,787.36 L600.00,787.17 L600.61,787.87 L601.21,787.65 L601.81,787.26 L602.41,787.67 L603.01,787.26 L603.61,787.87 L604.20,787.79 L604.80,788.22 L605.40,787.47 L606.00,786.92 L606.60,786.90 L607.20,787.52 L607.80,788.57 L608.40,788.13 L609.00,787.21 L609.60,788.14 L610.20,786.85 L610.80,788.13 L611.40,787.27 L612.00,787.93 L612.60,787.82 L613.20,787.25 L613.80,787.59 L614.40,786.73 L615.00,787.30 L615.60,787.97 L616.20,789.76 L616.80,787.69 L617.40,787.30 L618.00,786.61 L618.62,787.80 L619.28,786.06 L619.96,786.43 L620.64,786.98 L621.32,785.91 L621.97,787.46 L622.57,787.16 L623.13,786.20 L623.61,786.36 L624.00,787.00 L624.25,787.34 L624.45,787.77 L624.58,788.28 L624.68,788.85 L624.74,789.47 L624.77,790.13 L624.78,790.82 L624.79,791.52 L624.79,792.23 L624.81,792.91 L624.84,793.58 L624.90,794.20 L624.98,794.80 L625.05,795.40 L625.12,796.00 L625.20,796.60 L625.27,797.20 L625.35,797.80 L625.42,798.40 L625.50,799.00 L625.58,799.60 L625.65,800.20 L625.73,800.80 L625.80,801.40 L625.85,802.02 L625.87,802.68 L625.87,803.37 L625.86,804.07 L625.85,804.76 L625.84,805.45 L625.86,806.11 L625.92,806.73 L626.02,807.31 L626.17,807.82 L626.40,808.25 L626.70,807.78 L627.11,808.01 L627.62,808.90 L628.21,808.90 L628.88,808.90 L629.59,808.90 L630.32,808.90 L631.06,808.90 L631.78,808.56 L632.46,808.90 L633.09,808.90 L633.64,808.90 L634.10,808.29 L634.42,808.04 L634.69,808.66 L634.92,808.43 L635.11,805.93 L635.27,805.99 L635.41,805.77 L635.53,805.72 L635.63,803.81 L635.73,804.02 L635.82,802.77 L635.92,803.71 L636.03,801.87 L636.16,800.90 L636.30,800.17 L636.45,800.41 L636.58,799.56 L636.70,797.86 L636.81,798.00 L636.92,796.41 L637.03,796.11 L637.15,795.15 L637.28,794.50 L637.42,794.28 L637.58,793.52 L637.76,793.88 L637.98,793.54 L638.22,792.45 L638.50,791.50 L638.91,792.20 L639.38,790.09 L639.89,789.81 L640.44,791.11 L641.02,790.82 L641.62,790.80 L642.24,789.90 L642.87,789.11 L643.49,789.42 L644.10,789.94 L644.70,789.01 L645.29,788.94 L645.89,788.46 L646.49,788.56 L647.09,789.76 L647.70,789.53 L648.32,788.58 L648.93,788.66 L649.55,789.01 L650.16,789.70 L650.77,788.69 L651.38,789.29 L651.99,788.09 L652.59,788.62 L653.20,789.62 L653.81,789.91 L654.42,788.66 L655.02,788.88 L655.63,789.82 L656.24,789.10 L656.85,789.00 L657.45,789.63 L658.06,789.43 L658.67,789.98 L659.27,789.78 L659.88,788.94 L660.49,789.21 L661.10,789.24 L661.70,788.45 L662.31,788.68 L662.92,789.84 L663.53,788.29 L664.13,789.84 L664.74,789.41 L665.35,789.14 L665.95,789.54 L666.56,789.50 L667.17,789.93 L667.78,788.96 L668.38,789.05 L668.99,789.04 L669.60,790.31 L670.21,789.74 L670.81,788.61 L671.42,788.95 L672.05,788.72 L672.72,789.15 L673.42,789.26 L674.13,790.50 L674.83,788.02 L675.52,789.73 L676.16,789.36 L676.76,788.67 L677.29,789.00 L677.74,788.78 L678.10,789.11" stroke="#ff2020" stroke-width="1.6" fill="none" stroke-linejoin="round"/>
<path d="M405.50,786.28 L405.85,784.82 L406.30,786.60 L406.82,785.67 L407.40,786.90 L408.04,786.35 L408.71,786.96 L409.41,786.67 L410.12,787.11 L410.83,786.61 L411.53,786.19 L412.20,787.21 L412.83,787.34 L413.44,788.28 L414.06,785.91 L414.67,787.10 L415.28,787.96 L415.89,786.67 L416.50,787.39 L417.11,788.91 L417.72,788.59 L418.33,787.31 L418.94,788.80 L419.56,788.76 L420.17,788.61 L420.78,788.49 L421.39,788.52 L422.00,787.98 L422.61,788.32 L423.22,789.21 L423.83,788.98 L424.44,790.12 L425.05,788.92 L425.67,787.77 L426.28,789.09 L426.89,789.52 L427.50,789.61 L428.11,789.43 L428.72,788.87 L429.34,790.22 L429.95,788.87 L430.56,789.62 L431.17,788.94 L431.79,788.30 L432.40,789.77 L433.01,787.32 L433.62,788.23 L434.24,788.92 L434.85,788.37 L435.46,788.97 L436.08,788.39 L436.69,788.11 L437.30,789.62 L437.91,788.12 L438.53,788.09 L439.14,787.47 L439.75,787.60 L440.36,788.38 L440.98,788.26 L441.59,787.85 L442.20,787.37 L442.81,788.13 L443.42,786.63 L444.04,787.38 L444.65,787.37 L445.26,786.95 L445.88,787.48 L446.49,786.92 L447.10,786.77 L447.71,788.27 L448.32,787.57 L448.94,787.78 L449.55,787.02 L450.16,787.48 L450.75,787.25 L451.35,787.36 L451.94,787.90 L452.52,786.18 L453.12,786.33 L453.71,786.02 L454.32,783.85 L454.94,785.08 L455.57,785.95 L456.23,786.41 L456.90,785.85 L457.37,787.04 L457.85,787.35 L458.36,786.59 L458.87,787.98 L459.40,788.50 L459.94,788.08 L460.48,787.58 L461.02,789.44 L461.56,788.86 L462.10,789.13 L462.64,789.83 L463.16,789.83 L463.68,791.18 L464.18,791.37 L464.67,791.98 L465.14,791.91 L465.58,791.37 L466.00,792.00 L466.70,793.00 L467.34,792.55 L467.93,794.81 L468.48,793.13 L469.00,793.12 L469.50,794.34 L470.00,794.27 L470.50,793.98 L471.01,794.05 L471.55,794.66 L472.10,795.15 L472.65,795.40 L473.19,795.07 L473.73,795.82 L474.27,796.37 L474.82,796.60 L475.37,794.53 L475.94,796.03 L476.51,796.21 L477.10,796.56 L477.65,796.75 L478.21,797.06 L478.78,796.68 L479.36,796.00 L479.95,795.81 L480.54,796.54 L481.14,794.79 L481.73,795.02 L482.32,795.46 L482.91,794.43 L483.50,792.72 L484.08,793.92 L484.66,793.21 L485.24,793.11 L485.83,793.55 L486.41,792.95 L486.99,792.25 L487.57,792.69 L488.15,792.16 L488.73,791.72 L489.32,791.61 L489.90,791.35 L490.48,790.78 L491.07,790.50 L491.66,790.60 L492.24,789.82 L492.83,789.45 L493.42,790.80 L494.00,789.69 L494.59,789.64 L495.18,789.39 L495.76,789.30 L496.35,789.11 L496.93,788.94 L497.49,788.21 L498.05,789.04 L498.60,787.85 L499.16,788.67 L499.72,786.69 L500.30,787.00 L500.89,788.05 L501.50,787.19 L502.13,786.72 L502.80,787.23 L503.35,786.29 L503.92,786.90 L504.50,785.47 L505.10,786.49 L505.71,786.34 L506.34,787.03 L506.97,787.22 L507.60,786.17 L508.24,787.64 L508.88,786.31 L509.52,785.42 L510.15,785.21 L510.78,787.55 L511.40,786.55 L512.02,786.18 L512.65,786.09 L513.29,785.86 L513.93,787.30 L514.57,786.41 L515.22,787.51 L515.86,786.29 L516.49,784.97 L517.11,786.86 L517.73,786.10 L518.32,786.15 L518.90,787.20 L519.46,786.07 L520.00,786.90 L520.71,786.15 L521.38,785.66 L522.01,786.37 L522.62,785.65 L523.21,786.70 L523.78,786.49 L524.35,785.91 L524.92,786.19 L525.50,786.11 L526.10,785.56 L526.71,786.21 L527.32,785.49 L527.93,785.95 L528.54,784.96 L529.15,785.55 L529.76,785.69 L530.37,784.92 L530.98,785.10 L531.59,784.98 L532.20,785.69 L532.81,784.77 L533.42,785.42 L534.03,786.02 L534.64,785.28 L535.25,784.05 L535.86,785.04 L536.47,785.55 L537.08,784.70 L537.69,785.49 L538.30,785.15 L538.91,784.99 L539.51,784.56 L540.10,784.39 L540.70,784.53 L541.30,784.70 L541.90,784.95 L542.51,784.85 L543.13,784.35 L543.76,784.47 L544.40,784.54 L544.95,783.20 L545.50,783.55 L546.07,783.35 L546.64,783.51 L547.22,783.26 L547.80,783.05 L548.38,782.45 L548.97,783.15 L549.56,782.68 L550.14,781.30 L550.72,782.08 L551.30,781.18 L551.87,782.68 L552.42,781.20 L552.95,781.05 L553.49,781.15 L554.02,780.80 L554.56,780.70 L555.11,781.47 L555.68,780.48 L556.26,780.63 L556.88,780.58 L557.52,779.08 L558.20,780.42 L558.71,779.62 L559.24,779.57 L559.79,778.25 L560.37,779.02 L560.95,778.53 L561.55,777.71 L562.16,779.14 L562.78,777.85 L563.40,777.10 L564.02,777.10 L564.63,777.28 L565.24,777.16 L565.84,776.59 L566.43,776.74 L567.01,776.68 L567.56,774.85 L568.10,775.12 L568.77,774.61 L569.42,774.96 L570.04,775.50 L570.65,774.74 L571.24,773.45 L571.83,773.66 L572.41,774.23 L572.99,773.11 L573.57,773.25 L574.16,773.42 L574.76,772.15 L575.37,773.80 L576.00,773.72 L576.44,774.06 L576.90,773.42 L577.36,773.92 L577.83,774.45 L578.30,775.44 L578.78,775.86 L579.26,776.46 L579.74,778.03 L580.22,778.33 L580.70,777.70 L581.18,778.31 L581.66,780.27 L582.13,779.56 L582.60,781.04 L583.06,781.57 L583.51,780.62 L583.95,781.04 L584.38,781.41 L584.80,780.89 L585.26,780.75 L585.72,780.89 L586.17,781.31 L586.62,780.10 L587.06,779.73 L587.49,779.00 L587.92,777.83 L588.35,778.88 L588.76,775.91 L589.16,776.25 L589.56,776.33 L589.94,774.54 L590.32,775.19 L590.68,775.09 L591.03,773.44 L591.37,773.79 L591.70,772.85 L592.21,773.79 L592.68,773.73 L593.10,774.17 L593.49,775.37 L593.86,775.44 L594.21,776.64 L594.56,776.92 L594.91,776.51 L595.27,778.02 L595.65,778.71 L596.04,778.05 L596.41,780.26 L596.77,780.06 L597.13,780.80 L597.49,780.60 L597.87,781.71 L598.26,782.34 L598.67,782.42 L599.12,783.05 L599.60,782.04 L600.12,784.36 L600.68,783.03 L601.27,782.48 L601.89,783.26 L602.52,783.35 L603.16,784.16 L603.80,783.27 L604.45,783.97 L605.08,783.23 L605.70,785.16 L606.31,784.22 L606.92,785.11 L607.53,783.38 L608.14,784.44 L608.75,783.52 L609.36,784.50 L609.97,784.61 L610.58,783.30 L611.19,783.63 L611.80,783.66 L612.41,783.51 L613.02,784.03 L613.63,783.94 L614.24,783.70 L614.85,784.68 L615.46,785.00 L616.07,783.94 L616.68,784.44 L617.29,784.84 L617.90,784.74 L618.53,784.48 L619.20,785.36 L619.89,785.32 L620.59,785.15 L621.27,784.57 L621.93,785.87 L622.55,785.76 L623.11,784.60 L623.60,784.99 L624.00,785.40 L624.26,785.79 L624.45,786.27 L624.59,786.83 L624.69,787.44 L624.74,788.11 L624.77,788.82 L624.79,789.55 L624.79,790.29 L624.80,791.03 L624.81,791.76 L624.84,792.47 L624.90,793.13 L624.98,793.78 L625.05,794.42 L625.12,795.07 L625.20,795.71 L625.27,796.36 L625.35,797.00 L625.42,797.64 L625.50,798.29 L625.58,798.93 L625.65,799.58 L625.73,800.22 L625.80,800.87 L625.85,801.54 L625.87,802.25 L625.87,802.98 L625.86,803.73 L625.85,804.48 L625.84,805.22 L625.86,805.93 L625.92,806.60 L626.02,807.21 L626.17,807.76 L626.40,808.23 L626.70,808.90 L627.11,808.42 L627.62,808.90 L628.22,808.90 L628.89,808.90 L629.60,808.90 L630.34,808.59 L631.08,808.90 L631.80,808.22 L632.49,808.90 L633.11,808.90 L633.66,808.90 L634.10,808.79 L634.45,808.86 L634.73,808.60 L634.96,807.94 L635.13,807.32 L635.27,805.60 L635.38,805.76 L635.47,804.50 L635.55,803.43 L635.63,802.76 L635.72,803.03 L635.83,802.75 L635.97,800.68 L636.12,801.96 L636.28,801.20 L636.43,799.50 L636.59,798.86 L636.74,798.50 L636.90,798.54 L637.06,797.13 L637.21,796.10 L637.37,796.38 L637.52,794.35 L637.68,795.08 L637.83,795.10 L637.97,793.97 L638.09,793.60 L638.19,792.76 L638.29,792.21 L638.38,791.18 L638.48,789.92 L638.60,789.63 L638.74,789.11 L638.91,789.34 L639.13,789.05 L639.39,787.90 L639.70,786.85 L640.16,786.57 L640.69,786.72 L641.29,787.59 L641.93,786.95 L642.62,786.77 L643.32,786.44 L644.04,787.53 L644.75,787.27 L645.44,787.13 L646.10,787.25 L646.74,788.18 L647.38,787.06 L648.02,788.16 L648.66,787.88 L649.30,787.16 L649.94,787.64 L650.58,787.03 L651.22,786.59 L651.86,786.92 L652.50,786.52 L653.14,787.36 L653.78,787.05 L654.42,787.37 L655.06,787.52 L655.70,785.14 L656.34,787.18 L656.98,785.90 L657.62,787.07 L658.26,786.44 L658.90,787.01 L659.54,787.76 L660.18,785.90 L660.82,787.03 L661.46,786.86 L662.10,785.76 L662.74,787.27 L663.38,786.89 L664.02,786.55 L664.66,786.41 L665.30,788.76 L665.94,786.59 L666.58,785.73 L667.22,786.24 L667.86,786.57 L668.50,786.54 L669.14,786.72 L669.78,786.12 L670.42,787.06 L671.06,786.44 L671.70,785.90 L672.37,786.22 L673.08,786.46 L673.82,787.19 L674.57,786.96 L675.30,786.45 L676.00,786.65 L676.65,786.76 L677.23,787.84 L677.72,786.24 L678.10,786.88" stroke="#111" stroke-width="1.6" fill="none" stroke-linejoin="round"/>
<path d="M405.50,787.00 L405.87,785.88 L406.37,786.22 L406.97,785.87 L407.65,785.20 L408.40,785.53 L409.20,785.67 L409.71,785.73 L410.27,785.05 L410.85,785.34 L411.47,786.65 L412.10,784.88 L412.74,785.76 L413.39,786.28 L414.04,786.02 L414.68,786.44 L415.30,786.29 L415.91,786.72 L416.52,787.13 L417.13,786.41 L417.74,786.75 L418.35,786.72 L418.96,786.64 L419.57,786.96 L420.18,786.46 L420.79,787.60 L421.40,788.24 L422.01,788.35 L422.61,788.23 L423.22,787.12 L423.82,788.60 L424.43,787.49 L425.03,787.97 L425.64,789.13 L426.26,787.63 L426.88,788.78 L427.50,788.55 L428.13,788.39 L428.77,788.06 L429.41,788.83 L430.05,788.39 L430.70,789.26 L431.35,789.40 L432.00,788.01 L432.65,788.53 L433.30,788.68 L433.95,788.25 L434.59,788.34 L435.21,789.08 L435.83,789.00 L436.44,788.28 L437.06,788.97 L437.69,789.62 L438.33,788.73 L438.99,788.91 L439.68,790.30 L440.40,790.12 L440.98,788.46 L441.57,788.55 L442.18,789.41 L442.81,788.45 L443.44,788.86 L444.09,788.63 L444.74,789.06 L445.39,787.23 L446.05,787.28 L446.71,787.69 L447.36,788.79 L448.01,788.03 L448.65,787.06 L449.28,788.15 L449.89,788.11 L450.50,787.42 L451.10,787.19 L451.70,787.43 L452.30,787.67 L452.91,786.93 L453.53,786.99 L454.16,786.56 L454.81,786.30 L455.48,785.98 L456.18,786.65 L456.90,786.43 L457.42,786.57 L457.96,787.35 L458.52,787.28 L459.10,787.69 L459.69,786.56 L460.29,787.98 L460.91,787.61 L461.52,787.76 L462.15,788.03 L462.77,789.45 L463.38,789.54 L464.00,788.99 L464.60,789.05 L465.20,789.98 L465.78,790.00 L466.34,791.43 L466.88,789.96 L467.40,789.99 L467.90,791.06 L468.59,791.48 L469.23,791.80 L469.85,792.38 L470.43,793.32 L470.99,792.20 L471.54,792.29 L472.07,791.82 L472.59,793.11 L473.11,793.63 L473.63,793.21 L474.16,794.19 L474.69,793.76 L475.25,794.78 L475.81,794.36 L476.34,793.87 L476.87,794.38 L477.39,794.19 L477.91,794.39 L478.43,795.79 L478.96,796.40 L479.51,797.25 L480.07,796.37 L480.65,796.44 L481.27,796.07 L481.91,797.27 L482.60,796.91 L483.10,796.30 L483.63,796.89 L484.19,796.67 L484.77,795.15 L485.37,796.38 L485.99,795.80 L486.62,795.25 L487.26,794.96 L487.90,795.86 L488.53,795.44 L489.17,795.29 L489.80,793.34 L490.41,793.31 L491.01,793.86 L491.58,792.41 L492.13,792.40 L492.66,791.55 L493.15,793.33 L493.60,792.68 L494.37,792.00 L495.05,791.55 L495.65,790.91 L496.20,790.65 L496.69,790.95 L497.16,789.97 L497.62,790.79 L498.09,789.60 L498.57,789.14 L499.10,790.06 L499.67,789.01 L500.28,789.17 L500.92,788.42 L501.55,787.19 L502.18,788.51 L502.78,787.23 L503.34,788.30 L503.84,786.54 L504.26,786.00 L504.60,786.60 L504.84,786.10 L504.99,785.54 L505.06,784.92 L505.08,784.27 L505.05,783.58 L505.00,782.87 L504.94,782.16 L504.88,781.45 L504.84,780.76 L504.85,780.09 L504.87,779.44 L504.89,778.79 L504.92,778.14 L504.94,777.49 L504.97,776.84 L504.99,776.19 L505.02,775.53 L505.04,774.88 L505.07,774.23 L505.09,773.58 L505.12,772.93 L505.14,772.28 L505.16,771.63 L505.19,770.98 L505.21,770.33 L505.24,769.68 L505.26,769.03 L505.29,768.37 L505.31,767.72 L505.34,767.07 L505.36,766.42 L505.39,765.77 L505.41,765.12 L505.43,764.47 L505.46,763.82 L505.48,763.17 L505.51,762.52 L505.53,761.87 L505.56,761.21 L505.58,760.56 L505.61,759.91 L505.63,759.26 L505.66,758.61 L505.68,757.96 L505.70,757.31 L505.73,756.66 L505.75,756.01 L505.78,755.36 L505.80,754.71 L505.83,754.05 L505.85,753.40 L505.88,752.75 L505.90,752.10 L505.93,751.45 L505.95,750.80 L505.97,750.15 L506.00,749.50 L506.02,748.85 L506.05,748.20 L506.07,747.55 L506.10,746.89 L506.12,746.24 L506.15,745.59 L506.17,744.94 L506.20,744.29 L506.22,743.64 L506.24,742.99 L506.27,742.34 L506.29,741.69 L506.32,741.04 L506.34,740.39 L506.37,739.73 L506.39,739.08 L506.42,738.43 L506.44,737.78 L506.47,737.13 L506.49,736.48 L506.51,735.83 L506.54,735.18 L506.56,734.53 L506.59,733.88 L506.61,733.23 L506.64,732.57 L506.66,731.92 L506.69,731.27 L506.71,730.62 L506.74,729.97 L506.76,729.32 L506.78,728.67 L506.81,728.02 L506.83,727.37 L506.86,726.72 L506.88,726.07 L506.91,725.41 L506.93,724.76 L506.96,724.11 L506.98,723.46 L507.01,722.81 L507.03,722.16 L507.05,721.51 L507.08,720.86 L507.10,720.20 L507.12,719.55 L507.15,718.90 L507.17,718.24 L507.19,717.59 L507.22,716.94 L507.24,716.29 L507.27,715.64 L507.30,715.00 L507.33,714.36 L507.37,713.72 L507.41,713.09 L507.45,712.45 L507.49,711.82 L507.53,711.19 L507.58,710.56 L507.62,709.93 L507.66,709.30 L507.70,708.67 L507.74,708.03 L507.78,707.40 L507.82,706.77 L507.86,706.13 L507.90,705.50 L507.94,704.87 L507.98,704.23 L508.02,703.60 L508.06,702.97 L508.10,702.33 L508.14,701.70 L508.18,701.07 L508.22,700.43 L508.26,699.80 L508.30,699.17 L508.34,698.53 L508.38,697.90 L508.42,697.27 L508.46,696.63 L508.50,696.00 L508.54,695.37 L508.58,694.73 L508.62,694.10 L508.66,693.47 L508.70,692.83 L508.74,692.20 L508.78,691.57 L508.82,690.93 L508.86,690.30 L508.90,689.67 L508.94,689.03 L508.98,688.40 L509.02,687.77 L509.06,687.13 L509.10,686.50 L509.14,685.87 L509.18,685.23 L509.22,684.60 L509.26,683.97 L509.30,683.33 L509.34,682.64 L509.37,681.87 L509.40,681.04 L509.43,680.20 L509.46,679.38 L509.49,678.63 L509.53,677.98 L509.58,677.46 L509.63,677.13 L509.70,677.17 L509.78,677.35 L509.87,677.50 L509.97,677.27 L510.08,679.07 L510.19,678.51 L510.31,679.86 L510.43,680.51 L510.54,681.55 L510.66,682.99 L510.77,682.85 L510.87,684.13 L510.98,684.82 L511.09,684.12 L511.19,685.04 L511.30,686.09 L511.41,686.59 L511.51,687.71 L511.62,687.10 L511.73,689.18 L511.83,689.81 L511.93,689.91 L512.00,689.80 L512.06,691.12 L512.12,691.36 L512.19,692.52 L512.27,692.73 L512.37,693.80 L512.51,693.82 L512.68,695.58 L512.90,694.33 L513.04,695.51 L513.18,696.86 L513.34,696.32 L513.50,698.14 L513.67,697.68 L513.85,699.03 L514.04,699.13 L514.24,700.05 L514.44,701.05 L514.65,701.55 L514.87,702.05 L515.09,704.08 L515.32,703.52 L515.56,703.58 L515.80,705.18 L516.04,705.65 L516.29,706.36 L516.54,707.10 L516.80,705.98 L517.31,707.67 L517.85,708.15 L518.42,707.84 L519.01,708.20 L519.62,706.57 L520.24,708.02 L520.86,709.43 L521.48,707.59 L522.10,708.46 L522.70,709.16 L523.25,709.58 L523.81,710.43 L524.39,708.83 L524.96,710.10 L525.54,710.84 L526.11,709.93 L526.67,710.94 L527.21,712.33 L527.73,712.36 L528.23,712.30 L528.70,710.96 L529.14,712.75 L529.54,713.49 L529.92,713.59 L530.28,714.23 L530.63,716.48 L530.96,715.20 L531.29,715.32 L531.62,716.52 L531.95,716.75 L532.28,717.28 L532.63,717.92 L532.99,718.90 L533.35,719.11 L533.71,718.82 L534.06,719.92 L534.42,720.76 L534.78,720.75 L535.14,722.14 L535.49,722.44 L535.85,721.98 L536.21,723.20 L536.57,724.62 L536.92,724.90 L537.28,724.52 L537.64,725.55 L538.00,725.20 L538.35,725.28 L538.71,726.89 L539.07,727.23 L539.43,727.89 L539.78,728.09 L540.14,728.78 L540.50,728.82 L540.89,729.90 L541.29,730.63 L541.68,730.67 L542.07,731.68 L542.47,730.78 L542.86,731.84 L543.25,733.59 L543.65,734.29 L544.04,733.98 L544.43,734.31 L544.83,734.20 L545.22,735.62 L545.61,736.37 L546.01,735.66 L546.40,737.31 L546.79,737.80 L547.19,738.30 L547.58,737.96 L547.97,739.40 L548.37,738.81 L548.75,740.98 L549.12,740.75 L549.48,740.55 L549.85,742.45 L550.21,742.86 L550.59,742.39 L550.98,744.49 L551.39,743.25 L551.83,744.52 L552.30,745.55 L552.69,744.08 L553.10,746.32 L553.53,746.18 L553.97,746.66 L554.43,746.53 L554.89,747.76 L555.36,747.43 L555.84,747.97 L556.32,748.72 L556.80,748.75 L557.27,750.75 L557.74,749.61 L558.20,750.38 L558.66,751.08 L559.12,751.72 L559.58,752.63 L560.05,753.11 L560.51,752.97 L560.98,753.39 L561.44,754.09 L561.90,754.99 L562.35,755.38 L562.80,755.15 L563.24,754.74 L563.68,757.47 L564.10,757.22 L564.59,757.30 L565.06,757.78 L565.52,757.73 L565.97,757.87 L566.41,758.64 L566.85,759.09 L567.29,759.25 L567.73,759.17 L568.16,760.19 L568.60,761.07 L569.05,760.88 L569.50,761.57 L569.95,760.82 L570.40,762.25 L570.85,762.70 L571.30,762.50 L571.75,762.63 L572.20,764.21 L572.65,763.94 L573.10,765.06 L573.55,764.96 L574.00,765.94 L574.45,765.82 L574.89,765.58 L575.34,766.77 L575.79,767.04 L576.23,767.98 L576.68,767.78 L577.12,768.22 L577.56,769.31 L578.01,769.88 L578.45,770.06 L578.90,770.62 L579.33,770.71 L579.75,771.32 L580.16,771.82 L580.56,772.00 L580.96,772.25 L581.37,772.73 L581.80,774.39 L582.25,773.48 L582.73,773.72 L583.24,773.99 L583.80,774.48 L584.31,774.86 L584.85,774.28 L585.42,773.96 L586.01,775.33 L586.62,774.39 L587.25,775.51 L587.88,775.54 L588.52,776.19 L589.17,776.59 L589.82,776.00 L590.45,775.66 L591.08,775.51 L591.70,775.96 L592.23,776.67 L592.77,775.81 L593.31,777.32 L593.85,777.63 L594.40,778.36 L594.95,778.21 L595.49,778.85 L596.03,778.79 L596.57,779.33 L597.10,778.99 L597.62,780.39 L598.14,781.50 L598.64,781.03 L599.13,781.40 L599.60,780.86 L600.28,782.41 L600.94,781.35 L601.56,782.29 L602.17,781.94 L602.76,781.35 L603.35,782.41 L603.93,781.82 L604.51,781.87 L605.10,782.01 L605.70,781.76 L606.31,781.60 L606.92,782.11 L607.53,781.66 L608.14,781.96 L608.75,781.60 L609.36,781.18 L609.97,781.67 L610.58,781.80 L611.19,782.12 L611.80,782.80 L612.41,781.26 L613.02,782.30 L613.63,781.05 L614.24,781.72 L614.85,782.06 L615.46,781.14 L616.07,781.39 L616.68,782.53 L617.29,782.53 L617.90,782.46 L618.53,782.09 L619.21,783.69 L619.90,782.36 L620.60,781.91 L621.29,783.26 L621.95,782.65 L622.57,782.14 L623.13,783.09 L623.61,782.70 L624.00,782.90 L624.29,783.30 L624.48,783.80 L624.60,784.38 L624.66,785.03 L624.68,785.73 L624.67,786.46 L624.64,787.21 L624.63,787.94 L624.63,788.66 L624.67,789.33 L624.74,789.97 L624.81,790.61 L624.88,791.25 L624.94,791.90 L625.01,792.54 L625.08,793.18 L625.15,793.82 L625.21,794.47 L625.28,795.11 L625.35,795.75 L625.42,796.39 L625.49,797.03 L625.55,797.68 L625.62,798.32 L625.69,798.96 L625.76,799.61 L625.82,800.25 L625.89,800.89 L625.96,801.53 L626.03,802.17 L626.06,802.85 L626.05,803.56 L626.02,804.30 L625.97,805.05 L625.94,805.79 L625.95,806.49 L626.00,807.14 L626.13,807.73 L626.36,808.22 L626.70,808.90 L627.10,808.90 L627.62,808.49 L628.23,808.90 L628.90,808.90 L629.63,808.86 L630.38,808.90 L631.13,808.90 L631.86,808.90 L632.54,808.90 L633.16,808.90 L633.68,808.90 L634.10,808.60 L634.43,808.22 L634.68,807.74 L634.84,807.18 L634.94,806.54 L635.00,805.85 L635.02,805.13 L635.03,804.38 L635.02,803.63 L635.03,802.89 L635.06,802.17 L635.13,801.50 L635.23,800.85 L635.32,800.21 L635.42,799.56 L635.51,798.92 L635.60,798.27 L635.70,797.63 L635.79,796.98 L635.88,796.34 L635.98,795.69 L636.07,795.05 L636.17,794.40 L636.25,793.74 L636.32,793.05 L636.37,792.34 L636.43,791.62 L636.48,790.91 L636.54,790.22 L636.62,789.54 L636.72,788.90 L636.84,788.31 L637.00,787.77 L637.20,786.46 L637.58,787.03 L638.01,786.69 L638.51,786.25 L639.06,786.34 L639.66,785.40 L640.31,785.41 L641.00,785.67 L641.52,784.54 L642.08,785.60 L642.68,785.57 L643.30,785.05 L643.94,785.66 L644.60,785.15 L645.25,784.24 L645.91,785.39 L646.55,784.97 L647.18,785.03 L647.80,784.89 L648.42,785.55 L649.04,785.10 L649.66,784.42 L650.28,785.07 L650.89,785.20 L651.51,784.40 L652.13,784.56 L652.75,784.59 L653.37,784.47 L653.99,784.99 L654.60,785.36 L655.22,785.84 L655.84,785.46 L656.46,785.36 L657.08,785.43 L657.69,785.53 L658.31,784.59 L658.93,785.18 L659.55,784.98 L660.17,784.73 L660.79,784.55 L661.40,784.52 L662.02,784.65 L662.64,784.12 L663.26,785.09 L663.88,784.79 L664.50,784.86 L665.12,784.99 L665.73,785.20 L666.35,784.47 L666.97,784.74 L667.59,783.92 L668.21,783.58 L668.83,783.73 L669.44,785.65 L670.06,783.80 L670.68,785.06 L671.30,785.61 L671.92,784.55 L672.56,785.70 L673.25,785.82 L673.97,785.32 L674.69,786.10 L675.39,785.14 L676.07,784.40 L676.70,785.09 L677.26,784.56 L677.73,784.09 L678.10,784.10" stroke="#2f2fff" stroke-width="1.5" fill="none" stroke-linejoin="round"/>
</svg></body></html>
